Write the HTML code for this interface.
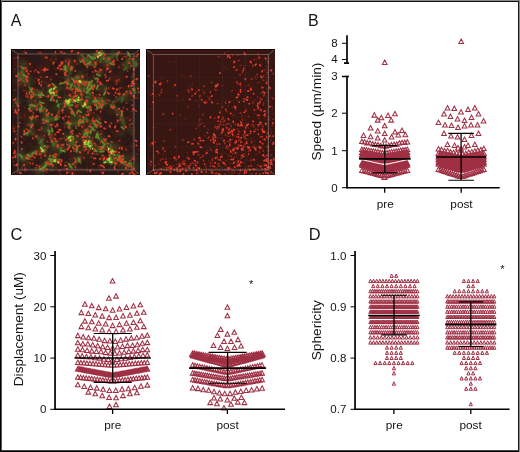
<!DOCTYPE html>
<html><head><meta charset="utf-8"><title>Figure</title>
<style>html,body{margin:0;padding:0;background:#fff;}svg{display:block;}text{font-family:"Liberation Sans",sans-serif;fill:#141414;}</style></head><body>
<svg width="520" height="452" viewBox="0 0 520 452">
<defs><clipPath id="cl"><rect x="11" y="49" width="129" height="126"/></clipPath><clipPath id="cr"><rect x="146" y="49" width="129" height="126"/></clipPath><filter id="bl" x="-5%" y="-5%" width="110%" height="110%"><feGaussianBlur stdDeviation="0.65"/></filter><filter id="bm" x="-5%" y="-5%" width="110%" height="110%"><feGaussianBlur stdDeviation="0.85"/></filter><filter id="bg" x="-5%" y="-5%" width="110%" height="110%"><feGaussianBlur stdDeviation="2"/></filter></defs>
<rect width="520" height="452" fill="#fff"/>
<rect x="0" y="0" width="520" height="1" fill="#8a8a8a"/><rect x="0" y="1" width="519" height="1" fill="#111"/><rect x="0" y="0" width="1" height="452" fill="#000"/><rect x="1" y="1" width="1" height="451" fill="#555"/><rect x="519" y="0" width="1" height="452" fill="#8a8a8a"/><rect x="518" y="1" width="1" height="451" fill="#1a1a1a"/><rect x="0" y="451" width="519" height="1" fill="#000"/><rect x="1" y="450" width="518" height="1" fill="#444"/>
<g opacity="0.999"><text x="10.8" y="26.0" font-size="16.0">A</text><text x="308.1" y="26.0" font-size="16.0">B</text><text x="10.4" y="240.0" font-size="16.4">C</text><text x="308.7" y="240.0" font-size="16.4">D</text></g>
<rect x="11" y="49" width="129" height="126" fill="#2b1917"/><g clip-path="url(#cl)"><g filter="url(#bg)"><path d="M93.4 169.0l-1.8 1.7M40.3 120.7l1.0 0.9M111.5 77.8l0.1 1.9M66.8 137.8l-1.9 0.1M138.9 149.3l-0.5 0.9M75.4 166.6l0.6 1.3M16.3 108.6l0.9 1.3M26.3 110.3l0.6 0.3M68.9 93.5l-0.1 1.5M61.9 67.0l-0.1 0.5M135.2 85.2l0.6 1.0M106.6 111.4l2.1 0.0M29.7 76.0l0.4 1.2M61.6 169.8l-0.3 1.3M134.4 129.8l-1.4 0.9M55.1 54.9l-0.3 2.4M86.3 58.7l0.8 1.8M94.0 85.5l0.9 2.1M47.7 160.9l0.6 0.7M74.4 171.6l0.6 0.4M113.3 59.8l-1.0 0.8M102.8 148.5l-0.7 0.2M58.0 151.1l-1.4 0.5M73.2 82.3l0.0 0.8M19.3 70.8l-0.5 2.2M121.8 69.1l0.1 1.5M26.6 83.0l-1.5 1.8M77.1 125.8l-2.2 0.3M87.9 56.7l2.0 1.1M43.3 67.4l-0.4 1.5M71.0 108.5l-0.5 0.6M80.7 88.7l-2.1 0.4M129.2 172.1l0.2 0.6M69.7 82.2l-1.9 0.6M30.5 113.0l-2.3 0.8M69.8 63.4l-0.1 1.4M112.0 73.5l-1.1 0.1M14.5 126.0l-0.5 0.5M66.4 164.8l-0.9 0.4M41.7 56.4l0.7 0.2M62.0 170.5l-0.8 0.9M17.3 114.2l1.5 0.5M86.1 105.6l-1.0 0.6M100.1 65.4l0.7 0.1M46.2 129.1l-2.4 0.2M121.9 65.9l-1.5 1.4M72.6 173.5l1.6 0.6M40.2 66.5l-0.7 1.6M121.1 51.8l-0.5 0.0M46.0 83.1l2.1 0.8M112.9 161.2l-0.5 1.5M13.7 125.4l-1.3 1.1M78.2 64.6l-0.4 0.8M23.0 63.7l-0.8 0.6M81.9 94.6l-0.6 2.3M43.1 120.3l0.9 2.0M67.8 121.8l-1.0 2.2M35.8 122.4l0.1 1.1M102.8 53.0l0.8 1.3M88.5 151.9l-0.6 1.3M49.4 82.1l-0.2 1.5M41.1 145.0l0.7 1.3M45.0 153.8l-2.3 0.4M44.2 59.3l1.8 0.1M120.9 134.4l0.2 1.2M99.0 70.3l-1.0 0.8M98.8 122.8l0.5 0.4M45.3 54.4l-0.4 1.7M129.5 119.0l0.2 2.3M78.2 85.2l-1.4 0.3M74.5 50.8l1.0 0.7M91.6 113.4l-1.4 0.3M109.1 61.3l-0.3 0.5M88.2 131.1l1.5 0.2M69.9 153.7l1.7 0.2M28.7 162.2l1.4 0.8M102.0 164.7l-1.0 2.0M114.7 61.3l-1.2 0.8M56.0 68.3l-1.3 1.8M13.9 58.4l-1.6 0.2M90.8 158.7l-0.2 0.7M35.9 91.5l0.1 0.8M18.8 131.6l-1.7 0.5M109.8 59.8l-0.3 2.2M131.0 111.3l-0.4 0.5M34.8 172.0l-1.5 0.5M75.1 90.8l-1.1 1.4M71.0 84.5l-0.8 1.0M41.8 70.0l-0.7 1.3M21.4 84.0l1.6 1.8M110.3 88.2l0.0 0.7M122.6 146.5l-0.4 0.5M91.2 110.1l-0.1 1.8M36.1 136.4l0.4 0.6M120.3 120.7l-0.9 1.2M75.1 97.9l1.6 0.1M57.3 55.4l-2.4 0.7M95.4 70.0l1.4 1.7M114.4 130.9l-1.2 1.2M46.7 153.5l-1.1 1.1M118.8 81.9l0.6 1.2M22.7 158.6l0.1 1.9M81.7 159.2l0.3 0.6M99.5 116.5l1.0 1.1M41.1 133.3l-1.2 0.2M126.6 170.3l-0.0 1.1M26.1 94.9l-0.0 0.6M133.6 144.7l0.8 0.9M130.4 57.0l-2.0 1.0M21.7 168.0l0.6 1.7M66.6 125.7l-1.4 0.6M125.8 90.8l-0.4 0.3M94.6 131.4l0.6 0.2M126.2 95.4l-1.4 0.1M37.6 128.9l-0.1 0.6M106.1 69.9l-2.0 0.2M117.1 148.1l-1.5 1.9M82.0 152.3l-0.8 1.9M97.3 72.5l0.6 1.0M121.2 147.0l-1.1 0.0M20.5 58.1l1.1 0.3M132.7 94.8l-1.1 0.6M80.1 128.4l0.2 1.4M133.6 84.7l0.1 1.5M30.8 68.6l-1.2 0.9M67.4 57.8l2.2 1.0M124.4 56.1l1.6 0.8M45.8 102.6l0.4 2.0M65.7 100.2l1.0 1.2M133.1 74.0l-0.1 0.8M57.3 139.6l-0.3 0.5M58.9 165.0l0.2 1.1M53.0 116.4l-0.5 0.9M64.9 138.0l0.1 1.1M83.2 139.2l0.4 1.8M23.8 64.4l0.7 0.4M36.1 132.3l-1.1 0.3M42.5 80.8l0.8 0.4M98.9 121.9l-0.8 0.6M98.1 103.4l-0.8 1.5M68.6 61.8l-1.2 0.2M60.1 129.4l-0.5 0.4M121.9 96.6l-0.1 1.2M44.8 76.4l-0.4 0.6M77.2 168.6l-2.2 0.9M132.0 154.0l0.5 0.2M136.0 158.4l-0.6 1.6M68.0 103.0l-0.1 0.8M47.6 65.6l-0.5 2.2M123.4 86.8l1.1 1.3M117.7 76.3l-0.3 1.8M54.0 60.4l-0.1 1.5M116.1 75.6l0.5 0.7M114.1 79.2l1.8 0.2M23.4 138.0l1.4 0.5M72.6 166.7l-0.2 1.3M66.0 112.9l-0.5 0.2M86.0 93.4l0.9 0.6M130.7 154.4l-0.4 1.2M82.6 75.2l-0.4 0.4M33.5 120.3l0.5 0.0M33.7 131.2l-1.7 0.0M96.2 115.0l-0.5 0.1M74.6 156.5l-0.5 0.3M73.0 77.3l1.3 0.3M86.2 77.6l1.6 1.0M99.9 126.8l-1.9 0.3M50.2 134.8l-1.2 0.4M117.0 144.8l1.2 1.2M127.4 170.1l1.2 2.1M116.6 134.3l-1.8 1.3M70.3 99.3l-1.0 1.8M81.0 158.4l0.6 0.0M71.6 62.5l2.1 0.6M124.1 78.3l-0.5 0.5M98.4 101.2l-0.3 1.7M132.5 113.2l0.2 1.6M64.9 135.7l-0.4 0.6M130.0 144.5l0.7 1.4M25.3 61.9l-1.5 0.6M122.1 73.1l-1.6 1.1M73.5 156.5l0.4 0.8M77.8 140.3l0.8 1.1M122.2 98.9l1.0 0.9M73.9 137.7l-0.6 1.1M75.2 52.0l1.5 1.9M81.8 168.9l0.9 0.2M38.9 69.4l-0.1 2.2M18.3 84.0l1.3 0.8M51.6 162.2l1.0 0.9M88.3 64.4l-0.7 1.4M24.2 118.2l-0.8 0.8M90.6 162.8l1.4 0.9M36.4 137.4l2.1 0.4M65.5 85.4l-1.3 0.6M83.5 142.4l1.3 1.6M91.0 96.8l-0.1 1.4M97.0 71.3l1.9 1.1M52.4 155.4l1.0 2.3M133.0 55.1l1.9 1.4M17.4 144.6l-0.6 0.6M13.9 65.8l1.2 0.3M72.4 93.2l0.0 2.0M134.6 154.7l-0.8 0.2M125.7 120.3l1.3 0.8M53.4 77.7l-0.3 0.8M53.9 145.3l-1.4 0.9M24.0 155.1l-0.6 1.4M43.0 136.5l-0.8 1.0M86.6 67.8l-0.8 0.8M15.0 128.5l-1.0 1.2M54.4 109.4l-1.0 1.0M22.2 113.5l-0.3 1.0M45.7 76.0l-0.9 0.3M58.8 159.2l1.3 1.5M82.8 51.6l-0.9 2.2M27.2 114.6l-0.8 1.3M49.5 162.9l1.7 0.4M116.2 159.7l-0.7 0.9M121.4 159.4l-0.6 0.3M44.3 149.5l0.2 1.9M126.6 149.7l-2.5 0.3M85.2 141.3l0.6 1.8M75.8 113.2l0.6 0.7M119.4 155.0l-1.1 1.6M77.3 121.3l1.8 0.0M68.9 170.3l0.1 0.9M22.8 82.0l2.1 0.2M113.7 149.1l1.5 1.6M130.4 96.4l-1.4 0.2M81.6 134.6l0.7 0.0M46.3 63.6l1.5 1.5M133.7 134.3l-0.5 0.7M53.1 115.6l-0.6 0.3M112.2 122.2l0.9 1.6M29.1 90.7l-0.4 1.9M30.0 80.2l1.4 0.1M18.6 106.1l-0.7 0.3M29.2 143.0l1.1 1.7M81.3 173.0l0.6 1.6M136.0 82.6l1.4 2.0M66.1 89.5l-1.7 0.7M99.8 73.0l-1.6 1.9M76.8 155.4l-0.2 0.7M112.0 146.4l1.8 0.4M73.3 83.7l0.5 1.6M70.4 116.9l-1.6 0.6M48.6 84.4l0.8 0.3M120.0 164.1l0.3 0.7M126.9 157.2l-2.5 0.1M51.3 58.7l-0.0 1.0M14.9 81.8l-0.8 1.2M32.5 65.7l1.1 0.3M28.4 63.2l-1.9 0.8M18.4 149.8l-1.0 1.9M50.8 151.8l0.7 0.1M133.3 77.8l-1.7 1.6M18.9 62.2l1.6 0.8M96.9 133.5l0.1 1.0M39.7 158.1l-1.0 1.5" stroke="#6e2519" stroke-width="2.6" opacity="0.55" stroke-linecap="round" fill="none"/><path d="M100.0 55.7l-3.9 0.2M103.4 48.5l-2.7 2.9M98.2 57.2l2.6 0.2M101.9 53.5l-1.3 1.9M86.9 58.0l3.2 1.9M96.8 54.9l-3.5 2.4M98.2 57.2l-2.1 3.9M105.3 59.3l-0.6 2.1M105.7 60.6l-1.8 0.5M104.7 60.0l-3.1 1.0M116.5 49.6l-0.1 2.5M112.6 51.8l-0.3 1.8M79.7 56.8l0.8 4.2M82.8 57.3l-1.7 2.5M81.9 58.7l3.7 1.7M91.6 63.5l1.2 1.2M95.6 63.2l-3.7 1.2M108.8 64.2l1.5 2.7M107.0 65.2l3.7 0.2M104.8 61.3l0.8 1.3M73.2 82.5l2.7 2.9M84.7 84.8l-1.9 2.6M80.4 79.8l0.8 3.5M87.3 82.9l-2.8 2.0M79.1 75.0l-0.6 3.7M77.9 78.5l4.1 1.4M81.3 72.9l-2.6 1.5M86.2 83.4l2.0 1.1M88.7 83.0l-2.1 3.5M82.4 82.9l0.3 2.4M86.7 87.2l-0.0 2.1M91.9 86.9l0.5 1.7M89.7 87.0l1.8 1.6M100.3 84.3l-1.6 3.8M94.0 78.7l-0.1 1.9M90.8 83.6l-3.3 2.0M69.5 83.0l3.0 0.0M75.5 80.1l-0.3 3.0M72.1 83.8l2.6 2.6M78.6 88.4l1.4 1.4M78.3 87.6l3.2 0.1M83.1 89.4l-2.0 2.9M89.2 85.3l1.9 2.1M89.0 98.5l-0.5 2.1M87.2 94.8l4.0 1.8M70.7 104.4l-2.1 1.2M70.8 102.3l3.7 1.5M70.7 99.4l2.6 3.3M66.7 102.9l-1.2 4.3M52.6 90.1l1.4 2.6M49.1 94.8l3.0 3.2M50.2 88.5l1.0 3.0M53.8 93.1l-2.0 0.6M47.0 87.6l3.2 2.6M52.0 89.8l0.5 2.7M55.7 87.3l4.1 0.3M56.6 87.8l0.4 4.2M55.0 96.2l-2.0 2.8M53.7 95.2l-0.8 3.0M49.3 97.2l3.3 0.1M18.9 78.0l1.9 2.0M19.8 73.3l2.2 0.2M22.2 76.7l3.0 2.6M23.3 83.0l-2.4 0.4M32.0 97.7l1.9 0.3M35.8 90.8l-3.9 1.5M29.1 79.0l2.2 3.7M40.1 91.6l3.5 2.7M36.9 95.4l0.8 3.9M44.8 93.9l-2.5 0.7M29.1 100.1l1.7 1.9M34.5 105.1l-1.4 1.8M48.5 120.8l-4.3 0.6M44.4 118.0l0.1 2.8M48.9 115.8l-2.7 2.9M68.5 67.1l-2.5 0.2M68.9 60.5l2.2 0.6M21.0 63.1l3.2 1.3M23.3 65.8l1.2 2.9M68.5 86.1l1.7 2.8M57.9 87.0l2.3 2.0M65.3 78.2l4.2 1.4M72.4 97.4l-1.7 1.5M71.4 98.4l-1.2 3.1M69.3 102.5l1.5 1.2M68.0 103.2l2.8 2.1M64.8 96.8l2.1 1.5M60.1 102.6l-1.4 0.5M56.3 106.6l-2.5 1.0M30.5 102.9l0.1 1.8M38.4 97.4l1.9 0.8M15.7 99.1l3.0 2.5M10.3 103.8l3.3 2.2M45.9 109.9l-3.5 1.2M44.2 109.7l3.7 0.5M43.6 106.2l-0.5 3.3M77.2 94.8l2.4 1.5M76.5 99.7l0.4 1.8M79.0 101.9l3.0 0.4M78.7 98.3l-2.8 2.4M86.6 102.9l-2.9 0.7M84.3 105.5l1.6 2.5M87.2 104.9l-1.9 0.4M82.7 98.7l-1.6 1.3M90.0 92.8l-1.6 2.8M93.6 100.2l1.4 0.7M93.6 97.9l-2.9 1.0M100.2 99.4l-1.9 0.4M101.9 102.6l-0.8 1.6M104.0 97.3l1.8 2.0M120.2 98.2l-1.3 1.1M122.9 96.9l3.9 1.9M131.0 87.9l1.4 2.0M137.8 90.8l-2.4 3.0M123.7 65.1l2.1 0.7M135.0 58.6l2.4 2.7M126.9 61.6l3.4 2.8M128.5 57.9l1.7 1.5M32.7 131.0l-2.1 0.6M28.6 129.7l-3.5 0.2M44.4 153.6l-1.7 0.5M43.9 150.3l-1.8 0.4M40.9 151.2l1.6 0.2M42.4 145.0l-2.4 2.6M29.4 156.2l1.4 2.2M35.0 150.4l-1.5 3.8M38.8 138.1l3.4 2.0M43.5 139.9l-3.8 0.3M49.6 166.0l1.8 1.5M50.4 156.0l-0.8 1.7M56.7 161.3l-2.8 2.2M50.6 162.9l0.3 2.2M51.2 157.4l-1.7 3.4M54.4 161.6l-1.7 0.9M52.4 155.1l0.4 2.0M74.1 136.7l0.8 3.6M70.1 142.2l1.5 1.1M70.0 138.7l-2.1 1.6M68.2 134.2l0.4 3.4M73.3 143.1l0.4 2.7M74.6 143.6l-3.4 0.8M76.0 147.9l1.3 3.6M52.8 115.4l-0.3 4.0M51.5 120.4l-1.2 1.8M53.9 120.6l-1.9 0.1M35.1 118.6l-1.8 1.3M30.2 121.1l-1.4 1.2M21.3 151.2l1.7 2.3M17.7 154.8l1.8 3.6M39.4 169.6l-1.0 1.2M40.0 170.3l0.2 2.4M36.2 169.6l1.5 3.2M22.0 157.8l1.6 0.8M23.4 164.2l2.3 1.2M84.5 115.4l-3.3 1.1M88.5 112.9l-1.2 1.7M83.4 117.6l-2.6 1.0M84.4 120.8l-0.6 2.8M75.7 116.1l0.7 2.5M80.6 120.2l-1.4 3.1M88.6 133.8l0.2 2.6M86.6 128.6l0.4 2.1M87.3 130.5l2.4 3.2M96.0 133.2l-1.0 1.2M100.9 134.5l1.0 1.3M101.2 135.6l-1.4 4.0M89.1 144.6l2.0 0.2M90.3 138.3l1.4 3.2M91.1 140.4l2.2 2.3M88.8 147.6l0.5 2.4M85.0 140.8l2.6 2.5M86.4 139.4l-1.3 1.1M83.0 135.9l3.6 1.0M84.4 138.2l-2.8 0.6M104.5 147.2l-3.4 2.7M105.2 144.3l-1.7 0.1M105.4 139.1l-0.8 2.4M114.0 148.9l-0.7 2.7M114.5 144.4l-1.4 0.8M112.5 143.8l2.1 2.4M116.1 145.6l-3.4 1.0M114.0 157.3l1.7 1.2M120.6 160.0l-0.5 2.5M114.8 159.1l1.9 0.3M111.6 161.5l-1.6 0.0M112.5 158.0l2.2 2.3M113.6 157.3l-3.2 2.9M113.3 154.9l2.2 0.3M125.7 157.8l4.0 0.6M125.4 157.2l-3.4 0.2M126.5 166.1l2.1 0.9M122.9 164.7l2.0 1.0M134.8 159.1l0.3 1.9M137.1 166.2l-1.6 3.7M121.1 111.0l-1.8 0.8M120.1 116.9l1.3 1.5M122.4 133.0l-1.8 0.1M128.2 128.6l2.8 2.2M84.5 148.9l-4.4 1.0M87.8 144.0l4.1 0.8M85.4 140.6l4.4 0.2M87.9 140.6l1.9 0.0M82.9 130.8l3.6 0.6M87.8 130.8l-3.7 1.7M84.4 131.9l0.3 4.2M76.0 139.2l-3.6 1.6M70.0 140.1l-1.9 1.9M76.2 137.0l0.1 4.4M107.7 158.5l-0.5 1.5M103.3 158.9l3.4 1.1M110.3 157.4l1.5 0.6M103.6 160.7l2.2 0.9M121.0 156.2l0.5 2.2M111.7 156.7l3.0 0.7M111.3 160.0l1.4 0.7M47.5 128.0l2.3 2.7M42.7 128.1l2.4 2.4M45.7 128.9l2.7 3.4M53.4 144.9l1.7 1.6M58.7 143.0l-1.4 3.8M52.0 140.4l-1.3 1.7M45.3 161.8l0.1 3.2M43.1 172.3l-1.8 1.6M44.2 163.9l0.8 4.0M98.0 101.4l-0.2 4.0M101.5 100.5l0.3 3.8M101.0 101.9l3.9 1.7M91.9 124.5l2.2 2.9M92.5 126.1l1.4 2.2M97.0 118.2l0.5 3.0M65.7 72.6l1.5 0.2M70.6 67.3l-3.2 2.8M72.1 115.7l-0.3 3.5M78.5 112.3l-0.5 2.7M70.8 107.2l0.2 4.4M75.4 122.3l-4.0 0.1M71.6 122.3l1.2 1.6M65.8 124.2l1.7 1.1M62.6 145.9l2.9 2.0M59.0 149.0l-1.0 2.1M52.2 146.6l0.9 3.1M97.5 145.9l1.6 3.3M99.9 151.7l-1.7 0.5M95.2 147.4l1.0 2.7M82.6 157.6l-3.3 0.4M72.8 159.1l0.8 2.1M80.7 157.6l-2.2 0.9M70.0 165.1l-1.6 1.0M68.1 165.9l1.3 1.6M102.0 73.0l-2.5 1.4M101.4 72.5l-1.6 2.0M105.0 85.9l-1.1 4.0M102.3 90.5l2.6 2.1M108.5 103.6l2.6 0.7M115.0 108.8l-1.2 2.1" stroke="#46652a" stroke-width="3.0" opacity="0.60" stroke-linecap="round" fill="none"/></g><g filter="url(#bm)"><path d="M99.0 54.0Q94.8 55.6 94.0 55.0M99.0 54.0Q101.9 56.0 105.0 58.0M94.0 55.0Q96.3 53.7 99.0 54.0M94.0 55.0Q91.9 61.2 90.0 62.0M105.0 58.0Q108.5 58.1 108.0 63.0M105.0 58.0Q104.5 56.1 99.0 54.0M117.0 54.4Q111.3 57.9 108.0 63.0M117.0 54.4Q110.0 56.7 105.0 58.0M84.5 60.7Q83.7 59.1 90.0 62.0M84.5 60.7Q91.3 58.9 94.0 55.0M90.0 62.0Q87.5 62.9 84.5 60.7M80.0 81.0Q80.6 81.6 83.0 82.0M80.0 81.0Q77.5 80.0 78.8 76.3M78.8 76.3Q81.2 78.2 83.0 82.0M83.0 82.0Q80.4 80.3 80.0 81.0M90.0 87.7Q94.2 87.8 94.4 84.8M90.0 87.7Q87.8 89.1 87.0 93.0M94.4 84.8Q90.3 84.6 90.0 87.7M94.4 84.8Q89.0 89.2 87.0 93.0M74.0 86.0Q76.2 86.1 80.0 90.0M80.0 90.0Q75.2 88.4 74.0 86.0M80.0 90.0Q87.4 88.6 87.0 93.0M68.0 103.0Q69.1 103.8 69.5 100.4M68.0 103.0Q63.7 102.7 59.6 104.7M52.0 92.0Q50.2 85.2 52.5 89.0M52.0 92.0Q49.5 96.2 52.5 96.0M52.5 89.0Q50.8 90.0 52.5 96.0M52.5 96.0Q49.8 97.6 52.0 92.0M52.5 96.0Q51.9 94.1 52.5 89.0M24.0 79.0Q22.6 76.6 21.3 78.5M24.0 79.0Q25.4 73.1 22.7 69.2M21.3 78.5Q23.0 78.9 24.0 79.0M21.3 78.5Q21.7 74.0 22.7 69.2M31.2 90.5Q33.8 91.6 40.5 93.3M31.2 90.5Q28.6 83.5 24.0 79.0M30.0 107.0Q32.1 104.6 36.9 104.7M30.0 107.0Q36.1 110.6 42.6 109.0M46.0 118.0Q45.4 113.5 42.6 109.0M46.0 118.0Q50.0 120.7 56.7 117.7M63.8 66.4Q67.5 68.2 72.0 70.0M22.7 69.2Q19.9 72.1 21.3 78.5M22.7 69.2Q23.6 72.6 24.0 79.0M66.0 82.7Q67.6 77.1 72.0 70.0M69.5 100.4Q76.7 98.8 78.0 100.4M36.9 104.7Q40.0 107.2 42.6 109.0M78.0 100.4Q80.9 105.9 84.5 104.7M84.5 104.7Q80.5 103.7 78.0 100.4M84.5 104.7Q93.2 104.3 94.4 100.4M94.4 100.4Q100.2 99.5 101.5 101.8M94.4 100.4Q99.8 103.7 102.0 107.0M101.5 101.8Q103.6 106.0 102.0 107.0M121.3 97.6Q117.3 98.7 112.0 105.0M121.3 97.6Q126.3 94.2 131.0 90.5M131.0 90.5Q127.7 91.7 121.3 97.6M124.9 68.5Q125.9 63.6 129.0 59.0M124.9 68.5Q131.9 66.2 138.0 65.0M138.0 65.0Q133.5 62.1 129.0 59.0M29.8 133.0Q35.4 134.6 39.7 140.0M29.8 133.0Q33.0 126.5 31.0 120.5M42.6 150.0Q44.6 143.3 39.7 140.0M42.6 150.0Q39.0 152.7 31.0 153.0M31.0 153.0Q27.7 157.8 24.0 160.0M31.0 153.0Q23.1 158.8 20.0 157.0M39.7 140.0Q40.4 145.3 42.6 150.0M51.0 160.0Q50.7 160.1 55.0 160.0M51.0 160.0Q45.0 162.2 44.0 165.0M55.0 160.0Q47.4 163.8 44.0 165.0M69.5 139.0Q69.3 135.0 71.0 137.0M69.5 139.0Q71.2 145.2 75.0 146.0M75.0 146.0Q71.6 140.8 71.0 137.0M56.7 117.7Q59.2 111.9 59.6 104.7M31.0 120.5Q32.7 127.5 29.8 133.0M20.0 157.0Q21.2 157.8 24.0 160.0M40.5 169.4Q43.2 165.3 44.0 165.0M40.5 169.4Q44.4 164.1 51.0 160.0M24.0 160.0Q23.8 160.9 20.0 157.0M86.6 119.0Q83.5 120.1 78.8 122.0M86.6 119.0Q91.1 123.8 96.0 125.0M78.8 122.0Q82.1 122.3 86.6 119.0M78.8 122.0Q71.1 123.9 70.0 125.0M91.6 130.4Q91.9 126.7 96.0 125.0M91.6 130.4Q86.0 130.9 85.0 134.0M98.7 137.5Q106.8 141.4 106.5 145.3M90.0 146.0Q89.2 143.7 88.0 143.0M90.0 146.0Q88.8 144.5 86.0 141.7M86.0 141.7Q86.6 141.7 88.0 143.0M86.0 141.7Q87.8 143.9 90.0 146.0M106.5 145.3Q108.9 149.2 111.4 150.2M106.5 145.3Q102.3 147.8 98.0 150.0M111.4 150.2Q109.0 149.1 106.5 145.3M111.4 150.2Q112.0 155.3 115.0 159.0M118.5 157.3Q116.6 158.4 115.0 159.0M118.5 157.3Q121.9 157.4 122.7 161.6M111.4 161.6Q109.6 161.3 108.0 161.0M111.4 161.6Q113.5 163.5 115.0 159.0M122.7 161.6Q123.2 163.6 125.6 165.0M125.6 165.0Q129.6 165.9 131.0 164.4M131.0 164.4Q126.0 164.9 122.7 161.6M121.0 114.8Q121.5 119.3 124.0 127.6M121.0 114.8Q115.4 108.9 112.0 105.0M124.0 127.6Q125.3 121.5 121.0 114.8M85.0 134.0Q88.4 131.3 91.6 130.4M71.0 137.0Q72.0 135.9 69.5 139.0M108.0 161.0Q112.6 159.5 115.0 159.0M50.0 131.0Q52.7 138.5 55.0 143.0M50.0 131.0Q48.3 123.6 46.0 118.0M55.0 143.0Q59.3 147.4 62.0 150.0M96.0 125.0Q92.9 127.5 91.6 130.4M96.0 125.0Q91.7 122.5 86.6 119.0M76.0 112.0Q80.6 110.3 84.5 104.7M70.0 125.0Q72.1 132.1 71.0 137.0M62.0 150.0Q58.7 153.9 55.0 160.0M80.0 160.0Q73.1 165.6 70.0 165.0" stroke="#557a2b" stroke-width="1.7" opacity="0.6" fill="none" stroke-linecap="round"/></g><g filter="url(#bl)"><path d="M94.1 62.7l-0.3 0.7M100.6 60.9l-0.9 1.1M76.4 78.4l-1.2 0.7M75.1 77.0l0.5 0.1M81.2 81.3l0.2 1.0M95.3 85.4l0.4 0.4M96.8 88.9l0.9 1.2M76.2 89.7l1.7 0.5M66.0 100.3l-0.7 0.3M52.6 87.0l-1.1 1.4M20.3 84.7l-1.1 0.7M19.4 83.7l-1.1 1.3M19.8 77.4l-0.9 0.6M24.1 74.0l0.4 0.0M34.7 81.4l0.1 0.2M23.1 90.4l1.5 0.2M43.0 87.8l0.1 0.8M42.8 90.0l-0.5 1.5M39.2 95.8l-0.5 1.6M29.7 107.3l0.6 1.0M20.2 66.4l0.3 1.0M66.1 85.6l0.7 0.3M72.1 98.5l0.6 0.0M34.5 101.4l0.6 1.1M82.1 103.8l0.7 1.6M87.4 110.6l1.5 0.8M117.4 109.9l-0.1 0.5M130.3 94.0l-0.9 0.3M137.8 59.5l-0.3 0.3M43.6 139.3l0.2 0.8M48.0 157.5l0.5 0.3M64.7 138.3l1.1 1.0M31.3 124.3l0.3 0.7M30.5 124.0l-0.5 0.3M38.1 172.6l-1.1 0.3M79.6 115.2l0.3 0.2M84.5 124.0l0.1 1.3M93.2 128.8l-0.0 0.7M101.9 133.6l0.3 1.0M111.9 152.4l0.5 0.2M117.4 156.8l-0.5 0.1M127.4 162.6l-0.2 0.3M122.3 163.2l-0.4 0.7M123.3 165.3l-0.3 0.1M126.0 164.5l0.0 0.4M115.5 112.2l-0.4 0.4M84.0 149.1l-0.9 0.2M84.4 128.0l0.2 0.4M71.4 135.3l0.6 1.2M104.9 170.7l-1.0 0.2M111.1 150.3l0.4 1.5M50.1 130.6l1.0 0.1M95.0 109.1l0.3 0.5M68.7 126.8l-1.0 0.4M64.5 149.1l0.1 0.7M70.1 159.0l-0.7 0.5M100.2 89.0l-1.2 0.4M82.9 150.2l1.4 0.5M138.5 149.8l-0.7 0.0M78.0 104.7l1.1 0.8M93.6 75.9l0.6 1.5M72.4 68.0l1.1 0.2M106.4 55.2l-1.4 1.0M26.1 170.7l-0.4 0.3M77.5 63.6l-1.6 0.4M16.9 134.6l-0.8 0.3M109.1 153.8l0.9 1.1M110.1 146.2l-0.1 1.5M24.3 76.7l1.6 0.1M88.3 136.3l0.3 0.1M97.5 84.8l-0.5 0.1M96.1 123.0l0.4 0.2M136.8 97.8l0.8 0.7M59.1 115.1l-0.5 0.4M102.7 62.1l0.8 0.5M134.3 156.5l-0.1 1.7M71.1 140.8l0.5 0.8M96.5 95.1l0.1 1.8M80.7 79.4l-0.5 1.0M35.9 78.5l1.6 0.4M131.4 100.1l-0.2 0.0M40.3 153.5l0.2 1.8M134.1 90.2l-0.4 0.6M60.1 70.5l-0.1 0.2M70.2 119.9l0.3 0.3M134.3 74.3l-0.4 1.6M102.3 130.5l-1.4 1.1M42.3 141.3l-0.9 0.8M38.0 52.4l0.9 1.0M13.6 71.9l0.2 0.1M61.5 139.1l-1.2 0.9M86.9 74.1l-1.2 0.9M52.7 139.6l1.1 0.3M58.7 139.0l1.4 0.5M130.7 126.9l-0.4 0.8M50.8 59.0l0.3 1.4M34.3 71.9l0.4 0.8M103.2 141.1l-0.5 0.1M36.6 102.2l-0.4 1.5M111.6 147.1l0.3 0.5M25.7 90.9l1.1 1.0M39.2 95.3l-1.0 1.4M24.6 115.2l0.6 1.3M105.3 73.6l-0.5 0.9M82.5 144.3l-0.8 0.2M24.6 51.2l-0.9 1.0M45.2 114.3l-1.1 0.3M86.8 139.5l-0.8 1.1M118.6 164.7l0.3 1.7M138.7 92.0l0.5 0.3M64.7 126.8l0.4 0.3M100.0 98.9l-0.4 1.5M55.8 167.2l0.7 0.5M73.1 91.6l-0.9 0.7M128.0 117.1l-0.6 0.4M99.9 53.2l-0.2 0.2M58.4 171.4l0.6 0.6M135.8 173.4l0.4 0.3M57.2 141.5l-0.6 0.9M100.0 51.1l-0.1 1.5M99.7 89.8l-0.2 0.6M66.8 165.8l1.4 0.5M60.4 81.3l0.0 0.3M42.2 107.7l-1.7 0.4M33.4 159.9l-1.7 0.1M86.4 169.9l0.6 0.9M50.8 170.2l1.7 0.4M99.2 164.9l-0.8 1.0M19.2 103.2l-0.1 0.7M65.4 162.0l1.5 0.1M78.0 90.5l-0.5 0.7M117.6 171.7l0.9 1.0M14.9 57.7l-0.4 0.4M32.7 127.7l0.5 0.9M102.7 84.7l0.9 0.0M87.1 170.2l-0.4 1.7M78.2 81.2l0.4 0.9M63.7 138.0l-0.6 0.7M28.0 162.0l-0.2 0.8M90.0 86.8l-1.5 0.4M24.5 107.5l0.2 0.1M33.4 132.3l0.3 0.9M112.5 107.0l-0.5 0.6M80.1 157.0l0.8 1.4M55.4 58.7l1.1 0.4M117.7 81.1l0.6 0.5M82.6 124.8l-0.3 0.3M133.1 73.9l-0.0 0.9M80.8 77.4l-0.5 0.5M122.7 56.7l0.2 0.2M104.1 64.6l0.1 0.2M71.1 121.5l-1.0 0.5M53.9 124.3l-0.2 0.3M21.6 166.1l0.5 1.2M94.4 153.3l0.9 1.1M51.2 122.9l-0.3 0.1M15.0 69.2l0.3 0.1M25.3 167.2l-1.1 0.5M36.5 104.5l0.7 0.9M94.0 61.1l0.7 0.7M47.5 171.7l-1.8 0.3M37.4 107.6l-0.2 0.3M114.9 81.2l1.5 0.6M94.3 112.9l-1.2 0.0M100.9 169.8l-0.3 1.1M27.6 124.5l-1.3 1.2M14.8 90.1l-0.2 0.2M35.0 119.5l1.7 0.1M101.3 122.2l-0.0 1.5M116.4 151.9l-1.4 1.0M52.5 134.9l-0.3 1.5M44.7 117.5l-1.5 0.5M25.4 85.3l-0.8 0.5M49.9 85.4l0.3 0.5M45.3 82.4l-0.7 0.7M69.4 171.8l0.2 0.7M75.2 105.6l0.9 0.7M99.8 97.5l0.9 1.2M82.7 131.3l0.0 0.3M105.8 127.8l0.7 0.6M97.7 116.3l0.2 0.3M137.2 97.3l-0.2 0.1M82.3 143.8l-0.2 0.2M100.6 119.8l-1.7 0.2M54.6 90.1l-0.8 0.3M118.3 88.7l1.1 1.2M72.9 91.2l-0.5 1.5M66.6 171.8l1.3 0.2M27.8 68.9l-0.4 0.3M114.2 108.7l-0.1 0.7M15.0 164.6l-1.0 0.6M29.5 101.5l0.1 0.2M138.7 63.4l-1.0 1.2M96.9 109.0l-0.6 1.6M87.2 102.5l-1.1 1.3M34.6 88.3l-0.1 1.6M98.9 117.6l0.3 1.3M45.7 76.6l0.6 0.9M124.5 131.3l0.2 0.1M27.8 131.2l1.0 1.3M38.1 150.0l-0.7 1.0M44.2 70.8l-0.0 1.3M15.3 89.8l-0.9 0.7M64.5 69.7l0.6 0.3M25.3 158.6l-0.1 0.8M101.9 148.8l0.9 1.4M130.3 56.9l-0.4 0.4M13.9 161.3l-0.9 0.4M18.7 65.7l0.6 0.9M137.2 153.6l0.4 0.4M71.4 85.8l-0.3 0.9M121.4 159.1l0.1 1.5M20.9 117.6l-1.7 0.4M60.0 173.8l1.2 1.2M64.5 119.5l-0.5 0.2M80.7 121.5l0.3 1.6" stroke="#75261b" stroke-width="1.6" opacity="0.80" stroke-linecap="round" fill="none"/><path d="M78.3 146.1l-2.3 2.8M39.6 101.4l-1.9 4.8M64.5 149.8l-3.0 1.9M78.6 80.8l2.6 2.5M44.1 108.2l2.6 2.3M70.3 138.9l-4.1 1.6M65.0 66.8l-2.1 3.4M54.0 88.6l-3.0 0.7M87.5 141.5l3.4 1.6M70.2 140.4l1.5 0.5M46.5 113.2l2.0 3.4M52.7 144.1l0.7 1.4M101.9 50.9l-3.3 2.4M39.4 91.6l3.6 3.7M94.0 84.4l0.9 1.8M68.5 127.3l0.9 1.2M110.7 104.8l2.1 1.8M102.7 104.7l-1.2 4.4M89.0 139.8l0.5 2.2M108.9 160.8l-3.5 1.6M101.2 58.4l-0.4 3.5M18.5 73.3l0.7 2.0M53.2 92.0l-5.1 0.1M84.5 88.6l0.2 1.6M85.8 97.1l3.4 0.3M89.9 63.7l3.7 1.8M52.4 141.6l0.4 3.9M45.0 149.0l-4.1 2.7M49.2 157.2l1.0 2.9M54.4 88.2l-1.9 3.0M114.0 105.2l-0.0 2.9M93.3 101.9l3.1 2.3M21.2 79.5l3.4 2.5M69.3 99.3l-0.7 4.6M86.7 81.4l-2.5 0.3M29.4 87.5l1.5 2.6M84.0 118.0l2.2 1.0M88.4 91.7l1.9 2.7M109.3 159.9l-3.3 0.6M59.7 116.6l-1.9 2.6M67.6 79.8l2.0 4.8M120.8 156.4l-0.8 1.8M136.2 62.0l-0.3 4.6M115.3 163.8l-0.5 2.5M110.9 162.7l1.8 0.3M19.7 77.4l0.6 2.3M109.1 143.2l2.2 3.2M88.1 102.2l-3.6 1.4M117.9 154.4l1.8 3.4M71.1 166.9l1.2 1.4M58.4 147.6l1.7 0.1M73.6 85.4l3.5 2.7M66.7 136.7l3.6 0.2M78.7 96.7l-2.3 0.1M25.8 132.7l2.1 3.1M30.8 94.6l4.5 0.4M126.0 68.1l-2.0 2.0M79.1 86.7l0.4 3.5M55.3 156.4l0.2 2.0M50.7 91.8l1.7 1.8M66.6 105.2l-4.2 2.8M55.4 158.1l1.3 1.8M122.9 98.6l-1.5 3.2M87.8 128.9l-3.3 2.5M87.7 144.8l3.5 2.5M97.7 132.1l-1.8 4.8M46.3 150.3l-2.5 1.6M85.5 83.7l-2.5 0.3M35.1 95.0l4.5 0.6M107.2 61.3l-1.8 0.1M69.5 99.4l3.5 2.3M76.0 125.2l0.2 3.5M85.9 118.4l-3.3 1.5M65.4 104.4l2.6 0.4M16.2 102.1l1.3 3.3M43.0 119.1l4.5 1.1M72.3 140.0l-2.1 2.3M81.4 54.9l3.6 3.8M102.1 101.2l1.5 3.7M49.9 92.0l2.2 0.6M105.9 87.5l-0.5 3.5M108.6 57.1l1.3 1.4M101.9 98.1l-3.5 3.9M103.2 57.1l2.7 1.8M84.2 82.6l-1.6 0.7M43.4 139.0l-2.8 2.1M107.6 162.0l3.9 2.2M91.5 57.0l2.0 0.1M79.1 77.7l-4.2 0.2M76.5 77.0l1.6 0.7M82.0 83.0l0.5 1.4M41.9 141.4l-2.5 1.5M87.2 141.5l-0.4 1.7M83.7 146.8l4.4 0.2M98.6 54.1l-3.5 0.7M123.7 163.5l3.6 2.5M96.9 125.5l-0.5 2.0M84.4 118.3l3.0 1.5M77.6 77.5l-1.8 3.9M80.1 81.1l-3.6 0.8M134.6 88.4l0.5 4.5M75.4 159.7l2.1 1.3M131.2 165.8l-2.3 0.5M114.0 154.9l5.0 0.5M103.5 100.3l1.7 3.3M108.5 57.0l0.2 2.2M57.3 105.6l1.3 1.6M77.5 158.9l3.3 4.3M129.1 162.5l0.3 4.8M72.6 136.5l-2.7 2.7M54.5 143.2l-0.1 2.4M44.8 167.3l-1.5 0.9M71.8 110.4l1.2 1.8M46.0 147.0l1.5 1.2M111.4 159.4l1.2 3.7M117.1 53.7l-0.1 4.6" stroke="#4a6c2a" stroke-width="2.0" opacity="0.70" stroke-linecap="round" fill="none"/><path d="M96.3 55.6l0.3 0.4M104.9 58.1l-1.2 1.0M124.6 56.5l1.2 0.2M87.7 55.9l-0.6 1.4M108.0 64.4l0.2 0.7M107.2 65.0l-0.7 1.1M80.3 85.8l-0.9 0.2M77.5 88.9l-0.1 0.4M77.9 80.0l0.5 0.1M80.8 82.2l0.9 0.3M71.6 77.7l0.0 1.7M91.0 85.3l0.3 0.4M83.6 91.6l0.5 0.1M65.4 100.9l-1.1 0.2M56.1 92.1l1.1 0.3M52.8 93.9l1.4 0.3M52.0 96.5l0.9 0.7M26.7 75.8l0.5 0.3M31.8 110.3l-0.2 0.9M20.9 72.2l0.1 1.8M69.0 79.5l-0.2 0.9M71.7 101.6l-1.1 0.0M70.1 96.2l1.6 0.3M58.9 110.9l0.2 0.5M15.4 102.4l0.6 1.0M77.7 106.7l-1.1 0.9M99.5 104.5l-0.1 0.3M106.8 99.9l0.4 0.4M28.1 124.9l1.8 0.2M31.4 127.1l-0.0 0.3M40.9 150.8l-0.2 0.0M44.1 148.6l0.9 0.4M45.4 152.4l-1.0 0.3M33.3 163.2l-1.1 1.2M44.2 135.5l0.5 0.7M51.4 160.0l-1.1 0.3M57.9 159.9l-0.8 0.9M76.7 147.6l0.6 0.2M58.3 113.1l0.9 0.3M17.2 154.4l0.0 0.3M46.7 168.3l-0.4 0.7M30.1 162.9l-0.1 0.8M29.5 156.1l-0.1 0.2M94.8 130.2l0.3 0.5M96.0 145.1l-1.3 0.6M99.1 138.7l0.4 1.0M84.7 146.4l-0.6 0.5M88.4 152.1l-0.4 1.4M90.0 140.0l1.6 0.3M89.8 149.9l-0.9 0.6M108.6 135.7l-0.4 0.8M109.3 154.9l-0.4 0.1M112.6 148.3l-1.5 0.1M107.3 158.7l0.3 0.1M126.9 164.5l-0.4 1.4M126.4 163.3l0.6 0.5M123.9 128.6l-0.0 0.8M91.8 141.5l0.8 0.2M114.9 159.6l-0.5 0.3M51.6 127.1l0.2 1.2M50.8 134.6l-0.6 1.4M56.3 145.9l0.7 1.6M48.2 161.5l0.5 1.5M106.7 103.3l-0.1 0.3M99.7 124.0l-0.5 1.2M90.0 124.2l0.0 1.7M79.3 116.2l1.1 0.2M75.9 106.3l-0.5 0.4M61.8 147.6l0.7 0.1M54.3 157.0l1.4 1.0M97.7 154.0l-0.8 0.1M98.6 146.6l-0.3 0.3M74.4 157.8l0.9 1.1M84.3 157.6l-0.3 0.6M80.2 158.8l-0.3 1.5M100.6 71.0l-1.2 1.2M109.4 100.4l-0.2 0.8M114.1 94.9l-0.3 0.2M13.4 128.2l0.6 0.1M73.2 67.0l-0.8 1.0M119.0 67.0l-0.1 0.5M80.3 59.3l-1.1 0.4M102.1 104.8l1.3 0.2M120.3 119.2l-0.4 0.9M113.7 60.1l0.7 0.8M14.0 142.5l-1.3 0.9M25.8 95.9l1.3 0.6M131.8 105.1l0.4 0.5M65.0 53.1l-1.6 0.4M33.3 116.1l-1.0 0.2M47.5 145.5l0.2 0.3M99.9 105.4l-0.3 0.1M61.0 145.0l0.4 0.3M118.4 79.5l0.8 0.3M17.5 104.7l-0.4 0.4M20.2 79.4l0.2 1.1M65.9 115.9l-0.7 1.3M41.0 77.0l0.2 0.1M66.0 60.1l-0.4 1.7M93.0 137.6l-0.4 0.3M45.2 152.0l-1.4 0.6M31.7 91.9l0.2 0.7M100.8 83.0l0.7 1.2M24.8 132.4l0.3 0.2M26.6 128.8l0.1 0.6M123.5 107.5l-0.0 0.4M61.8 110.2l1.0 0.8M17.7 171.7l0.0 0.4M126.9 108.9l0.7 0.9M31.7 156.0l-0.3 0.3M116.2 83.3l0.4 0.7M95.2 56.4l0.1 1.1M105.5 89.0l1.1 0.4M128.2 54.8l-0.6 0.7M106.8 149.5l-1.6 0.0M61.0 138.2l0.3 0.4M16.0 112.5l-1.6 0.2M130.5 119.7l-1.0 0.7M88.9 82.5l-0.0 0.9M37.3 89.5l0.0 0.5M135.6 110.6l0.8 0.6M31.2 71.4l-1.3 0.1M120.0 140.5l-1.2 0.3M126.1 149.4l0.0 0.7M68.4 148.2l-0.9 0.3M121.3 163.5l0.4 0.2M113.6 101.6l-0.7 0.8M134.0 168.5l0.6 1.0M108.4 68.9l-1.1 0.3M48.0 96.3l-1.7 0.0M85.0 150.3l-0.8 0.4M99.2 118.9l0.4 0.2M75.1 83.6l-0.8 0.7M92.9 117.6l0.5 1.2M33.2 112.6l0.3 1.1M116.8 80.3l0.3 0.9M109.4 78.0l0.2 1.5M129.4 125.1l0.3 0.1M106.6 139.0l-0.2 0.4M96.3 61.8l0.2 0.1M138.2 91.9l1.0 0.8M75.4 150.4l-1.4 0.9M30.8 110.2l-0.8 1.1M136.0 56.1l1.4 0.5M19.8 122.5l-0.4 0.6M27.5 97.5l0.2 0.0M78.4 110.1l-0.0 0.8M79.1 133.3l1.1 1.0M36.1 70.0l-1.5 0.7M120.3 160.5l-0.4 0.3M88.8 113.5l0.3 0.4M46.9 146.4l1.8 0.3M41.7 127.7l-0.2 1.5M49.5 137.2l1.5 0.9M75.2 96.4l-0.5 0.2M59.5 64.6l0.5 0.9M119.5 92.3l0.7 1.6M40.7 169.1l0.0 1.3M30.2 126.2l0.6 0.8M81.8 126.7l0.9 0.7M82.6 126.1l-0.3 0.3M95.9 100.6l-0.4 0.1M24.9 84.6l0.4 0.9M40.9 157.5l0.4 0.2M15.1 165.3l-0.2 0.2M77.5 104.9l-1.2 0.7M35.4 100.7l-0.4 0.7M38.8 129.9l1.2 0.1M62.8 112.4l-0.0 0.4M134.9 97.8l-0.6 0.1M51.0 138.9l0.7 0.3M21.1 136.2l0.9 1.0M83.3 60.3l0.3 0.3M100.7 141.9l-0.2 0.8M36.7 167.8l-1.4 0.0M97.4 71.5l0.9 0.7M25.9 69.6l-0.5 0.3M120.0 87.9l0.8 0.0M41.8 81.7l-0.2 0.3M84.4 90.8l0.8 0.3M69.1 107.5l0.7 0.2M92.6 71.9l0.5 0.1M111.3 122.9l0.0 0.7M61.3 82.8l-0.0 0.3M75.0 100.4l-1.1 0.8M44.2 121.8l-0.5 0.5M54.8 117.6l-1.1 0.3M75.1 166.1l0.5 1.5M129.9 58.4l0.4 0.2M100.9 133.6l-1.1 1.0M103.0 147.4l1.2 0.5M116.3 96.7l-0.4 0.4M92.8 95.6l-0.0 0.3M131.3 123.5l0.6 0.6M51.0 79.2l-0.4 0.5M68.8 141.0l-0.1 0.5M104.8 74.9l0.7 0.2M27.7 95.9l0.3 0.3M69.2 88.2l-0.9 1.1M129.6 160.1l1.0 0.9M91.5 156.8l-0.4 0.4M131.6 65.0l-1.0 1.0M25.6 168.9l-0.9 1.1M99.3 101.2l-0.3 0.1M132.3 168.7l-0.9 1.0M106.2 76.4l-0.8 1.4M29.6 158.7l0.5 0.4M40.1 52.5l0.6 0.3M108.6 87.8l-0.1 0.5M87.2 111.5l1.0 0.4M66.1 103.9l0.3 0.7M59.8 170.5l-0.1 0.2M132.0 168.0l1.1 0.4M91.5 129.3l0.2 0.1M86.8 84.5l0.3 0.3M127.4 70.9l0.3 0.3M126.8 103.0l-0.6 0.0M98.9 97.6l-0.4 0.1M101.0 107.4l0.5 0.3M123.1 64.2l-0.0 0.6M63.7 66.2l-0.2 1.1M83.0 95.3l-1.3 0.9M23.7 74.6l-0.2 0.1M69.4 60.2l-0.3 1.5M117.1 59.8l0.7 0.3M47.5 57.5l-0.4 0.6M88.3 87.5l-0.8 1.0M47.2 141.6l0.4 0.0M132.3 158.8l1.5 0.1M95.2 62.2l-0.2 0.3M113.8 107.2l-1.7 0.4" stroke="#a83020" stroke-width="1.7" opacity="0.90" stroke-linecap="round" fill="none"/><path d="M103.9 151.2l-3.8 0.5M88.3 82.4l1.6 2.6M69.0 163.7l2.0 3.7M109.8 155.3l0.8 3.0M110.8 158.7l-3.0 0.6M27.8 154.4l2.8 2.3M103.7 53.3l-5.2 0.2M110.2 63.3l2.4 1.0M91.4 127.3l2.3 2.6M85.8 144.2l-2.0 0.9M92.0 80.9l-2.4 3.5M60.7 150.1l4.3 1.5M49.3 132.8l-0.6 1.9M96.4 105.2l1.0 3.7M88.4 55.2l3.8 3.0M45.9 120.9l2.4 0.5M40.3 102.5l3.4 0.6M91.1 130.6l-0.7 2.6M80.1 119.7l-1.7 4.0M38.6 94.8l5.1 0.5M23.5 74.8l2.8 2.1M87.5 132.4l-0.2 3.3M98.1 85.4l-1.5 3.4M102.9 147.9l-2.6 0.9M112.4 149.8l-3.0 2.2M46.9 164.5l-2.2 2.4M39.7 108.7l0.6 3.2M107.7 147.3l2.7 2.0M52.4 83.6l3.8 3.8M95.1 58.3l-2.4 0.4M94.2 150.9l2.5 0.3M73.0 78.9l1.3 3.2M88.8 106.6l1.3 3.8M66.5 103.6l2.9 2.0M86.6 141.4l4.6 1.2M123.4 158.8l-2.8 2.7M65.2 66.5l-0.2 3.6M97.0 74.3l3.0 1.3M121.9 112.2l0.1 2.2M85.5 104.5l1.7 3.7M76.7 98.7l1.3 3.3M34.3 152.3l-2.5 2.1M28.0 132.8l-3.9 1.9M85.8 140.7l0.4 5.4M52.9 155.8l1.9 1.0M71.8 84.3l-1.6 4.3M93.9 122.4l2.7 4.4M89.0 84.5l-2.1 4.0M78.0 110.9l3.3 1.2M95.9 99.6l0.8 1.7M64.7 82.6l-4.7 1.3M110.5 151.6l3.9 3.5M89.5 88.8l-3.0 4.1M57.2 100.4l-0.7 1.7M55.9 117.0l0.8 2.5M27.9 157.6l-2.0 0.7M93.3 101.3l4.1 0.3M70.6 99.2l-0.5 3.0M30.7 89.5l1.2 2.3M51.4 159.0l-0.0 5.1M66.8 82.6l1.6 1.1M69.7 145.5l-0.2 1.6M70.9 123.6l-2.5 1.9M81.5 100.0l-4.9 0.1M21.7 67.0l1.8 1.7M58.6 104.2l-0.3 1.5M127.7 52.3l2.3 3.8M29.9 107.9l-1.1 1.1M92.1 85.6l-1.9 4.0M45.2 145.8l-1.6 0.7M129.1 163.4l2.3 0.4M83.8 61.1l-3.4 0.6M101.3 54.7l-3.8 1.2M69.6 123.0l-2.9 0.1M71.6 66.8l-0.9 2.8M48.0 130.4l1.8 0.8M121.4 127.1l2.0 1.5M45.8 165.3l-1.5 2.5M72.1 110.6l2.6 4.8M105.3 92.1l-1.4 2.7M97.3 133.6l-1.3 4.1M84.6 133.5l-0.9 2.9M97.8 134.2l0.5 4.1M87.1 132.3l-1.9 1.1M56.6 118.1l-1.6 1.7M44.3 166.9l-1.8 1.0M78.4 157.9l1.3 3.4M77.0 88.7l4.1 3.0M71.3 136.4l2.1 0.7M126.0 161.6l-4.4 0.9M19.9 154.7l2.1 2.1M101.6 105.3l-0.2 1.7M99.9 52.7l1.8 1.6M49.1 159.3l5.0 0.4M53.3 93.6l1.7 1.7M96.0 120.2l4.3 3.2M32.4 124.3l-1.2 2.6M54.2 95.1l2.7 0.2M65.4 65.6l0.7 4.3M29.8 105.4l5.3 0.4M41.0 169.0l-1.5 0.2M83.6 122.0l-4.1 0.9M52.2 129.1l0.3 2.6M119.5 155.9l-2.1 4.8M77.0 146.3l-0.3 5.3M91.6 144.2l0.5 1.5M91.5 143.9l-1.1 4.6M53.0 95.7l-2.3 4.8M32.4 116.2l-0.7 3.3M46.9 164.0l-3.6 3.9M103.6 145.9l-1.6 2.5M97.5 78.3l-2.3 0.4M41.8 106.2l-0.8 3.1M90.5 62.0l-4.7 2.7M72.3 105.0l-2.6 0.5M101.6 140.9l3.0 3.7" stroke="#69962d" stroke-width="1.9" opacity="0.80" stroke-linecap="round" fill="none"/><path d="M103.5 58.5l0.2 0.6M100.4 52.4l0.6 0.1M97.1 50.8l-0.4 0.8M108.3 58.8l1.0 0.7M99.3 55.3l0.1 0.6M122.4 59.0l-0.5 0.1M89.8 63.9l-0.6 0.6M84.2 62.4l0.4 1.7M95.8 64.1l-0.0 0.9M94.7 66.9l-0.2 0.2M107.6 68.0l-0.7 1.6M82.0 76.4l1.2 0.7M89.7 81.7l-0.2 0.3M82.5 81.9l-0.7 1.5M85.0 81.8l1.5 0.8M97.6 79.0l0.6 0.4M92.8 88.3l0.4 1.0M94.5 86.0l-0.4 1.0M75.9 88.8l1.1 0.3M77.6 91.0l1.4 0.0M84.3 84.5l0.6 0.7M75.8 89.6l0.1 0.7M76.7 95.6l-1.5 0.7M73.4 101.7l1.5 0.3M70.3 108.6l0.9 0.2M48.3 95.8l-0.1 0.9M50.4 93.2l-0.5 0.2M58.1 97.2l0.6 0.2M52.0 96.6l0.8 0.7M56.4 90.9l-0.3 1.6M54.4 85.5l-0.5 0.1M51.4 91.9l-0.6 1.5M15.8 75.6l1.4 0.8M32.0 88.1l0.7 0.9M29.6 92.0l-0.2 1.6M18.7 110.0l0.2 0.1M45.5 121.2l0.7 0.7M36.1 116.2l1.8 0.2M47.1 110.0l-0.6 1.3M61.7 68.9l-1.4 0.6M62.4 63.3l-1.0 1.0M66.7 84.0l0.4 0.6M60.6 97.4l-0.7 0.2M53.2 99.9l1.0 0.7M64.9 103.5l-0.3 0.2M35.7 106.5l-0.1 0.5M31.1 97.7l0.3 0.5M13.9 100.0l0.9 0.0M31.7 104.4l-0.1 0.3M41.8 110.6l0.4 0.2M48.8 112.9l-0.1 0.9M72.5 98.4l0.6 1.0M79.6 89.5l0.6 0.7M80.0 99.6l0.0 0.2M85.1 100.9l1.3 1.2M85.3 105.2l0.4 0.1M94.9 97.5l0.0 1.8M90.4 106.4l0.5 0.8M102.4 100.7l0.3 1.1M98.8 103.0l-0.4 0.4M126.6 91.5l-0.4 0.4M128.8 85.6l-0.2 0.9M127.0 76.5l-0.6 0.5M132.4 58.9l0.2 0.1M32.8 138.3l0.2 0.3M45.2 155.5l-0.3 0.3M32.4 155.8l0.3 0.0M26.7 155.8l0.8 0.0M36.8 135.9l-0.6 0.9M54.9 154.2l1.6 0.3M52.4 165.1l0.6 0.9M61.6 160.0l-0.0 1.6M54.1 156.1l-0.4 1.0M67.0 144.1l0.8 0.7M68.7 147.7l-0.6 0.7M66.7 139.4l-0.4 0.1M76.9 142.0l-1.0 0.6M75.8 145.1l-0.7 0.4M62.9 117.6l0.1 0.9M56.8 115.4l0.5 1.2M32.6 125.5l0.2 0.2M14.8 151.0l0.1 0.5M39.7 166.1l-0.4 0.8M79.2 120.8l0.1 0.9M82.3 120.7l-0.9 0.5M86.4 115.0l-0.1 0.2M79.6 120.3l-0.2 0.2M90.1 126.5l-1.1 0.0M94.5 143.5l0.2 0.2M85.7 148.8l0.5 0.5M85.2 140.7l1.5 0.4M83.2 136.4l0.5 0.4M111.6 141.9l0.4 0.1M118.7 152.2l0.5 0.4M115.2 151.0l0.9 0.8M122.2 159.8l0.3 1.3M124.2 162.2l-0.4 0.1M123.0 155.5l0.3 0.6M109.3 157.5l0.0 0.3M102.9 155.5l-0.7 0.1M114.8 162.7l0.7 0.6M125.7 168.0l0.7 0.1M130.2 173.3l-0.6 0.3M131.6 166.4l-0.5 0.2M121.5 114.4l0.1 1.7M125.3 126.5l0.8 0.8M89.3 136.8l0.2 0.2M89.2 142.9l-0.7 1.0M85.9 136.7l-0.7 0.1M86.2 129.6l-0.8 0.6M71.1 131.3l-0.2 0.5M76.8 135.7l1.3 0.6M116.0 157.7l-1.2 0.7M104.4 158.7l-1.2 1.0M116.4 163.2l0.0 0.6M112.5 153.2l-0.6 0.5M110.6 152.8l-0.2 0.7M57.7 144.7l0.2 1.3M55.7 141.1l1.3 0.2M48.6 163.7l1.5 1.0M46.6 169.2l0.2 0.1M94.5 104.4l0.4 0.9M97.4 124.8l-0.8 1.3M65.7 72.2l-1.1 1.2M75.5 70.8l-0.4 0.1M72.0 110.9l-0.8 1.6M68.3 121.5l-1.1 1.4M69.6 127.3l-1.0 0.6M100.5 158.4l-0.8 0.5M72.9 163.8l0.6 0.1M98.0 80.4l-0.7 1.6M99.3 94.5l0.6 0.4M111.2 106.3l-0.0 0.9M119.4 147.9l-0.2 0.4M76.1 161.4l-1.2 0.7M101.7 126.1l-0.1 0.3M47.4 76.8l-0.2 0.3M92.3 92.5l0.9 0.7M39.3 154.2l1.1 0.1M16.6 112.8l-0.1 0.3M86.7 99.9l0.9 0.7M56.1 74.0l0.5 0.4M83.6 137.1l-1.4 0.2M104.0 139.4l0.5 0.0M104.0 128.3l0.7 0.4M137.9 88.3l0.2 0.4M114.4 106.7l0.3 0.2M72.4 172.8l0.1 1.5M77.0 76.3l-0.2 0.1M132.1 171.6l0.5 1.3M14.1 153.0l0.9 0.1M87.5 66.1l-0.2 0.9M63.4 133.6l-0.3 0.5M137.3 78.7l-1.2 0.8M19.1 80.2l-0.3 0.5M93.5 164.0l0.4 0.0M28.4 130.8l0.8 0.3M81.8 94.0l-1.2 0.6M136.3 145.4l0.3 0.1M88.4 114.7l-0.3 0.8M53.9 62.2l-0.8 1.6M117.0 89.2l-0.1 0.8M103.2 172.7l-0.5 0.7M107.0 143.5l0.6 0.1M39.4 82.6l-0.3 1.2M58.5 68.1l-1.0 0.1M117.9 54.3l-0.5 0.2M14.9 155.8l0.7 1.6M59.0 129.7l1.6 0.3M68.5 65.1l0.1 0.8M82.9 59.3l-0.3 1.4M34.5 157.3l0.2 0.2M14.4 131.1l0.0 0.2M114.3 167.3l0.6 1.4M73.1 113.7l-1.0 0.0M134.0 68.9l-0.3 1.0M133.6 83.7l0.8 0.1M26.1 52.7l-0.7 0.1M27.7 80.6l-0.9 0.7M100.2 82.1l-0.1 0.8M72.4 133.5l0.0 0.2M67.3 168.8l-0.8 0.1M101.8 104.5l1.0 0.1M33.3 96.2l-1.2 0.7M102.6 172.4l-0.4 0.1M45.6 57.3l0.4 0.1M36.7 165.2l0.2 0.1M104.3 54.3l0.3 0.4M100.1 126.4l0.3 0.4M45.9 69.9l-1.2 0.7M73.1 138.5l0.1 0.8M62.6 62.1l0.2 0.2M30.0 63.7l-0.0 0.5M43.6 170.5l-0.4 0.4M115.5 92.3l0.1 0.6M109.2 125.4l0.9 1.5M26.9 78.6l-0.4 0.8M108.2 80.7l-1.5 0.0M108.1 150.9l0.5 1.2M29.8 117.1l0.7 1.3M119.8 159.0l-1.2 1.2M21.5 142.0l0.3 0.9M133.2 88.8l0.2 1.6M117.5 114.5l-0.8 0.3M133.5 174.0l1.2 0.8M21.8 148.9l0.1 0.4M67.5 87.3l-0.8 0.9M31.3 95.7l-0.4 1.4M58.8 161.1l-1.0 0.2M105.4 139.4l-0.3 1.7M24.3 164.7l-0.4 0.4M61.6 62.0l-0.4 1.3M17.8 57.4l-0.1 0.2M27.2 70.5l-0.6 1.0M46.9 162.1l-1.2 0.8M121.1 110.9l1.6 0.4M27.3 158.1l0.9 1.0M94.7 62.6l1.1 0.8M132.7 108.9l1.3 0.6M19.7 172.6l1.3 0.6M120.3 160.8l0.1 0.9M104.9 92.9l0.5 0.2M28.1 73.5l0.6 0.4M72.7 147.6l1.3 1.1M90.2 170.4l-0.1 1.2M68.9 62.6l-0.8 1.3M92.3 120.0l0.5 1.2M82.7 75.9l-0.3 0.2M35.6 153.3l1.1 1.3M58.9 132.2l-1.8 0.0M95.3 70.4l0.5 1.0M45.1 68.0l-0.1 0.4M24.2 130.6l-0.0 0.7M43.8 69.6l-0.7 0.2M67.0 71.0l-0.4 0.2M99.7 103.7l-0.0 0.3M128.9 62.8l0.8 0.6M104.5 157.3l-0.4 0.2M123.2 173.5l-1.3 1.0M41.0 84.8l0.3 1.0M36.4 116.2l-0.9 1.1M70.0 94.7l-0.6 0.5M39.1 79.4l-0.7 1.1M100.4 84.2l0.8 0.1M74.4 96.1l-0.6 0.8M120.0 157.7l0.5 0.7M15.6 98.7l0.1 0.2M55.0 134.4l0.5 0.0M86.8 121.5l0.1 0.2M58.8 161.9l1.3 1.2M43.7 123.0l-0.2 0.2M113.8 63.4l0.3 1.4M55.3 126.4l0.6 0.2M37.9 71.9l0.9 1.0M29.9 110.2l0.2 0.3M117.6 120.5l0.1 0.8M116.6 131.1l1.2 0.1M135.5 140.4l1.3 0.8M78.6 52.4l-0.8 0.5M49.9 84.9l-1.5 0.7M68.5 148.8l-1.4 0.9M112.0 106.8l1.1 1.3M133.2 96.0l1.0 0.1M106.9 158.7l0.2 0.5M76.9 147.7l0.6 1.2M40.4 104.5l1.0 1.1M121.7 147.6l0.3 1.5M36.9 109.2l-0.0 0.9M85.2 130.6l0.9 0.2M100.1 69.4l1.3 0.4M74.7 81.4l0.4 0.9M100.8 146.9l0.5 0.1M64.9 165.5l0.7 0.2M59.5 159.3l-0.1 0.2M119.2 108.5l-0.4 0.5M112.6 88.3l1.4 0.5M18.3 105.9l0.1 0.5M47.8 69.4l-0.9 0.2M43.0 119.8l0.0 0.3M65.5 81.6l1.5 0.2M77.1 112.7l0.2 0.8M115.6 126.1l-0.8 1.6M72.9 130.7l0.2 0.2M103.1 166.4l1.1 1.2M72.9 89.1l-1.3 0.7M60.9 52.1l0.8 0.0M76.5 80.9l0.7 1.6M15.7 138.3l-0.2 1.3M32.5 117.2l0.7 0.5M85.2 146.7l-1.1 0.3M102.0 165.5l-1.2 0.2M75.1 91.8l0.3 1.8M15.2 109.9l0.5 1.7M55.3 52.0l0.1 0.3M138.0 54.1l-0.7 0.8M91.5 109.5l-0.6 0.8M94.7 149.3l0.6 0.5M79.6 125.3l-1.1 0.2M132.9 81.0l0.4 0.7M13.1 157.6l-0.3 0.2M92.9 153.3l-0.6 0.4M26.4 93.6l0.4 0.1M24.5 133.0l-0.3 0.5M64.6 106.0l0.5 0.5M60.9 164.3l-0.2 0.9M67.5 172.8l-0.7 0.4M60.4 65.8l-1.3 0.3M51.8 114.1l0.1 0.9M127.1 164.9l1.6 0.7M93.7 158.3l1.8 0.1M64.8 74.8l1.3 0.4M40.9 96.8l-1.1 0.4M33.1 93.2l1.2 1.1M68.6 116.9l0.3 0.1M35.9 151.2l0.6 1.2M88.1 131.3l0.9 0.6M119.2 52.1l-1.2 1.0M81.7 98.5l0.6 0.4M72.4 50.6l-0.9 0.9M104.9 121.8l1.3 0.5M77.9 83.9l1.1 1.3M118.1 93.8l1.0 0.7M130.5 92.2l0.8 1.5M74.6 60.3l0.3 1.2M16.7 164.5l0.2 0.1M100.6 111.4l-0.0 0.4M94.6 120.9l-0.0 1.0M17.4 164.2l-0.9 1.3M110.7 71.2l-1.2 0.9M27.9 76.5l-0.9 1.0M69.6 123.6l0.6 0.0M131.3 85.8l0.7 0.1M101.0 148.9l0.6 0.5M121.8 156.5l-1.1 0.1M70.9 68.4l1.3 0.3M41.8 92.8l0.1 0.7M62.8 144.3l0.3 0.9M49.7 85.1l-1.2 0.9M79.6 152.0l0.6 0.6M107.9 92.6l1.2 1.3M18.5 126.1l0.1 0.5M82.8 140.3l0.9 0.1M50.1 155.6l-0.2 0.3M113.8 61.3l-1.5 0.7M109.0 136.1l0.7 0.3M71.0 150.8l-0.0 0.7M124.2 94.1l-0.8 0.4M82.8 117.1l1.0 0.3M26.0 67.6l-1.0 0.7M79.9 145.6l-1.0 0.3M63.1 109.6l-1.3 1.1M51.3 140.9l0.6 1.3M99.3 106.2l-0.1 1.5M55.5 138.7l-0.8 0.0M51.9 124.9l-1.7 0.2M57.0 124.3l0.8 1.4M54.5 88.2l-0.5 1.7M132.2 83.1l-0.2 0.8M132.0 81.9l0.8 0.8M47.6 114.5l-0.7 1.2" stroke="#dc3c24" stroke-width="1.8" opacity="1.00" stroke-linecap="round" fill="none"/><path d="M101.2 54.3l-1.4 1.2M99.3 52.4l-0.6 0.5M80.3 81.3l0.5 0.3M79.1 81.3l1.0 1.3M66.3 100.1l-0.3 1.9M67.8 101.8l0.2 1.6M49.5 90.2l0.4 1.6M50.5 92.3l0.5 0.9M54.8 87.8l-1.1 1.0M51.3 89.2l-0.4 0.4M69.4 99.7l-0.4 0.6M69.1 100.9l-1.0 0.1M74.2 100.1l1.6 0.9M78.5 97.4l0.3 0.5M85.0 102.8l-0.5 1.9M82.7 106.0l1.0 0.6M40.7 147.8l0.9 1.1M42.4 149.8l1.3 1.0M54.5 160.8l1.1 0.6M55.3 159.9l-1.3 1.5M70.3 136.4l-1.0 1.5M68.9 137.5l-0.4 0.9M88.9 145.8l1.2 0.9M90.3 146.0l-0.3 0.4M85.7 141.2l-0.2 1.0M84.6 142.2l-0.6 0.4M111.2 151.4l0.2 1.7M112.6 150.8l1.2 1.1M109.2 158.6l0.5 1.4M111.7 161.8l-1.9 0.1M88.4 142.5l0.0 1.4M88.3 143.2l-0.9 1.1M108.0 159.6l0.4 0.7M105.7 162.1l-1.6 0.5" stroke="#a2d636" stroke-width="1.8" opacity="0.95" stroke-linecap="round" fill="none"/><path d="M97.7 56.3l0.4 1.1M79.1 81.0l0.6 0.0M68.0 100.8l0.6 0.1M53.1 92.5l1.1 0.5M52.9 92.4l0.5 0.7M68.8 102.2l0.2 0.6M78.0 99.5l0.7 0.8M84.5 104.2l0.7 0.7M41.9 151.4l0.2 0.2M58.1 162.3l0.1 0.4M70.8 139.9l-0.6 0.8M92.8 148.7l-0.3 0.2M84.6 143.3l0.2 0.8M108.6 148.7l-0.1 1.1M111.5 162.0l0.2 0.5M88.7 141.2l0.5 0.1M109.2 158.3l-0.0 0.3" stroke="#ecce3a" stroke-width="1.6" opacity="0.95" stroke-linecap="round" fill="none"/></g><g stroke="#9a8d88" stroke-width="0.7" fill="none" opacity="0.75"><rect x="18.0" y="54.0" width="116.0" height="116.0"/><path d="M12.0 50.0L18.0 54.0"/><path d="M139.0 50.0L134.0 54.0"/><path d="M12.0 174.0L18.0 170.0"/><path d="M139.0 174.0L134.0 170.0"/><path d="M18.0 170.0v-2.8M20.3 170.0v-1.6M22.6 170.0v-1.6M24.9 170.0v-1.6M27.2 170.0v-1.6M29.5 170.0v-2.8M31.8 170.0v-1.6M34.1 170.0v-1.6M36.4 170.0v-1.6M38.7 170.0v-1.6M41.0 170.0v-2.8M43.3 170.0v-1.6M45.6 170.0v-1.6M47.9 170.0v-1.6M50.2 170.0v-1.6M52.5 170.0v-2.8M54.8 170.0v-1.6M57.1 170.0v-1.6M59.4 170.0v-1.6M61.7 170.0v-1.6M64.0 170.0v-2.8M66.3 170.0v-1.6M68.6 170.0v-1.6M70.9 170.0v-1.6M73.2 170.0v-1.6M75.5 170.0v-2.8M77.8 170.0v-1.6M80.1 170.0v-1.6M82.4 170.0v-1.6M84.7 170.0v-1.6M87.0 170.0v-2.8M89.3 170.0v-1.6M91.6 170.0v-1.6M93.9 170.0v-1.6M96.2 170.0v-1.6M98.5 170.0v-2.8M100.8 170.0v-1.6M103.1 170.0v-1.6M105.4 170.0v-1.6M107.7 170.0v-1.6M110.0 170.0v-2.8M112.3 170.0v-1.6M114.6 170.0v-1.6M116.9 170.0v-1.6M119.2 170.0v-1.6M121.5 170.0v-2.8M123.8 170.0v-1.6M126.1 170.0v-1.6M128.4 170.0v-1.6M130.7 170.0v-1.6M133.0 170.0v-2.8M134.0 54.0h-2.8M134.0 56.3h-1.6M134.0 58.6h-1.6M134.0 60.9h-1.6M134.0 63.2h-1.6M134.0 65.5h-2.8M134.0 67.8h-1.6M134.0 70.1h-1.6M134.0 72.4h-1.6M134.0 74.7h-1.6M134.0 77.0h-2.8M134.0 79.3h-1.6M134.0 81.6h-1.6M134.0 83.9h-1.6M134.0 86.2h-1.6M134.0 88.5h-2.8M134.0 90.8h-1.6M134.0 93.1h-1.6M134.0 95.4h-1.6M134.0 97.7h-1.6M134.0 100.0h-2.8M134.0 102.3h-1.6M134.0 104.6h-1.6M134.0 106.9h-1.6M134.0 109.2h-1.6M134.0 111.5h-2.8M134.0 113.8h-1.6M134.0 116.1h-1.6M134.0 118.4h-1.6M134.0 120.7h-1.6M134.0 123.0h-2.8M134.0 125.3h-1.6M134.0 127.6h-1.6M134.0 129.9h-1.6M134.0 132.2h-1.6M134.0 134.5h-2.8M134.0 136.8h-1.6M134.0 139.1h-1.6M134.0 141.4h-1.6M134.0 143.7h-1.6M134.0 146.0h-2.8M134.0 148.3h-1.6M134.0 150.6h-1.6M134.0 152.9h-1.6M134.0 155.2h-1.6M134.0 157.5h-2.8M134.0 159.8h-1.6M134.0 162.1h-1.6M134.0 164.4h-1.6M134.0 166.7h-1.6M134.0 169.0h-2.8" stroke="#b8aea9" stroke-width="0.5" opacity="0.55"/><path d="M41.2 54.0V170.0M18.0 77.2H134.0M64.4 54.0V170.0M18.0 100.4H134.0M87.6 54.0V170.0M18.0 123.6H134.0M110.8 54.0V170.0M18.0 146.8H134.0" stroke-width="0.5" opacity="0.18"/></g></g><rect x="11" y="49" width="1" height="126" fill="#0a0505"/><rect x="11" y="49" width="129" height="1" fill="#150a09"/>
<rect x="146" y="49" width="129" height="126" fill="#381612"/><g clip-path="url(#cr)"><g filter="url(#bl)"><path d="M221.3 124.2l-0.1 0.3M170.3 158.4l-0.5 0.0M185.7 118.7l-0.5 0.3M183.3 99.6l-0.1 0.1M187.0 165.2l-1.2 0.1M242.9 161.7l-0.5 1.1M237.4 153.0l0.0 1.1M193.6 151.8l0.6 0.5M225.5 165.9l0.2 0.4M148.6 159.7l0.7 0.4M244.7 133.1l0.2 0.2M218.4 163.4l0.2 1.1M235.8 139.8l-0.1 0.3M220.1 137.7l-0.3 0.4M251.0 86.4l0.6 1.0M237.1 116.9l-0.2 0.5M241.2 86.9l-0.5 0.0M207.3 150.2l0.9 0.7M187.1 146.5l0.0 0.1M161.2 78.9l0.1 0.0M264.1 69.5l0.8 0.5M240.2 131.6l-0.6 0.8M198.2 171.3l0.0 1.2M255.3 78.9l1.0 0.3M223.6 118.9l-0.4 0.2M160.5 82.0l1.1 0.6M254.6 99.6l0.3 1.0M270.2 70.1l-0.5 0.3M230.7 168.2l0.4 0.7M260.3 99.6l0.9 0.5M224.8 144.2l-0.0 0.3M190.6 91.5l-1.0 0.7M244.1 162.8l-0.1 0.3M267.8 92.1l0.3 0.1M237.7 144.4l0.8 0.5M211.6 162.8l1.0 0.2M223.3 162.2l0.7 0.1M206.2 151.5l-0.2 0.1M259.0 55.7l-0.0 0.9M236.2 136.3l0.1 0.1M242.7 134.9l-0.5 0.0M215.4 140.8l0.3 0.5M151.0 95.3l-0.7 0.1M187.1 152.2l0.2 0.7M203.7 86.0l0.2 0.9M225.3 160.1l0.5 0.3M272.7 108.6l-0.3 0.3M201.2 96.3l0.2 0.0M231.2 131.0l-0.1 0.2M158.9 164.4l0.4 0.6M247.3 145.2l0.1 0.1M254.6 144.8l-0.4 0.6M238.8 145.9l-0.4 0.2M193.8 170.1l0.6 1.0M201.8 122.5l-0.0 0.3M216.8 84.6l0.9 0.8M236.3 156.4l0.5 0.9M246.2 108.3l0.2 0.1M224.3 131.9l-0.5 0.2M232.9 107.6l-0.7 0.0M199.0 105.7l-0.1 0.6M269.4 117.1l0.5 0.5M261.2 165.9l0.4 1.1M158.0 171.1l-0.8 0.4M222.1 138.6l-0.3 0.2M158.8 163.2l-0.3 0.4M265.7 79.6l-0.3 0.8M214.7 140.8l0.5 0.7M191.7 142.7l-0.8 0.3M153.2 169.3l0.4 0.4M263.8 154.7l0.5 0.9M262.4 166.0l-0.6 0.5M219.7 124.2l-0.3 0.3M168.1 172.5l-0.3 0.1M219.3 163.2l0.1 0.5M227.4 58.0l-0.3 0.2M175.0 61.7l-0.5 0.0M169.4 62.0l0.8 0.8M271.8 106.1l0.8 0.9M254.6 140.7l0.4 0.0M226.0 100.6l-0.1 0.1M174.1 165.7l0.2 0.4M264.6 163.8l-0.7 0.1M148.3 138.5l0.0 0.1M266.0 61.4l-0.2 0.3M256.6 109.0l1.2 0.3M205.0 134.7l-0.3 1.0M248.0 160.1l-0.5 0.4M233.5 122.7l0.3 0.4M193.6 138.1l-0.1 0.3M265.3 131.3l0.3 0.9M180.7 163.1l0.2 0.5M160.9 91.8l-0.4 0.2M151.0 142.4l-0.1 0.2M263.4 161.2l0.7 0.4M185.9 171.2l-0.3 0.2M254.1 113.0l1.0 0.4M256.1 150.8l-0.4 0.4M255.4 76.6l-0.5 0.9M153.9 172.8l-0.6 0.5M179.3 166.7l0.2 0.5M254.4 103.0l-0.8 0.8M244.2 137.5l-0.4 0.1M268.0 57.5l0.7 0.3M163.6 158.2l-0.8 0.9M266.2 116.4l0.6 0.2M245.0 89.4l-0.0 0.9M227.8 171.5l0.6 0.0M228.9 172.7l-0.3 0.3M248.6 127.7l-0.5 0.7M214.4 138.7l1.1 0.3M217.2 145.8l-0.9 0.7M236.9 165.5l1.1 0.5M231.2 128.2l-0.3 0.0M227.5 123.3l-0.6 1.0M234.9 89.8l-0.3 0.0M217.3 89.9l-1.1 0.0M238.0 92.8l0.3 0.4M251.4 157.9l-0.1 1.3M238.7 96.4l-0.6 0.4M259.1 81.7l0.1 0.7M192.4 83.4l-0.4 0.7M154.0 155.3l-0.4 0.0M202.0 123.0l1.0 0.2M225.4 143.6l-0.3 0.6M251.7 138.3l-1.0 0.9M240.8 137.6l0.0 0.8M271.1 129.1l0.0 0.2M226.1 136.1l1.2 0.2M263.9 115.3l-0.4 0.3M209.7 148.0l0.2 0.3M259.5 126.2l-0.9 0.7M205.2 154.4l0.0 0.2M221.1 153.5l0.1 0.2M272.3 113.7l1.0 0.3M229.4 128.1l-0.1 1.1M207.9 96.6l-0.6 0.0M237.5 95.8l0.3 0.1M229.0 149.2l0.9 0.2M256.4 116.3l-0.2 0.2M152.1 90.5l0.4 0.0M245.1 170.2l0.7 0.5M236.8 153.5l0.2 0.2M227.8 51.2l-0.4 0.2M264.3 95.1l-0.1 0.7M220.3 110.4l0.4 1.0M195.0 165.2l-0.1 0.5M217.2 138.1l0.5 0.3M244.1 134.2l-0.4 0.5M159.6 168.9l-0.5 0.5M214.4 173.7l0.1 0.1M271.2 139.8l-0.0 0.7M245.4 65.5l0.4 0.0M250.6 164.9l1.1 0.4M175.7 167.6l1.2 0.3M242.8 135.2l0.2 1.0M198.7 121.2l0.5 0.2M260.7 123.9l-0.3 0.5M155.6 95.4l0.4 1.2M177.3 173.2l-0.3 0.5M155.4 173.5l0.6 0.8M257.4 76.4l0.3 0.8M239.3 91.1l0.2 0.0M239.5 138.8l-1.1 0.6M259.6 102.5l0.6 0.6M261.2 93.3l-0.5 0.2M251.4 97.7l-0.5 0.1M252.3 166.1l-0.2 0.1M210.6 171.3l0.1 1.0M182.4 75.3l-0.9 0.6M157.0 80.6l-1.0 0.2M222.3 153.7l0.2 0.6M256.8 154.0l-0.7 0.8M196.6 100.2l-0.1 1.2M249.4 171.9l0.2 0.7M269.3 118.9l0.0 0.8M148.7 91.5l-0.7 0.9M230.4 162.6l-0.5 0.7M260.5 166.7l-1.3 0.1M254.1 158.5l-0.3 0.0M259.4 173.2l0.3 0.2M239.4 125.8l0.3 0.6M232.5 150.3l-0.1 0.5M266.1 70.2l-0.8 0.9M227.8 105.6l0.1 0.5M172.6 165.8l-0.1 0.2M241.7 147.8l0.1 0.7M202.2 90.5l1.2 0.3M263.4 102.5l0.6 0.5M222.8 85.5l-1.0 0.3M229.3 140.0l0.7 0.2M264.7 68.9l0.5 1.1M229.4 168.0l0.8 0.2M211.4 100.9l0.6 0.3M246.8 156.0l0.3 0.4M184.3 165.7l0.9 0.2M267.7 153.6l0.9 0.1M197.6 95.7l0.0 0.1M163.3 166.7l-0.2 0.4M239.3 169.8l0.4 0.8M270.5 97.7l0.0 0.4M240.3 66.2l0.3 0.3M224.9 153.4l-0.0 0.1M267.1 119.6l-0.2 0.2M265.2 95.4l0.7 1.0M223.9 66.5l0.3 0.9M164.0 151.0l1.1 0.7M271.6 136.8l0.4 0.8M251.9 89.1l-0.1 0.5M229.0 141.6l0.4 0.6M168.2 162.8l-0.1 0.1M189.8 87.3l0.6 0.5M207.4 129.1l0.9 0.5M236.5 153.2l-0.7 0.7M214.9 128.0l-0.0 0.3M209.9 160.5l-0.8 0.5M218.6 163.5l1.2 0.5M197.8 125.1l0.4 1.2M227.5 69.2l-0.1 0.1M271.7 131.1l-0.4 0.7M257.7 146.8l-1.0 0.6M243.5 65.6l0.6 0.1M232.9 135.9l-0.1 0.7M240.3 138.9l-0.7 0.0M257.2 125.6l0.3 0.7M218.5 159.8l-0.8 0.1M222.7 157.0l-0.6 0.6M261.6 129.3l-0.2 0.2M246.7 139.6l1.2 0.3M260.1 145.9l0.6 1.0M152.0 109.0l-1.0 0.4M203.6 93.0l0.1 0.1M256.1 59.5l0.1 0.5M228.1 159.5l-0.0 0.2M219.7 134.6l-0.3 0.2M264.0 118.3l0.4 0.0M240.9 64.9l0.9 0.4M229.5 119.6l-0.1 0.6M222.6 138.2l-0.8 0.4M237.1 163.4l0.8 0.4M265.3 159.1l0.0 0.3M217.4 168.3l-1.1 0.0M154.0 157.7l0.6 0.5M171.0 173.8l0.2 0.2M240.4 160.1l-1.0 0.1M175.5 125.9l0.6 0.2M212.1 136.2l-0.1 0.6M234.2 134.2l-0.4 0.7M150.8 144.6l-0.1 0.6M231.8 164.2l0.2 0.1M235.1 147.6l-1.0 0.1M226.2 161.4l0.6 0.1M163.1 154.2l-0.7 0.6M257.3 82.7l0.1 0.5M246.6 85.7l1.2 0.1M269.6 101.3l0.6 0.5M245.6 55.9l-0.0 0.1M178.1 167.3l0.1 0.4M271.3 133.1l-0.5 1.0M263.3 165.0l-1.0 0.7M250.5 83.1l0.1 0.1M214.7 173.7l0.5 0.2M267.3 74.1l-1.1 0.3" stroke="#6e231a" stroke-width="1.5" opacity="0.70" stroke-linecap="round" fill="none"/><path d="M183.5 139.8l-1.0 0.3M248.4 148.6l-0.1 0.2M189.2 90.0l0.0 0.1M200.7 172.0l0.3 0.2M267.8 147.1l0.3 1.0M242.3 119.2l0.4 0.8M204.8 92.6l-0.7 0.6M267.0 81.4l-0.3 0.0M245.1 143.4l0.1 0.8M188.6 89.9l-0.2 0.4M165.8 169.6l1.1 0.7M261.8 147.8l-0.0 0.2M188.3 91.9l0.3 0.1M238.9 140.4l-0.5 0.4M244.4 136.4l0.7 0.4M238.2 123.6l-0.7 1.0M187.6 157.0l-0.4 1.1M222.9 106.8l-1.0 0.4M232.0 139.3l-0.2 0.4M233.7 150.5l-0.3 1.1M226.1 146.9l0.0 0.6M234.2 157.8l-0.9 0.8M245.4 169.8l0.3 0.3M225.7 169.4l-0.2 0.1M251.0 78.7l1.1 0.6M252.0 141.3l0.0 0.2M273.8 157.7l0.4 0.6M261.5 93.0l-0.2 0.1M232.2 90.7l-0.3 0.4M229.5 56.1l-0.2 0.3M246.8 171.4l-0.1 0.5M272.3 125.2l-0.0 0.3M257.3 74.3l-0.4 0.5M206.4 168.8l-0.0 0.1M238.1 147.8l0.2 0.2M241.8 116.0l-0.0 0.1M188.3 107.0l-0.1 0.1M236.6 136.0l0.3 0.9M210.5 162.8l-0.4 0.3M246.4 124.9l0.3 1.2M219.3 126.8l-0.0 1.1M225.3 134.8l0.3 0.4M229.3 123.4l-0.1 0.5M193.3 163.5l0.7 0.1M154.8 142.0l0.3 0.4M237.6 128.9l-0.2 0.1M254.1 59.4l-0.1 0.5M204.7 86.1l-0.7 0.3M166.4 167.4l0.6 0.9M259.3 146.3l-0.5 0.2M200.1 119.3l-0.8 0.5M235.1 124.2l0.4 0.3M250.8 160.5l0.1 0.1M196.9 167.5l-0.0 1.2M175.3 146.4l0.5 0.7M176.8 159.6l-1.1 0.2M248.3 116.3l0.3 0.4M257.6 96.9l-0.2 0.1M203.9 126.2l1.0 0.0M231.6 172.7l0.6 0.1M231.4 156.6l-0.6 0.0M212.6 159.7l-0.1 1.2M239.1 145.1l-0.1 0.1M261.2 110.6l0.5 0.4M209.7 99.3l0.1 0.1M235.7 109.6l0.0 0.4M236.9 165.2l-0.1 0.7M243.9 145.4l0.2 0.1M222.6 119.2l-0.6 0.2M240.0 84.5l0.8 0.7M192.5 95.8l-0.9 0.3M200.4 157.2l1.1 0.5M218.5 163.5l-0.6 0.7M206.5 101.5l0.2 0.9M160.6 159.4l-0.2 1.2M271.8 162.9l0.3 0.9M242.5 72.5l-0.2 0.2M153.6 85.5l-0.4 0.1M214.7 89.5l0.9 0.7M263.6 103.8l-0.2 1.2M243.7 98.7l1.2 0.0M243.8 154.1l0.3 0.3M251.6 89.8l-0.3 0.5M264.7 171.6l0.9 0.1M216.6 128.8l1.2 0.1M241.4 149.0l-0.1 0.8M215.7 126.2l-0.5 0.9M216.5 143.8l0.6 0.4M240.2 140.2l0.2 0.3M203.9 160.3l-0.5 0.8M218.5 166.3l1.3 0.0M183.1 161.3l-0.6 0.6M172.5 167.8l-1.1 0.2M208.0 138.3l0.4 0.3M234.5 60.9l-0.6 0.8M199.0 154.9l-0.8 0.2M218.5 159.3l0.8 0.2M229.6 166.9l-0.0 1.3M220.1 124.4l-0.8 0.3M180.3 164.4l0.7 0.5M180.3 114.9l0.0 0.2M154.8 165.8l0.6 0.0M240.0 173.0l-0.6 0.4M258.2 124.6l0.2 0.6M192.5 163.1l0.1 0.0M200.7 124.3l-1.0 0.3M211.3 82.3l0.5 0.5M216.4 156.9l1.2 0.5M212.5 158.5l0.0 0.9M232.8 170.2l0.3 0.2M250.6 133.5l-1.1 0.1M167.5 80.8l-0.2 0.8M202.8 155.3l0.4 1.2M267.2 72.3l0.2 0.1M227.4 133.0l0.7 0.3M241.1 157.4l0.7 0.8M162.8 159.1l-0.3 0.1M159.2 94.7l0.4 0.9M179.3 163.3l-0.2 0.2M161.8 92.5l-0.6 0.5M268.0 138.1l0.2 0.2M238.1 83.9l-0.2 0.6M237.6 54.9l0.4 0.0M186.1 168.0l-0.8 0.2M226.8 111.0l-0.7 0.6M226.9 124.2l0.9 0.0M157.9 152.6l1.1 0.6M263.1 80.1l0.6 0.2M194.8 151.9l1.0 0.7M253.3 146.2l-0.2 0.9M263.8 75.5l-0.3 1.1M263.2 139.4l-0.1 0.1M250.0 165.7l1.2 0.2M169.6 165.9l0.4 1.1M234.6 172.3l0.0 0.2M205.9 103.3l-0.2 0.4M239.3 60.4l-0.9 0.2M170.6 165.8l0.5 0.3M269.7 167.8l0.4 0.3M243.7 99.6l-0.1 0.3M257.6 53.9l0.4 0.5M263.3 126.6l-0.4 0.4M194.3 163.5l0.9 0.2M226.3 148.2l1.0 0.5M268.3 132.8l-0.9 0.2M223.1 117.0l-0.5 0.9M188.2 166.1l-0.4 0.1M228.7 146.5l-0.2 0.1M165.8 158.9l0.1 0.1M258.4 58.3l0.1 0.3M223.0 124.8l0.3 0.5M206.8 152.7l-0.9 0.7M224.3 53.0l0.2 0.4M272.6 97.8l0.6 1.1M246.1 99.6l0.8 0.6M253.0 124.7l-1.1 0.2M260.3 57.9l-1.1 0.5M239.1 130.9l-0.8 0.8M255.4 169.1l-0.2 0.4M261.8 124.7l0.2 0.7M264.9 168.7l0.8 0.2M246.1 138.5l-0.6 0.0M229.5 128.8l-0.1 0.2M260.1 173.8l-0.1 0.8M190.7 76.1l0.3 0.3M164.3 141.0l-0.7 0.2M196.8 151.9l-0.2 0.0M179.2 171.4l0.2 0.4M268.1 145.7l0.4 1.0M251.2 173.7l0.6 0.6M199.7 96.1l0.2 1.0M225.1 120.2l-0.9 0.6M228.8 155.2l-0.0 0.2M217.6 153.5l-0.2 0.2M195.9 128.2l0.3 0.3M196.4 92.1l-0.2 0.4M211.4 149.8l-0.6 0.5M219.6 124.6l0.2 0.2M225.2 125.1l0.2 0.3M273.6 119.2l-0.5 0.1M250.7 60.9l-0.2 0.5M255.7 129.3l-0.1 0.1M248.1 166.2l0.5 0.4M224.0 121.4l-0.4 0.3M208.9 136.8l-0.5 0.9M257.9 165.0l0.2 0.2M184.0 161.1l1.0 0.1M170.7 129.3l-0.8 0.6M239.8 74.6l0.3 0.7M273.0 165.3l-0.0 0.3M254.9 131.1l0.1 0.5M176.0 169.3l0.0 0.3M148.9 75.8l-0.6 0.2M264.5 156.3l0.5 0.3M228.2 141.3l-0.3 0.2M212.6 137.3l1.1 0.3M212.1 170.6l-1.0 0.6M208.9 98.0l0.1 0.7M164.9 150.5l-0.1 0.9M200.2 95.4l0.0 0.2M200.5 138.2l0.0 0.4M243.7 146.5l0.5 0.8M250.2 148.9l-0.7 0.2M190.4 165.7l-0.2 0.1M263.0 150.2l0.2 1.0M200.6 146.9l-0.5 0.3M217.9 103.6l-0.5 0.1M215.3 127.2l0.7 0.1M263.7 95.7l-0.5 0.3M203.0 114.3l-0.0 0.7M171.1 167.3l0.3 0.9M271.2 155.1l0.2 0.1M239.4 145.6l-0.8 0.4M241.4 161.8l-0.6 1.2M210.7 165.6l-0.8 0.5M216.9 149.2l0.5 0.5M270.8 172.9l0.3 0.1M235.0 161.7l-0.2 0.6M214.7 135.8l-0.5 0.8M244.1 136.7l-0.1 1.1M226.9 145.5l-0.0 0.8M162.0 89.5l-0.6 0.6M239.3 164.9l0.1 0.1M262.1 136.4l0.7 0.5M225.0 142.5l-0.2 0.8M225.0 173.9l0.1 0.7M194.7 139.2l-0.7 0.7M175.5 158.0l-0.9 0.4M225.0 164.8l0.9 0.1M205.9 166.8l-0.3 0.0M188.8 165.5l1.1 0.7M183.1 163.4l-0.1 0.4M153.5 127.3l0.1 0.1M235.9 148.0l0.9 0.7M225.4 102.5l0.3 0.9M248.2 151.5l0.1 0.1M241.0 113.1l-0.9 0.0M269.6 162.9l-0.2 0.4M259.4 151.5l0.1 1.1M273.6 73.2l-0.4 0.8M232.9 55.8l-0.1 0.0M262.5 155.0l0.1 0.6M259.0 56.5l-0.1 0.6M230.4 142.2l-0.6 1.0M229.0 136.1l0.4 0.4M178.0 164.5l0.1 0.1M150.1 164.3l1.0 0.7M261.8 168.6l0.6 0.3M268.2 61.5l0.4 0.9M243.1 147.9l-0.6 1.0M262.4 99.2l-1.0 0.2M259.0 118.2l-0.2 0.2M257.7 129.3l0.7 0.5M252.7 102.1l-0.1 0.8M259.2 103.1l0.2 0.5M163.5 113.7l-0.8 1.0M263.8 131.7l-1.0 0.4M253.0 65.1l0.0 1.3M164.2 169.4l-0.4 0.4M179.2 155.6l-0.6 1.0M191.1 163.4l-0.6 0.7M257.6 114.4l-0.2 0.9M219.4 173.9l1.0 0.6M248.7 85.0l-0.1 0.2M214.9 117.7l-0.5 0.5M245.1 135.3l0.0 0.4M233.4 115.3l0.3 0.2M254.1 126.4l-0.8 0.1M177.5 95.8l-1.1 0.0M188.0 89.8l0.3 1.0M234.2 61.8l-0.5 0.9M218.2 56.4l0.8 0.5M251.4 142.0l0.0 0.8M260.1 98.1l0.4 0.3M231.3 125.5l-0.1 0.7M232.5 153.6l0.6 0.0" stroke="#a82b20" stroke-width="1.5" opacity="0.85" stroke-linecap="round" fill="none"/><path d="M269.5 87.3l0.7 1.0M262.3 129.0l-0.1 0.8M213.0 165.8l0.0 0.1M198.6 168.0l0.9 0.4M247.7 147.0l0.4 0.7M268.3 150.3l0.0 0.3M267.1 155.6l-0.2 0.0M155.6 81.6l0.0 1.2M264.2 93.2l-0.1 0.5M229.8 139.6l0.6 0.3M230.0 131.7l0.7 0.2M247.1 99.9l0.4 0.3M234.7 166.9l0.3 0.2M183.4 163.7l1.3 0.2M237.0 148.2l0.5 0.9M243.1 70.3l-0.1 0.5M260.7 109.6l-0.2 0.3M249.4 103.5l-0.2 0.3M244.3 130.8l0.7 0.5M244.6 132.5l0.1 0.6M254.3 109.8l0.3 0.1M234.6 106.4l0.1 0.2M215.4 86.5l0.7 0.2M237.8 165.6l1.1 0.1M270.3 106.5l-0.7 0.1M219.0 116.6l-0.5 0.2M265.1 168.6l0.8 0.9M240.8 170.3l-0.4 0.2M267.5 159.0l-0.8 0.1M194.0 152.0l-1.1 0.2M213.3 142.4l0.9 0.4M161.4 168.9l0.0 0.2M153.8 170.4l-0.1 0.1M167.5 164.6l-0.4 0.6M262.7 87.4l-0.7 0.3M271.2 160.0l-0.7 0.8M203.0 140.5l0.6 0.4M191.8 174.0l0.2 0.3M257.9 103.1l0.1 0.8M240.7 145.4l1.1 0.3M228.9 132.8l0.3 0.4M256.1 173.5l-0.1 0.1M236.8 69.8l-0.3 0.2M242.0 149.9l-0.2 0.0M242.1 155.1l-0.5 0.3M160.5 83.5l0.2 0.3M257.5 105.2l-0.1 0.7M232.9 131.7l-0.6 0.0M264.9 139.0l0.0 1.0M273.7 142.3l-0.3 0.2M183.4 173.7l-0.2 0.2M266.3 164.9l0.1 0.8M260.9 76.2l0.5 0.7M152.3 142.9l0.3 0.5M233.2 159.5l-0.2 0.3M253.9 93.6l-0.3 0.3M174.5 157.0l-0.2 1.1M201.9 99.8l-0.2 0.1M175.2 84.8l-0.5 0.7M229.7 101.8l-0.4 0.7M273.6 159.6l0.4 0.4M267.7 172.8l0.5 0.9M228.2 118.8l0.3 0.6M255.4 148.7l0.5 1.0M256.1 64.2l-0.8 0.9M245.5 78.9l-0.2 0.4M263.2 91.5l-0.0 0.3M263.4 131.2l-0.8 0.3M195.6 165.4l0.5 0.1M177.4 168.2l-0.1 0.4M260.9 136.7l0.0 0.4M233.6 129.4l-0.1 0.3M220.6 121.6l0.0 0.1M228.9 168.6l-1.0 0.4M216.2 149.6l0.9 0.2M271.6 160.0l-0.3 0.3M228.0 167.6l0.3 0.2M250.3 61.7l0.8 1.0M267.2 167.5l1.0 0.4M264.2 131.4l-0.2 1.1M221.5 156.4l-0.8 0.9M249.1 147.2l0.2 0.1M157.0 172.3l-0.7 0.4M250.6 131.0l0.3 0.7M170.8 171.7l-0.7 0.2M238.5 136.9l0.2 0.4M253.9 131.5l0.2 0.1M265.6 165.4l-0.8 0.0M230.1 57.4l-0.5 0.4M234.1 148.5l-0.1 1.2M174.7 169.6l-0.7 0.0M197.1 173.2l0.0 0.2M248.4 124.4l-1.0 0.1M237.2 97.2l-0.8 0.5M219.1 144.0l0.3 0.0M265.2 110.8l-1.1 0.6M232.2 133.8l0.5 1.2M236.4 141.1l-0.3 1.2M264.2 115.0l0.5 0.9M258.3 107.2l0.1 0.9M254.6 147.6l0.5 0.9M152.5 93.8l0.7 0.2M271.6 162.4l-0.6 0.3M258.4 134.1l0.1 0.3M194.4 160.5l0.8 0.7M250.3 150.3l-0.2 0.3M259.7 147.3l0.6 0.3M259.8 148.0l0.0 0.5M198.9 90.0l-0.2 0.3M232.8 149.8l0.2 0.4M273.3 136.1l-0.4 0.0M228.7 129.6l-0.2 0.3M235.5 152.7l-0.1 0.1M263.1 173.2l-0.1 0.1M259.9 141.7l0.9 0.5M200.8 147.1l0.8 0.5M222.9 162.5l1.0 0.8M262.5 143.5l0.4 0.3M172.7 113.5l0.2 0.4M241.2 137.5l-0.2 0.4M154.6 172.8l0.6 0.6M189.0 167.7l0.6 0.6M240.9 162.1l0.2 0.5M247.2 97.1l0.6 0.2M245.6 127.5l-0.0 0.5M273.6 143.3l-0.7 0.8M265.0 160.2l-0.9 0.3M210.4 92.1l-0.1 0.0M249.2 169.2l0.9 0.7M191.9 88.8l0.2 1.0M238.0 94.3l0.9 0.5M206.9 152.8l0.1 0.4M265.7 123.8l0.0 0.4M198.1 143.4l0.3 0.6M152.2 143.6l0.8 0.5M178.9 156.9l-0.4 0.6M216.2 173.4l-0.1 0.1M246.5 142.0l0.4 1.2M236.0 107.0l-0.8 1.0M252.9 169.3l1.2 0.1M240.5 91.5l0.1 0.6M159.6 84.0l0.5 0.7M261.1 166.3l-0.8 0.1M238.4 161.0l-0.5 0.8M217.9 84.0l-0.4 1.2M243.0 149.2l0.2 0.6M219.8 72.8l0.3 0.5M215.3 157.8l0.6 0.5M252.9 121.2l0.4 0.4M197.7 151.6l-0.4 0.2M188.6 142.0l-0.8 0.3M247.3 124.9l-0.4 0.9M214.5 166.6l0.2 0.1M206.0 172.1l-0.0 0.1M233.8 162.8l-0.3 0.3M263.2 154.8l0.2 0.9M218.1 126.7l-0.4 0.1M248.5 154.3l0.2 0.0M178.9 166.2l1.2 0.1M236.9 82.4l0.0 0.1M266.6 160.9l0.8 0.8M199.7 137.7l-0.7 0.4M239.4 163.8l-0.5 0.6M260.0 122.4l1.1 0.2M220.3 160.0l-0.1 0.2M265.6 123.4l0.1 1.1M231.5 159.4l-0.3 0.2M247.7 135.1l-0.7 0.2M222.5 129.1l0.9 0.0M218.8 116.7l-0.4 1.2M160.7 172.7l0.5 0.4M244.5 112.1l-0.4 0.1M269.8 167.0l0.5 1.2M193.9 153.6l-0.5 0.7M241.5 148.7l0.1 0.1M243.6 156.3l-0.7 0.2M217.2 152.3l0.1 0.1M168.3 167.8l-0.0 0.2M238.0 148.1l-0.1 0.1M213.8 133.9l-0.1 1.0M240.7 122.1l0.8 1.0M159.4 173.5l0.6 1.1M200.6 140.5l-0.3 0.3M213.2 138.8l-0.3 0.5M238.5 134.1l-0.0 0.1M239.0 102.0l0.2 0.1M180.4 169.4l0.1 0.2M228.5 55.6l-0.8 1.0M238.3 125.0l-0.3 0.5M266.6 83.1l-0.4 0.1M239.3 165.6l0.7 0.4M224.4 140.3l-0.6 0.6M241.6 142.0l-0.7 0.3M264.8 92.6l0.3 0.0M218.8 173.5l0.4 0.9M244.5 172.7l-0.1 0.7M193.5 167.8l0.1 0.2M189.6 99.0l0.4 0.6M195.6 151.7l-1.2 0.5M259.1 124.4l-0.5 0.4M229.8 144.8l-0.0 0.7M201.7 171.7l0.4 0.5M226.5 127.7l0.3 0.3M234.2 66.8l-0.2 0.6M157.6 151.2l-0.7 0.1M219.8 112.3l0.1 0.3M215.1 135.2l-0.5 0.2M197.5 162.2l0.1 0.4M244.5 53.1l0.5 1.1M224.6 163.5l-0.6 0.1M211.6 102.3l0.8 0.3M215.3 162.7l-0.4 0.5M179.7 165.6l0.2 0.0M265.2 160.2l0.2 0.1M268.3 166.5l0.2 0.0M265.1 113.5l-0.0 0.7M266.7 136.9l-0.0 0.2M212.1 95.9l-0.9 0.5M210.5 116.9l-0.2 0.8M230.5 113.2l0.4 0.4M225.8 109.3l-0.1 0.1M216.0 151.4l0.1 0.9M271.6 69.8l-0.6 1.0M250.6 88.5l0.2 1.2M163.0 148.3l0.0 0.4M188.8 158.3l0.2 0.6M230.6 150.9l0.4 1.1M246.4 172.3l-0.1 0.3M240.5 125.0l-0.3 0.7M261.6 77.5l0.3 0.2M151.1 161.5l-0.0 0.5M259.7 64.9l0.9 0.9M223.4 130.6l-0.9 0.2M265.3 58.2l0.7 0.8M243.9 68.3l-0.2 0.2M170.5 168.0l0.3 0.9M266.4 172.7l-0.7 0.3M259.1 115.3l-0.3 0.1M196.4 169.9l0.1 0.8M273.3 123.0l-0.6 0.1M215.5 140.5l-1.2 0.1M248.8 90.9l-1.1 0.4M246.6 99.4l0.5 0.1M233.3 121.3l-0.2 0.5M234.8 62.1l-0.8 0.1M186.7 170.7l-0.8 0.3M271.0 164.4l-0.5 0.0M182.6 168.2l0.0 0.9M234.5 129.7l-0.1 0.1M207.5 132.5l-0.1 0.2M180.1 170.4l0.5 1.1M212.9 172.5l-1.0 0.4M210.7 140.3l0.0 0.2M264.2 132.1l0.1 0.2M152.7 102.2l0.7 0.1M154.8 82.3l0.3 0.3M240.9 89.6l-0.4 0.4M235.2 142.2l-0.0 0.9M222.0 132.6l-0.5 0.2M195.2 93.7l-0.4 0.2M218.3 121.0l-0.2 0.1M270.0 136.0l-0.6 0.1M193.0 143.8l-1.0 0.3M241.6 124.9l0.8 0.7M246.1 110.5l0.1 0.2M231.8 130.3l0.1 0.1M240.4 83.5l-0.1 0.4M222.4 130.2l0.2 0.2M228.6 133.4l-0.3 0.0M260.2 101.6l0.1 0.4M262.3 70.9l-0.2 0.8M166.3 161.7l-1.0 0.6M244.7 171.0l0.2 0.2M244.0 101.5l-0.1 0.2M165.5 163.1l0.5 0.5M177.3 170.6l0.1 0.9M215.7 137.1l-0.1 0.2M253.5 159.8l0.5 0.2M204.2 102.3l0.8 0.5M215.7 85.3l1.0 0.6M204.8 164.1l-0.2 0.3" stroke="#ea3b2b" stroke-width="1.6" opacity="1.00" stroke-linecap="round" fill="none"/></g><g stroke="#9a8d88" stroke-width="0.7" fill="none" opacity="0.75"><rect x="153.3" y="54.5" width="115.3" height="115.5"/><path d="M147.0 50.0L153.3 54.5"/><path d="M274.0 50.0L268.6 54.5"/><path d="M147.0 174.0L153.3 170.0"/><path d="M274.0 174.0L268.6 170.0"/><path d="M153.3 170.0v-2.8M155.6 170.0v-1.6M157.9 170.0v-1.6M160.2 170.0v-1.6M162.5 170.0v-1.6M164.8 170.0v-2.8M167.1 170.0v-1.6M169.4 170.0v-1.6M171.7 170.0v-1.6M174.0 170.0v-1.6M176.3 170.0v-2.8M178.6 170.0v-1.6M180.9 170.0v-1.6M183.2 170.0v-1.6M185.5 170.0v-1.6M187.8 170.0v-2.8M190.1 170.0v-1.6M192.4 170.0v-1.6M194.7 170.0v-1.6M197.0 170.0v-1.6M199.3 170.0v-2.8M201.6 170.0v-1.6M203.9 170.0v-1.6M206.2 170.0v-1.6M208.5 170.0v-1.6M210.8 170.0v-2.8M213.1 170.0v-1.6M215.4 170.0v-1.6M217.7 170.0v-1.6M220.0 170.0v-1.6M222.3 170.0v-2.8M224.6 170.0v-1.6M226.9 170.0v-1.6M229.2 170.0v-1.6M231.5 170.0v-1.6M233.8 170.0v-2.8M236.1 170.0v-1.6M238.4 170.0v-1.6M240.7 170.0v-1.6M243.0 170.0v-1.6M245.3 170.0v-2.8M247.6 170.0v-1.6M249.9 170.0v-1.6M252.2 170.0v-1.6M254.5 170.0v-1.6M256.8 170.0v-2.8M259.1 170.0v-1.6M261.4 170.0v-1.6M263.7 170.0v-1.6M266.0 170.0v-1.6M268.3 170.0v-2.8M268.6 54.5h-2.8M268.6 56.8h-1.6M268.6 59.1h-1.6M268.6 61.4h-1.6M268.6 63.7h-1.6M268.6 66.0h-2.8M268.6 68.3h-1.6M268.6 70.6h-1.6M268.6 72.9h-1.6M268.6 75.2h-1.6M268.6 77.5h-2.8M268.6 79.8h-1.6M268.6 82.1h-1.6M268.6 84.4h-1.6M268.6 86.7h-1.6M268.6 89.0h-2.8M268.6 91.3h-1.6M268.6 93.6h-1.6M268.6 95.9h-1.6M268.6 98.2h-1.6M268.6 100.5h-2.8M268.6 102.8h-1.6M268.6 105.1h-1.6M268.6 107.4h-1.6M268.6 109.7h-1.6M268.6 112.0h-2.8M268.6 114.3h-1.6M268.6 116.6h-1.6M268.6 118.9h-1.6M268.6 121.2h-1.6M268.6 123.5h-2.8M268.6 125.8h-1.6M268.6 128.1h-1.6M268.6 130.4h-1.6M268.6 132.7h-1.6M268.6 135.0h-2.8M268.6 137.3h-1.6M268.6 139.6h-1.6M268.6 141.9h-1.6M268.6 144.2h-1.6M268.6 146.5h-2.8M268.6 148.8h-1.6M268.6 151.1h-1.6M268.6 153.4h-1.6M268.6 155.7h-1.6M268.6 158.0h-2.8M268.6 160.3h-1.6M268.6 162.6h-1.6M268.6 164.9h-1.6M268.6 167.2h-1.6M268.6 169.5h-2.8" stroke="#b8aea9" stroke-width="0.5" opacity="0.55"/><path d="M176.4 54.5V170.0M153.3 77.6H268.6M199.4 54.5V170.0M153.3 100.7H268.6M222.5 54.5V170.0M153.3 123.8H268.6M245.5 54.5V170.0M153.3 146.9H268.6" stroke-width="0.5" opacity="0.18"/></g></g><rect x="146" y="49" width="1" height="126" fill="#0a0505"/><rect x="146" y="49" width="129" height="1" fill="#150a09"/>
<path d="M384.7 60.0l2.35 4.40h-4.70zM374.3 112.7l2.35 4.40h-4.70zM381.3 115.3l2.35 4.40h-4.70zM388.0 113.0l2.35 4.40h-4.70zM395.0 111.4l2.35 4.40h-4.70zM377.7 117.7l2.35 4.40h-4.70zM391.2 117.7l2.35 4.40h-4.70zM384.7 123.4l2.35 4.40h-4.70zM370.6 125.5l2.35 4.40h-4.70zM377.7 128.5l2.35 4.40h-4.70zM395.0 129.5l2.35 4.40h-4.70zM402.0 128.1l2.35 4.40h-4.70zM384.7 131.2l2.35 4.40h-4.70zM363.5 133.0l2.35 4.40h-4.70zM370.6 134.3l2.35 4.40h-4.70zM377.7 135.7l2.35 4.40h-4.70zM391.6 134.6l2.35 4.40h-4.70zM398.3 132.6l2.35 4.40h-4.70zM405.3 132.3l2.35 4.40h-4.70zM384.7 137.7l2.35 4.40h-4.70zM384.5 175.0l2.35 4.40h-4.70zM361.9 139.2l2.35 4.40h-4.70zM364.6 139.6l2.35 4.40h-4.70zM367.3 140.6l2.35 4.40h-4.70zM370.0 140.7l2.35 4.40h-4.70zM372.7 141.6l2.35 4.40h-4.70zM375.3 142.1l2.35 4.40h-4.70zM378.0 142.4l2.35 4.40h-4.70zM380.7 143.3l2.35 4.40h-4.70zM383.4 143.5l2.35 4.40h-4.70zM386.0 143.9l2.35 4.40h-4.70zM388.7 143.0l2.35 4.40h-4.70zM391.4 142.4l2.35 4.40h-4.70zM394.1 142.1l2.35 4.40h-4.70zM396.7 141.9l2.35 4.40h-4.70zM399.4 140.7l2.35 4.40h-4.70zM402.1 140.2l2.35 4.40h-4.70zM404.8 140.0l2.35 4.40h-4.70zM407.4 139.7l2.35 4.40h-4.70zM361.9 147.0l2.35 4.40h-4.70zM364.2 147.4l2.35 4.40h-4.70zM366.5 147.7l2.35 4.40h-4.70zM368.8 148.1l2.35 4.40h-4.70zM371.1 148.5l2.35 4.40h-4.70zM373.3 148.8l2.35 4.40h-4.70zM375.6 149.2l2.35 4.40h-4.70zM377.9 149.6l2.35 4.40h-4.70zM380.1 150.0l2.35 4.40h-4.70zM382.4 150.3l2.35 4.40h-4.70zM384.7 150.7l2.35 4.40h-4.70zM387.0 150.3l2.35 4.40h-4.70zM389.2 150.0l2.35 4.40h-4.70zM391.5 149.6l2.35 4.40h-4.70zM393.8 149.2l2.35 4.40h-4.70zM396.1 148.8l2.35 4.40h-4.70zM398.3 148.5l2.35 4.40h-4.70zM400.6 148.1l2.35 4.40h-4.70zM402.9 147.7l2.35 4.40h-4.70zM405.2 147.4l2.35 4.40h-4.70zM407.4 147.0l2.35 4.40h-4.70zM361.9 150.0l2.35 4.40h-4.70zM363.5 150.3l2.35 4.40h-4.70zM365.1 150.6l2.35 4.40h-4.70zM366.7 150.9l2.35 4.40h-4.70zM368.2 151.2l2.35 4.40h-4.70zM369.8 151.6l2.35 4.40h-4.70zM371.4 151.9l2.35 4.40h-4.70zM372.9 152.2l2.35 4.40h-4.70zM374.5 152.5l2.35 4.40h-4.70zM376.1 152.8l2.35 4.40h-4.70zM377.6 153.1l2.35 4.40h-4.70zM379.2 153.4l2.35 4.40h-4.70zM380.8 153.7l2.35 4.40h-4.70zM382.3 154.0l2.35 4.40h-4.70zM383.9 154.3l2.35 4.40h-4.70zM385.5 154.3l2.35 4.40h-4.70zM387.1 154.0l2.35 4.40h-4.70zM388.6 153.7l2.35 4.40h-4.70zM390.2 153.4l2.35 4.40h-4.70zM391.8 153.1l2.35 4.40h-4.70zM393.3 152.8l2.35 4.40h-4.70zM394.9 152.5l2.35 4.40h-4.70zM396.5 152.2l2.35 4.40h-4.70zM398.0 151.9l2.35 4.40h-4.70zM399.6 151.6l2.35 4.40h-4.70zM401.2 151.2l2.35 4.40h-4.70zM402.7 150.9l2.35 4.40h-4.70zM404.3 150.6l2.35 4.40h-4.70zM405.9 150.3l2.35 4.40h-4.70zM407.4 150.0l2.35 4.40h-4.70zM361.9 152.3l2.35 4.40h-4.70zM362.7 152.5l2.35 4.40h-4.70zM363.5 152.7l2.35 4.40h-4.70zM364.3 152.8l2.35 4.40h-4.70zM365.0 153.0l2.35 4.40h-4.70zM365.8 153.2l2.35 4.40h-4.70zM366.6 153.4l2.35 4.40h-4.70zM367.3 153.5l2.35 4.40h-4.70zM368.1 153.7l2.35 4.40h-4.70zM368.9 153.9l2.35 4.40h-4.70zM369.7 154.1l2.35 4.40h-4.70zM370.4 154.2l2.35 4.40h-4.70zM371.2 154.4l2.35 4.40h-4.70zM372.0 154.6l2.35 4.40h-4.70zM372.7 154.8l2.35 4.40h-4.70zM373.5 154.9l2.35 4.40h-4.70zM374.3 155.1l2.35 4.40h-4.70zM375.1 155.3l2.35 4.40h-4.70zM375.8 155.5l2.35 4.40h-4.70zM376.6 155.6l2.35 4.40h-4.70zM377.4 155.8l2.35 4.40h-4.70zM378.1 156.0l2.35 4.40h-4.70zM378.9 156.2l2.35 4.40h-4.70zM379.7 156.4l2.35 4.40h-4.70zM380.5 156.5l2.35 4.40h-4.70zM381.2 156.7l2.35 4.40h-4.70zM382.0 156.9l2.35 4.40h-4.70zM382.8 157.1l2.35 4.40h-4.70zM383.5 157.2l2.35 4.40h-4.70zM384.3 157.4l2.35 4.40h-4.70zM385.1 157.4l2.35 4.40h-4.70zM385.9 157.2l2.35 4.40h-4.70zM386.6 157.1l2.35 4.40h-4.70zM387.4 156.9l2.35 4.40h-4.70zM388.2 156.7l2.35 4.40h-4.70zM388.9 156.5l2.35 4.40h-4.70zM389.7 156.4l2.35 4.40h-4.70zM390.5 156.2l2.35 4.40h-4.70zM391.3 156.0l2.35 4.40h-4.70zM392.0 155.8l2.35 4.40h-4.70zM392.8 155.6l2.35 4.40h-4.70zM393.6 155.5l2.35 4.40h-4.70zM394.3 155.3l2.35 4.40h-4.70zM395.1 155.1l2.35 4.40h-4.70zM395.9 154.9l2.35 4.40h-4.70zM396.7 154.8l2.35 4.40h-4.70zM397.4 154.6l2.35 4.40h-4.70zM398.2 154.4l2.35 4.40h-4.70zM399.0 154.2l2.35 4.40h-4.70zM399.7 154.1l2.35 4.40h-4.70zM400.5 153.9l2.35 4.40h-4.70zM401.3 153.7l2.35 4.40h-4.70zM402.1 153.5l2.35 4.40h-4.70zM402.8 153.4l2.35 4.40h-4.70zM403.6 153.2l2.35 4.40h-4.70zM404.4 153.0l2.35 4.40h-4.70zM405.1 152.8l2.35 4.40h-4.70zM405.9 152.7l2.35 4.40h-4.70zM406.7 152.5l2.35 4.40h-4.70zM407.4 152.3l2.35 4.40h-4.70zM361.9 153.7l2.35 4.40h-4.70zM362.7 153.9l2.35 4.40h-4.70zM363.5 154.0l2.35 4.40h-4.70zM364.3 154.2l2.35 4.40h-4.70zM365.0 154.4l2.35 4.40h-4.70zM365.8 154.5l2.35 4.40h-4.70zM366.6 154.7l2.35 4.40h-4.70zM367.3 154.9l2.35 4.40h-4.70zM368.1 155.1l2.35 4.40h-4.70zM368.9 155.2l2.35 4.40h-4.70zM369.7 155.4l2.35 4.40h-4.70zM370.4 155.6l2.35 4.40h-4.70zM371.2 155.7l2.35 4.40h-4.70zM372.0 155.9l2.35 4.40h-4.70zM372.7 156.1l2.35 4.40h-4.70zM373.5 156.2l2.35 4.40h-4.70zM374.3 156.4l2.35 4.40h-4.70zM375.1 156.6l2.35 4.40h-4.70zM375.8 156.8l2.35 4.40h-4.70zM376.6 156.9l2.35 4.40h-4.70zM377.4 157.1l2.35 4.40h-4.70zM378.1 157.3l2.35 4.40h-4.70zM378.9 157.4l2.35 4.40h-4.70zM379.7 157.6l2.35 4.40h-4.70zM380.5 157.8l2.35 4.40h-4.70zM381.2 157.9l2.35 4.40h-4.70zM382.0 158.1l2.35 4.40h-4.70zM382.8 158.3l2.35 4.40h-4.70zM383.5 158.4l2.35 4.40h-4.70zM384.3 158.6l2.35 4.40h-4.70zM385.1 158.6l2.35 4.40h-4.70zM385.9 158.4l2.35 4.40h-4.70zM386.6 158.3l2.35 4.40h-4.70zM387.4 158.1l2.35 4.40h-4.70zM388.2 157.9l2.35 4.40h-4.70zM388.9 157.8l2.35 4.40h-4.70zM389.7 157.6l2.35 4.40h-4.70zM390.5 157.4l2.35 4.40h-4.70zM391.3 157.3l2.35 4.40h-4.70zM392.0 157.1l2.35 4.40h-4.70zM392.8 156.9l2.35 4.40h-4.70zM393.6 156.8l2.35 4.40h-4.70zM394.3 156.6l2.35 4.40h-4.70zM395.1 156.4l2.35 4.40h-4.70zM395.9 156.2l2.35 4.40h-4.70zM396.7 156.1l2.35 4.40h-4.70zM397.4 155.9l2.35 4.40h-4.70zM398.2 155.7l2.35 4.40h-4.70zM399.0 155.6l2.35 4.40h-4.70zM399.7 155.4l2.35 4.40h-4.70zM400.5 155.2l2.35 4.40h-4.70zM401.3 155.1l2.35 4.40h-4.70zM402.1 154.9l2.35 4.40h-4.70zM402.8 154.7l2.35 4.40h-4.70zM403.6 154.5l2.35 4.40h-4.70zM404.4 154.4l2.35 4.40h-4.70zM405.1 154.2l2.35 4.40h-4.70zM405.9 154.0l2.35 4.40h-4.70zM406.7 153.9l2.35 4.40h-4.70zM407.4 153.7l2.35 4.40h-4.70zM361.9 161.0l2.35 4.40h-4.70zM362.6 161.1l2.35 4.40h-4.70zM363.3 161.3l2.35 4.40h-4.70zM363.9 161.4l2.35 4.40h-4.70zM364.6 161.6l2.35 4.40h-4.70zM365.2 161.7l2.35 4.40h-4.70zM365.9 161.9l2.35 4.40h-4.70zM366.6 162.0l2.35 4.40h-4.70zM367.2 162.2l2.35 4.40h-4.70zM367.9 162.3l2.35 4.40h-4.70zM368.5 162.4l2.35 4.40h-4.70zM369.2 162.6l2.35 4.40h-4.70zM369.9 162.7l2.35 4.40h-4.70zM370.5 162.9l2.35 4.40h-4.70zM371.2 163.0l2.35 4.40h-4.70zM371.8 163.2l2.35 4.40h-4.70zM372.5 163.3l2.35 4.40h-4.70zM373.2 163.5l2.35 4.40h-4.70zM373.8 163.6l2.35 4.40h-4.70zM374.5 163.8l2.35 4.40h-4.70zM375.1 163.9l2.35 4.40h-4.70zM375.8 164.0l2.35 4.40h-4.70zM376.5 164.2l2.35 4.40h-4.70zM377.1 164.3l2.35 4.40h-4.70zM377.8 164.5l2.35 4.40h-4.70zM378.4 164.6l2.35 4.40h-4.70zM379.1 164.8l2.35 4.40h-4.70zM379.8 164.9l2.35 4.40h-4.70zM380.4 165.1l2.35 4.40h-4.70zM381.1 165.2l2.35 4.40h-4.70zM381.7 165.3l2.35 4.40h-4.70zM382.4 165.5l2.35 4.40h-4.70zM383.1 165.6l2.35 4.40h-4.70zM383.7 165.8l2.35 4.40h-4.70zM384.4 165.9l2.35 4.40h-4.70zM385.0 165.9l2.35 4.40h-4.70zM385.7 165.8l2.35 4.40h-4.70zM386.3 165.6l2.35 4.40h-4.70zM387.0 165.5l2.35 4.40h-4.70zM387.7 165.3l2.35 4.40h-4.70zM388.3 165.2l2.35 4.40h-4.70zM389.0 165.1l2.35 4.40h-4.70zM389.6 164.9l2.35 4.40h-4.70zM390.3 164.8l2.35 4.40h-4.70zM391.0 164.6l2.35 4.40h-4.70zM391.6 164.5l2.35 4.40h-4.70zM392.3 164.3l2.35 4.40h-4.70zM392.9 164.2l2.35 4.40h-4.70zM393.6 164.0l2.35 4.40h-4.70zM394.3 163.9l2.35 4.40h-4.70zM394.9 163.8l2.35 4.40h-4.70zM395.6 163.6l2.35 4.40h-4.70zM396.2 163.5l2.35 4.40h-4.70zM396.9 163.3l2.35 4.40h-4.70zM397.6 163.2l2.35 4.40h-4.70zM398.2 163.0l2.35 4.40h-4.70zM398.9 162.9l2.35 4.40h-4.70zM399.5 162.7l2.35 4.40h-4.70zM400.2 162.6l2.35 4.40h-4.70zM400.9 162.4l2.35 4.40h-4.70zM401.5 162.3l2.35 4.40h-4.70zM402.2 162.2l2.35 4.40h-4.70zM402.8 162.0l2.35 4.40h-4.70zM403.5 161.9l2.35 4.40h-4.70zM404.2 161.7l2.35 4.40h-4.70zM404.8 161.6l2.35 4.40h-4.70zM405.5 161.4l2.35 4.40h-4.70zM406.1 161.3l2.35 4.40h-4.70zM406.8 161.1l2.35 4.40h-4.70zM407.4 161.0l2.35 4.40h-4.70zM361.9 162.7l2.35 4.40h-4.70zM363.1 163.0l2.35 4.40h-4.70zM364.3 163.3l2.35 4.40h-4.70zM365.4 163.6l2.35 4.40h-4.70zM366.6 163.9l2.35 4.40h-4.70zM367.8 164.2l2.35 4.40h-4.70zM368.9 164.5l2.35 4.40h-4.70zM370.1 164.8l2.35 4.40h-4.70zM371.3 165.1l2.35 4.40h-4.70zM372.4 165.4l2.35 4.40h-4.70zM373.6 165.7l2.35 4.40h-4.70zM374.8 166.0l2.35 4.40h-4.70zM375.9 166.3l2.35 4.40h-4.70zM377.1 166.6l2.35 4.40h-4.70zM378.3 166.9l2.35 4.40h-4.70zM379.4 167.2l2.35 4.40h-4.70zM380.6 167.5l2.35 4.40h-4.70zM381.8 167.8l2.35 4.40h-4.70zM382.9 168.1l2.35 4.40h-4.70zM384.1 168.4l2.35 4.40h-4.70zM385.3 168.4l2.35 4.40h-4.70zM386.4 168.1l2.35 4.40h-4.70zM387.6 167.8l2.35 4.40h-4.70zM388.8 167.5l2.35 4.40h-4.70zM389.9 167.2l2.35 4.40h-4.70zM391.1 166.9l2.35 4.40h-4.70zM392.3 166.6l2.35 4.40h-4.70zM393.4 166.3l2.35 4.40h-4.70zM394.6 166.0l2.35 4.40h-4.70zM395.8 165.7l2.35 4.40h-4.70zM396.9 165.4l2.35 4.40h-4.70zM398.1 165.1l2.35 4.40h-4.70zM399.3 164.8l2.35 4.40h-4.70zM400.4 164.5l2.35 4.40h-4.70zM401.6 164.2l2.35 4.40h-4.70zM402.8 163.9l2.35 4.40h-4.70zM403.9 163.6l2.35 4.40h-4.70zM405.1 163.3l2.35 4.40h-4.70zM406.3 163.0l2.35 4.40h-4.70zM407.4 162.7l2.35 4.40h-4.70zM361.9 168.0l2.35 4.40h-4.70zM364.1 168.6l2.35 4.40h-4.70zM366.3 169.1l2.35 4.40h-4.70zM368.4 169.7l2.35 4.40h-4.70zM370.6 170.3l2.35 4.40h-4.70zM372.8 170.9l2.35 4.40h-4.70zM374.9 171.4l2.35 4.40h-4.70zM377.1 172.0l2.35 4.40h-4.70zM379.3 172.6l2.35 4.40h-4.70zM381.4 173.1l2.35 4.40h-4.70zM383.6 173.7l2.35 4.40h-4.70zM385.8 173.7l2.35 4.40h-4.70zM387.9 173.1l2.35 4.40h-4.70zM390.1 172.6l2.35 4.40h-4.70zM392.3 172.0l2.35 4.40h-4.70zM394.4 171.4l2.35 4.40h-4.70zM396.6 170.9l2.35 4.40h-4.70zM398.8 170.3l2.35 4.40h-4.70zM400.9 169.7l2.35 4.40h-4.70zM403.1 169.1l2.35 4.40h-4.70zM405.3 168.6l2.35 4.40h-4.70zM407.4 168.0l2.35 4.40h-4.70z" fill="none" stroke="#9f3044" stroke-width="1.05" stroke-linejoin="miter"/><path d="M461.2 39.0l2.35 4.40h-4.70zM447.5 105.5l2.35 4.40h-4.70zM454.3 106.0l2.35 4.40h-4.70zM461.0 109.5l2.35 4.40h-4.70zM468.0 107.0l2.35 4.40h-4.70zM474.8 105.5l2.35 4.40h-4.70zM444.0 111.5l2.35 4.40h-4.70zM450.5 114.0l2.35 4.40h-4.70zM457.5 116.5l2.35 4.40h-4.70zM464.5 118.0l2.35 4.40h-4.70zM471.5 115.0l2.35 4.40h-4.70zM478.5 111.5l2.35 4.40h-4.70zM438.5 120.0l2.35 4.40h-4.70zM445.0 122.5l2.35 4.40h-4.70zM451.5 123.0l2.35 4.40h-4.70zM458.0 125.0l2.35 4.40h-4.70zM464.5 123.5l2.35 4.40h-4.70zM471.0 122.5l2.35 4.40h-4.70zM477.5 122.5l2.35 4.40h-4.70zM483.5 118.5l2.35 4.40h-4.70zM444.0 131.0l2.35 4.40h-4.70zM451.0 133.5l2.35 4.40h-4.70zM457.5 134.5l2.35 4.40h-4.70zM464.5 137.0l2.35 4.40h-4.70zM471.5 133.0l2.35 4.40h-4.70zM478.5 131.0l2.35 4.40h-4.70zM447.5 142.0l2.35 4.40h-4.70zM454.5 143.0l2.35 4.40h-4.70zM458.0 145.5l2.35 4.40h-4.70zM461.0 146.5l2.35 4.40h-4.70zM464.5 144.5l2.35 4.40h-4.70zM468.0 143.0l2.35 4.40h-4.70zM474.8 142.0l2.35 4.40h-4.70zM438.4 146.6l2.35 4.40h-4.70zM441.5 147.2l2.35 4.40h-4.70zM444.5 148.3l2.35 4.40h-4.70zM447.6 148.3l2.35 4.40h-4.70zM450.6 149.7l2.35 4.40h-4.70zM453.6 150.0l2.35 4.40h-4.70zM456.6 150.6l2.35 4.40h-4.70zM459.7 151.3l2.35 4.40h-4.70zM462.7 151.5l2.35 4.40h-4.70zM465.8 151.2l2.35 4.40h-4.70zM468.8 149.9l2.35 4.40h-4.70zM471.8 149.5l2.35 4.40h-4.70zM474.8 148.8l2.35 4.40h-4.70zM477.9 147.9l2.35 4.40h-4.70zM480.9 147.3l2.35 4.40h-4.70zM483.9 146.2l2.35 4.40h-4.70zM438.4 151.0l2.35 4.40h-4.70zM440.0 151.3l2.35 4.40h-4.70zM441.6 151.6l2.35 4.40h-4.70zM443.2 151.8l2.35 4.40h-4.70zM444.7 152.1l2.35 4.40h-4.70zM446.3 152.4l2.35 4.40h-4.70zM447.9 152.7l2.35 4.40h-4.70zM449.4 152.9l2.35 4.40h-4.70zM451.0 153.2l2.35 4.40h-4.70zM452.6 153.5l2.35 4.40h-4.70zM454.1 153.8l2.35 4.40h-4.70zM455.7 154.0l2.35 4.40h-4.70zM457.3 154.3l2.35 4.40h-4.70zM458.8 154.6l2.35 4.40h-4.70zM460.4 154.9l2.35 4.40h-4.70zM462.0 154.9l2.35 4.40h-4.70zM463.6 154.6l2.35 4.40h-4.70zM465.1 154.3l2.35 4.40h-4.70zM466.7 154.0l2.35 4.40h-4.70zM468.3 153.8l2.35 4.40h-4.70zM469.8 153.5l2.35 4.40h-4.70zM471.4 153.2l2.35 4.40h-4.70zM473.0 152.9l2.35 4.40h-4.70zM474.5 152.7l2.35 4.40h-4.70zM476.1 152.4l2.35 4.40h-4.70zM477.7 152.1l2.35 4.40h-4.70zM479.2 151.8l2.35 4.40h-4.70zM480.8 151.6l2.35 4.40h-4.70zM482.4 151.3l2.35 4.40h-4.70zM483.9 151.0l2.35 4.40h-4.70zM438.4 154.5l2.35 4.40h-4.70zM439.1 154.6l2.35 4.40h-4.70zM439.8 154.7l2.35 4.40h-4.70zM440.4 154.8l2.35 4.40h-4.70zM441.1 155.0l2.35 4.40h-4.70zM441.7 155.1l2.35 4.40h-4.70zM442.4 155.2l2.35 4.40h-4.70zM443.1 155.3l2.35 4.40h-4.70zM443.7 155.4l2.35 4.40h-4.70zM444.4 155.5l2.35 4.40h-4.70zM445.0 155.7l2.35 4.40h-4.70zM445.7 155.8l2.35 4.40h-4.70zM446.4 155.9l2.35 4.40h-4.70zM447.0 156.0l2.35 4.40h-4.70zM447.7 156.1l2.35 4.40h-4.70zM448.3 156.2l2.35 4.40h-4.70zM449.0 156.4l2.35 4.40h-4.70zM449.7 156.5l2.35 4.40h-4.70zM450.3 156.6l2.35 4.40h-4.70zM451.0 156.7l2.35 4.40h-4.70zM451.6 156.8l2.35 4.40h-4.70zM452.3 156.9l2.35 4.40h-4.70zM453.0 157.1l2.35 4.40h-4.70zM453.6 157.2l2.35 4.40h-4.70zM454.3 157.3l2.35 4.40h-4.70zM454.9 157.4l2.35 4.40h-4.70zM455.6 157.5l2.35 4.40h-4.70zM456.3 157.6l2.35 4.40h-4.70zM456.9 157.7l2.35 4.40h-4.70zM457.6 157.9l2.35 4.40h-4.70zM458.2 158.0l2.35 4.40h-4.70zM458.9 158.1l2.35 4.40h-4.70zM459.6 158.2l2.35 4.40h-4.70zM460.2 158.3l2.35 4.40h-4.70zM460.9 158.4l2.35 4.40h-4.70zM461.5 158.4l2.35 4.40h-4.70zM462.2 158.3l2.35 4.40h-4.70zM462.8 158.2l2.35 4.40h-4.70zM463.5 158.1l2.35 4.40h-4.70zM464.2 158.0l2.35 4.40h-4.70zM464.8 157.9l2.35 4.40h-4.70zM465.5 157.7l2.35 4.40h-4.70zM466.1 157.6l2.35 4.40h-4.70zM466.8 157.5l2.35 4.40h-4.70zM467.5 157.4l2.35 4.40h-4.70zM468.1 157.3l2.35 4.40h-4.70zM468.8 157.2l2.35 4.40h-4.70zM469.4 157.1l2.35 4.40h-4.70zM470.1 156.9l2.35 4.40h-4.70zM470.8 156.8l2.35 4.40h-4.70zM471.4 156.7l2.35 4.40h-4.70zM472.1 156.6l2.35 4.40h-4.70zM472.7 156.5l2.35 4.40h-4.70zM473.4 156.4l2.35 4.40h-4.70zM474.1 156.2l2.35 4.40h-4.70zM474.7 156.1l2.35 4.40h-4.70zM475.4 156.0l2.35 4.40h-4.70zM476.0 155.9l2.35 4.40h-4.70zM476.7 155.8l2.35 4.40h-4.70zM477.4 155.7l2.35 4.40h-4.70zM478.0 155.5l2.35 4.40h-4.70zM478.7 155.4l2.35 4.40h-4.70zM479.3 155.3l2.35 4.40h-4.70zM480.0 155.2l2.35 4.40h-4.70zM480.7 155.1l2.35 4.40h-4.70zM481.3 155.0l2.35 4.40h-4.70zM482.0 154.8l2.35 4.40h-4.70zM482.6 154.7l2.35 4.40h-4.70zM483.3 154.6l2.35 4.40h-4.70zM483.9 154.5l2.35 4.40h-4.70zM438.4 157.0l2.35 4.40h-4.70zM439.1 157.1l2.35 4.40h-4.70zM439.8 157.3l2.35 4.40h-4.70zM440.4 157.4l2.35 4.40h-4.70zM441.1 157.6l2.35 4.40h-4.70zM441.7 157.7l2.35 4.40h-4.70zM442.4 157.9l2.35 4.40h-4.70zM443.1 158.0l2.35 4.40h-4.70zM443.7 158.2l2.35 4.40h-4.70zM444.4 158.3l2.35 4.40h-4.70zM445.0 158.4l2.35 4.40h-4.70zM445.7 158.6l2.35 4.40h-4.70zM446.4 158.7l2.35 4.40h-4.70zM447.0 158.9l2.35 4.40h-4.70zM447.7 159.0l2.35 4.40h-4.70zM448.3 159.2l2.35 4.40h-4.70zM449.0 159.3l2.35 4.40h-4.70zM449.7 159.5l2.35 4.40h-4.70zM450.3 159.6l2.35 4.40h-4.70zM451.0 159.8l2.35 4.40h-4.70zM451.6 159.9l2.35 4.40h-4.70zM452.3 160.0l2.35 4.40h-4.70zM453.0 160.2l2.35 4.40h-4.70zM453.6 160.3l2.35 4.40h-4.70zM454.3 160.5l2.35 4.40h-4.70zM454.9 160.6l2.35 4.40h-4.70zM455.6 160.8l2.35 4.40h-4.70zM456.3 160.9l2.35 4.40h-4.70zM456.9 161.1l2.35 4.40h-4.70zM457.6 161.2l2.35 4.40h-4.70zM458.2 161.3l2.35 4.40h-4.70zM458.9 161.5l2.35 4.40h-4.70zM459.6 161.6l2.35 4.40h-4.70zM460.2 161.8l2.35 4.40h-4.70zM460.9 161.9l2.35 4.40h-4.70zM461.5 161.9l2.35 4.40h-4.70zM462.2 161.8l2.35 4.40h-4.70zM462.8 161.6l2.35 4.40h-4.70zM463.5 161.5l2.35 4.40h-4.70zM464.2 161.3l2.35 4.40h-4.70zM464.8 161.2l2.35 4.40h-4.70zM465.5 161.1l2.35 4.40h-4.70zM466.1 160.9l2.35 4.40h-4.70zM466.8 160.8l2.35 4.40h-4.70zM467.5 160.6l2.35 4.40h-4.70zM468.1 160.5l2.35 4.40h-4.70zM468.8 160.3l2.35 4.40h-4.70zM469.4 160.2l2.35 4.40h-4.70zM470.1 160.0l2.35 4.40h-4.70zM470.8 159.9l2.35 4.40h-4.70zM471.4 159.8l2.35 4.40h-4.70zM472.1 159.6l2.35 4.40h-4.70zM472.7 159.5l2.35 4.40h-4.70zM473.4 159.3l2.35 4.40h-4.70zM474.1 159.2l2.35 4.40h-4.70zM474.7 159.0l2.35 4.40h-4.70zM475.4 158.9l2.35 4.40h-4.70zM476.0 158.7l2.35 4.40h-4.70zM476.7 158.6l2.35 4.40h-4.70zM477.4 158.4l2.35 4.40h-4.70zM478.0 158.3l2.35 4.40h-4.70zM478.7 158.2l2.35 4.40h-4.70zM479.3 158.0l2.35 4.40h-4.70zM480.0 157.9l2.35 4.40h-4.70zM480.7 157.7l2.35 4.40h-4.70zM481.3 157.6l2.35 4.40h-4.70zM482.0 157.4l2.35 4.40h-4.70zM482.6 157.3l2.35 4.40h-4.70zM483.3 157.1l2.35 4.40h-4.70zM483.9 157.0l2.35 4.40h-4.70zM438.4 159.5l2.35 4.40h-4.70zM439.4 159.7l2.35 4.40h-4.70zM440.3 160.0l2.35 4.40h-4.70zM441.2 160.2l2.35 4.40h-4.70zM442.2 160.5l2.35 4.40h-4.70zM443.1 160.7l2.35 4.40h-4.70zM444.0 161.0l2.35 4.40h-4.70zM444.9 161.2l2.35 4.40h-4.70zM445.9 161.5l2.35 4.40h-4.70zM446.8 161.7l2.35 4.40h-4.70zM447.7 161.9l2.35 4.40h-4.70zM448.7 162.2l2.35 4.40h-4.70zM449.6 162.4l2.35 4.40h-4.70zM450.5 162.7l2.35 4.40h-4.70zM451.4 162.9l2.35 4.40h-4.70zM452.4 163.2l2.35 4.40h-4.70zM453.3 163.4l2.35 4.40h-4.70zM454.2 163.7l2.35 4.40h-4.70zM455.2 163.9l2.35 4.40h-4.70zM456.1 164.2l2.35 4.40h-4.70zM457.0 164.4l2.35 4.40h-4.70zM457.9 164.6l2.35 4.40h-4.70zM458.9 164.9l2.35 4.40h-4.70zM459.8 165.1l2.35 4.40h-4.70zM460.7 165.4l2.35 4.40h-4.70zM461.7 165.4l2.35 4.40h-4.70zM462.6 165.1l2.35 4.40h-4.70zM463.5 164.9l2.35 4.40h-4.70zM464.4 164.6l2.35 4.40h-4.70zM465.4 164.4l2.35 4.40h-4.70zM466.3 164.2l2.35 4.40h-4.70zM467.2 163.9l2.35 4.40h-4.70zM468.2 163.7l2.35 4.40h-4.70zM469.1 163.4l2.35 4.40h-4.70zM470.0 163.2l2.35 4.40h-4.70zM470.9 162.9l2.35 4.40h-4.70zM471.9 162.7l2.35 4.40h-4.70zM472.8 162.4l2.35 4.40h-4.70zM473.7 162.2l2.35 4.40h-4.70zM474.7 161.9l2.35 4.40h-4.70zM475.6 161.7l2.35 4.40h-4.70zM476.5 161.5l2.35 4.40h-4.70zM477.4 161.2l2.35 4.40h-4.70zM478.4 161.0l2.35 4.40h-4.70zM479.3 160.7l2.35 4.40h-4.70zM480.2 160.5l2.35 4.40h-4.70zM481.2 160.2l2.35 4.40h-4.70zM482.1 160.0l2.35 4.40h-4.70zM483.0 159.7l2.35 4.40h-4.70zM483.9 159.5l2.35 4.40h-4.70zM438.4 161.5l2.35 4.40h-4.70zM439.8 161.9l2.35 4.40h-4.70zM441.2 162.3l2.35 4.40h-4.70zM442.6 162.7l2.35 4.40h-4.70zM444.0 163.1l2.35 4.40h-4.70zM445.3 163.5l2.35 4.40h-4.70zM446.7 163.9l2.35 4.40h-4.70zM448.1 164.3l2.35 4.40h-4.70zM449.5 164.7l2.35 4.40h-4.70zM450.9 165.0l2.35 4.40h-4.70zM452.2 165.4l2.35 4.40h-4.70zM453.6 165.8l2.35 4.40h-4.70zM455.0 166.2l2.35 4.40h-4.70zM456.4 166.6l2.35 4.40h-4.70zM457.8 167.0l2.35 4.40h-4.70zM459.1 167.4l2.35 4.40h-4.70zM460.5 167.8l2.35 4.40h-4.70zM461.9 167.8l2.35 4.40h-4.70zM463.3 167.4l2.35 4.40h-4.70zM464.6 167.0l2.35 4.40h-4.70zM466.0 166.6l2.35 4.40h-4.70zM467.4 166.2l2.35 4.40h-4.70zM468.8 165.8l2.35 4.40h-4.70zM470.2 165.4l2.35 4.40h-4.70zM471.5 165.0l2.35 4.40h-4.70zM472.9 164.7l2.35 4.40h-4.70zM474.3 164.3l2.35 4.40h-4.70zM475.7 163.9l2.35 4.40h-4.70zM477.1 163.5l2.35 4.40h-4.70zM478.4 163.1l2.35 4.40h-4.70zM479.8 162.7l2.35 4.40h-4.70zM481.2 162.3l2.35 4.40h-4.70zM482.6 161.9l2.35 4.40h-4.70zM483.9 161.5l2.35 4.40h-4.70zM438.4 167.1l2.35 4.40h-4.70zM440.4 167.7l2.35 4.40h-4.70zM442.4 168.4l2.35 4.40h-4.70zM444.4 169.0l2.35 4.40h-4.70zM446.4 169.7l2.35 4.40h-4.70zM448.3 170.3l2.35 4.40h-4.70zM450.3 171.0l2.35 4.40h-4.70zM452.3 171.6l2.35 4.40h-4.70zM454.3 172.2l2.35 4.40h-4.70zM456.3 172.9l2.35 4.40h-4.70zM458.2 173.5l2.35 4.40h-4.70zM460.2 174.2l2.35 4.40h-4.70zM462.2 174.2l2.35 4.40h-4.70zM464.2 173.5l2.35 4.40h-4.70zM466.1 172.9l2.35 4.40h-4.70zM468.1 172.2l2.35 4.40h-4.70zM470.1 171.6l2.35 4.40h-4.70zM472.1 171.0l2.35 4.40h-4.70zM474.1 170.3l2.35 4.40h-4.70zM476.0 169.7l2.35 4.40h-4.70zM478.0 169.0l2.35 4.40h-4.70zM480.0 168.4l2.35 4.40h-4.70zM482.0 167.7l2.35 4.40h-4.70zM483.9 167.1l2.35 4.40h-4.70z" fill="none" stroke="#9f3044" stroke-width="1.05" stroke-linejoin="miter"/><path d="M112.5 278.6l2.35 4.40h-4.70zM108.9 295.8l2.35 4.40h-4.70zM116.1 293.7l2.35 4.40h-4.70zM109.5 404.0l2.35 4.40h-4.70zM116.0 402.3l2.35 4.40h-4.70zM84.9 301.8l2.35 4.40h-4.70zM91.8 303.4l2.35 4.40h-4.70zM98.7 305.2l2.35 4.40h-4.70zM105.7 306.4l2.35 4.40h-4.70zM112.6 307.8l2.35 4.40h-4.70zM119.5 306.5l2.35 4.40h-4.70zM126.5 305.0l2.35 4.40h-4.70zM133.4 303.5l2.35 4.40h-4.70zM140.3 302.4l2.35 4.40h-4.70zM81.4 310.2l2.35 4.40h-4.70zM88.3 311.0l2.35 4.40h-4.70zM95.3 312.5l2.35 4.40h-4.70zM102.2 313.7l2.35 4.40h-4.70zM109.1 315.2l2.35 4.40h-4.70zM116.1 315.1l2.35 4.40h-4.70zM123.0 313.5l2.35 4.40h-4.70zM129.9 312.8l2.35 4.40h-4.70zM136.9 310.9l2.35 4.40h-4.70zM143.8 309.9l2.35 4.40h-4.70zM84.9 318.7l2.35 4.40h-4.70zM91.8 319.4l2.35 4.40h-4.70zM98.7 320.8l2.35 4.40h-4.70zM105.7 321.6l2.35 4.40h-4.70zM112.6 323.2l2.35 4.40h-4.70zM119.5 322.2l2.35 4.40h-4.70zM126.5 320.9l2.35 4.40h-4.70zM133.4 320.0l2.35 4.40h-4.70zM140.3 318.4l2.35 4.40h-4.70zM81.4 324.2l2.35 4.40h-4.70zM88.3 325.3l2.35 4.40h-4.70zM95.3 326.5l2.35 4.40h-4.70zM102.2 327.6l2.35 4.40h-4.70zM109.1 329.2l2.35 4.40h-4.70zM116.1 329.2l2.35 4.40h-4.70zM123.0 327.6l2.35 4.40h-4.70zM129.9 326.6l2.35 4.40h-4.70zM136.9 324.9l2.35 4.40h-4.70zM143.8 324.2l2.35 4.40h-4.70zM77.8 333.2l2.35 4.40h-4.70zM83.2 334.5l2.35 4.40h-4.70zM88.5 335.3l2.35 4.40h-4.70zM93.9 335.9l2.35 4.40h-4.70zM99.2 336.9l2.35 4.40h-4.70zM104.6 338.2l2.35 4.40h-4.70zM109.9 338.6l2.35 4.40h-4.70zM115.3 339.0l2.35 4.40h-4.70zM120.6 337.8l2.35 4.40h-4.70zM126.0 336.7l2.35 4.40h-4.70zM131.3 335.7l2.35 4.40h-4.70zM136.7 335.3l2.35 4.40h-4.70zM142.0 333.8l2.35 4.40h-4.70zM147.3 332.9l2.35 4.40h-4.70zM77.8 340.4l2.35 4.40h-4.70zM82.8 341.5l2.35 4.40h-4.70zM87.8 341.6l2.35 4.40h-4.70zM92.7 342.6l2.35 4.40h-4.70zM97.7 343.4l2.35 4.40h-4.70zM102.7 344.4l2.35 4.40h-4.70zM107.6 345.0l2.35 4.40h-4.70zM112.6 345.8l2.35 4.40h-4.70zM117.6 344.6l2.35 4.40h-4.70zM122.5 344.0l2.35 4.40h-4.70zM127.5 343.2l2.35 4.40h-4.70zM132.5 343.0l2.35 4.40h-4.70zM137.4 342.3l2.35 4.40h-4.70zM142.4 340.9l2.35 4.40h-4.70zM147.3 340.2l2.35 4.40h-4.70zM77.8 346.8l2.35 4.40h-4.70zM82.5 347.3l2.35 4.40h-4.70zM87.1 348.1l2.35 4.40h-4.70zM91.8 348.7l2.35 4.40h-4.70zM96.4 349.0l2.35 4.40h-4.70zM101.0 349.3l2.35 4.40h-4.70zM105.6 350.2l2.35 4.40h-4.70zM110.3 350.7l2.35 4.40h-4.70zM114.9 350.9l2.35 4.40h-4.70zM119.5 350.6l2.35 4.40h-4.70zM124.2 349.9l2.35 4.40h-4.70zM128.8 349.2l2.35 4.40h-4.70zM133.4 348.7l2.35 4.40h-4.70zM138.1 348.2l2.35 4.40h-4.70zM142.7 347.2l2.35 4.40h-4.70zM147.3 347.3l2.35 4.40h-4.70zM77.8 352.9l2.35 4.40h-4.70zM82.2 353.7l2.35 4.40h-4.70zM86.5 354.3l2.35 4.40h-4.70zM90.9 354.6l2.35 4.40h-4.70zM95.2 355.3l2.35 4.40h-4.70zM99.6 355.7l2.35 4.40h-4.70zM103.9 356.8l2.35 4.40h-4.70zM108.3 357.0l2.35 4.40h-4.70zM112.6 357.7l2.35 4.40h-4.70zM116.9 357.1l2.35 4.40h-4.70zM121.3 356.4l2.35 4.40h-4.70zM125.6 355.9l2.35 4.40h-4.70zM130.0 355.0l2.35 4.40h-4.70zM134.3 354.3l2.35 4.40h-4.70zM138.7 353.7l2.35 4.40h-4.70zM143.0 353.0l2.35 4.40h-4.70zM147.3 352.6l2.35 4.40h-4.70zM77.8 360.1l2.35 4.40h-4.70zM80.9 360.4l2.35 4.40h-4.70zM83.9 360.6l2.35 4.40h-4.70zM86.9 360.9l2.35 4.40h-4.70zM89.9 361.1l2.35 4.40h-4.70zM93.0 361.4l2.35 4.40h-4.70zM96.0 361.6l2.35 4.40h-4.70zM99.0 361.9l2.35 4.40h-4.70zM102.0 362.1l2.35 4.40h-4.70zM105.0 362.4l2.35 4.40h-4.70zM108.1 362.6l2.35 4.40h-4.70zM111.1 362.9l2.35 4.40h-4.70zM114.1 362.9l2.35 4.40h-4.70zM117.1 362.6l2.35 4.40h-4.70zM120.2 362.4l2.35 4.40h-4.70zM123.2 362.1l2.35 4.40h-4.70zM126.2 361.9l2.35 4.40h-4.70zM129.2 361.6l2.35 4.40h-4.70zM132.2 361.4l2.35 4.40h-4.70zM135.3 361.1l2.35 4.40h-4.70zM138.3 360.9l2.35 4.40h-4.70zM141.3 360.6l2.35 4.40h-4.70zM144.3 360.4l2.35 4.40h-4.70zM147.3 360.1l2.35 4.40h-4.70zM77.8 366.5l2.35 4.40h-4.70zM79.0 366.7l2.35 4.40h-4.70zM80.2 366.9l2.35 4.40h-4.70zM81.4 367.2l2.35 4.40h-4.70zM82.6 367.4l2.35 4.40h-4.70zM83.7 367.6l2.35 4.40h-4.70zM84.9 367.8l2.35 4.40h-4.70zM86.1 368.0l2.35 4.40h-4.70zM87.3 368.3l2.35 4.40h-4.70zM88.5 368.5l2.35 4.40h-4.70zM89.6 368.7l2.35 4.40h-4.70zM90.8 368.9l2.35 4.40h-4.70zM92.0 369.1l2.35 4.40h-4.70zM93.2 369.4l2.35 4.40h-4.70zM94.3 369.6l2.35 4.40h-4.70zM95.5 369.8l2.35 4.40h-4.70zM96.7 370.0l2.35 4.40h-4.70zM97.9 370.2l2.35 4.40h-4.70zM99.1 370.5l2.35 4.40h-4.70zM100.2 370.7l2.35 4.40h-4.70zM101.4 370.9l2.35 4.40h-4.70zM102.6 371.1l2.35 4.40h-4.70zM103.8 371.3l2.35 4.40h-4.70zM104.9 371.6l2.35 4.40h-4.70zM106.1 371.8l2.35 4.40h-4.70zM107.3 372.0l2.35 4.40h-4.70zM108.5 372.2l2.35 4.40h-4.70zM109.7 372.4l2.35 4.40h-4.70zM110.8 372.7l2.35 4.40h-4.70zM112.0 372.9l2.35 4.40h-4.70zM113.2 372.9l2.35 4.40h-4.70zM114.4 372.7l2.35 4.40h-4.70zM115.5 372.4l2.35 4.40h-4.70zM116.7 372.2l2.35 4.40h-4.70zM117.9 372.0l2.35 4.40h-4.70zM119.1 371.8l2.35 4.40h-4.70zM120.3 371.6l2.35 4.40h-4.70zM121.4 371.3l2.35 4.40h-4.70zM122.6 371.1l2.35 4.40h-4.70zM123.8 370.9l2.35 4.40h-4.70zM125.0 370.7l2.35 4.40h-4.70zM126.1 370.5l2.35 4.40h-4.70zM127.3 370.2l2.35 4.40h-4.70zM128.5 370.0l2.35 4.40h-4.70zM129.7 369.8l2.35 4.40h-4.70zM130.9 369.6l2.35 4.40h-4.70zM132.0 369.4l2.35 4.40h-4.70zM133.2 369.1l2.35 4.40h-4.70zM134.4 368.9l2.35 4.40h-4.70zM135.6 368.7l2.35 4.40h-4.70zM136.7 368.5l2.35 4.40h-4.70zM137.9 368.3l2.35 4.40h-4.70zM139.1 368.0l2.35 4.40h-4.70zM140.3 367.8l2.35 4.40h-4.70zM141.5 367.6l2.35 4.40h-4.70zM142.6 367.4l2.35 4.40h-4.70zM143.8 367.2l2.35 4.40h-4.70zM145.0 366.9l2.35 4.40h-4.70zM146.2 366.7l2.35 4.40h-4.70zM147.3 366.5l2.35 4.40h-4.70zM77.8 374.8l2.35 4.40h-4.70zM80.6 375.1l2.35 4.40h-4.70zM83.4 375.5l2.35 4.40h-4.70zM86.2 375.8l2.35 4.40h-4.70zM89.0 376.1l2.35 4.40h-4.70zM91.8 376.4l2.35 4.40h-4.70zM94.5 376.8l2.35 4.40h-4.70zM97.3 377.1l2.35 4.40h-4.70zM100.1 377.4l2.35 4.40h-4.70zM102.9 377.8l2.35 4.40h-4.70zM105.6 378.1l2.35 4.40h-4.70zM108.4 378.4l2.35 4.40h-4.70zM111.2 378.7l2.35 4.40h-4.70zM114.0 378.7l2.35 4.40h-4.70zM116.8 378.4l2.35 4.40h-4.70zM119.5 378.1l2.35 4.40h-4.70zM122.3 377.8l2.35 4.40h-4.70zM125.1 377.4l2.35 4.40h-4.70zM127.9 377.1l2.35 4.40h-4.70zM130.7 376.8l2.35 4.40h-4.70zM133.4 376.4l2.35 4.40h-4.70zM136.2 376.1l2.35 4.40h-4.70zM139.0 375.8l2.35 4.40h-4.70zM141.8 375.5l2.35 4.40h-4.70zM144.6 375.1l2.35 4.40h-4.70zM147.3 374.8l2.35 4.40h-4.70zM77.8 382.3l2.35 4.40h-4.70zM84.2 384.1l2.35 4.40h-4.70zM90.5 385.0l2.35 4.40h-4.70zM96.8 385.7l2.35 4.40h-4.70zM103.1 386.9l2.35 4.40h-4.70zM109.4 388.0l2.35 4.40h-4.70zM115.8 388.0l2.35 4.40h-4.70zM122.1 386.8l2.35 4.40h-4.70zM128.4 386.3l2.35 4.40h-4.70zM134.7 385.3l2.35 4.40h-4.70zM141.0 383.8l2.35 4.40h-4.70zM147.3 382.7l2.35 4.40h-4.70zM88.3 389.7l2.35 4.40h-4.70zM95.3 391.4l2.35 4.40h-4.70zM102.2 393.3l2.35 4.40h-4.70zM109.1 395.0l2.35 4.40h-4.70zM116.1 395.4l2.35 4.40h-4.70zM123.0 393.2l2.35 4.40h-4.70zM129.9 391.3l2.35 4.40h-4.70zM136.9 390.4l2.35 4.40h-4.70z" fill="none" stroke="#9f3044" stroke-width="1.05" stroke-linejoin="miter"/><path d="M227.4 304.8l2.35 4.40h-4.70zM227.4 313.4l2.35 4.40h-4.70zM220.7 327.0l2.35 4.40h-4.70zM217.4 333.0l2.35 4.40h-4.70zM227.4 331.7l2.35 4.40h-4.70zM234.3 329.9l2.35 4.40h-4.70zM224.0 339.0l2.35 4.40h-4.70zM231.0 339.0l2.35 4.40h-4.70zM238.0 337.2l2.35 4.40h-4.70zM213.5 343.0l2.35 4.40h-4.70zM220.5 345.0l2.35 4.40h-4.70zM227.4 346.2l2.35 4.40h-4.70zM234.5 345.0l2.35 4.40h-4.70zM241.0 343.5l2.35 4.40h-4.70zM214.0 395.6l2.35 4.40h-4.70zM220.2 396.5l2.35 4.40h-4.70zM227.3 397.5l2.35 4.40h-4.70zM234.3 395.9l2.35 4.40h-4.70zM241.4 395.1l2.35 4.40h-4.70zM210.2 400.2l2.35 4.40h-4.70zM216.9 401.4l2.35 4.40h-4.70zM224.0 405.5l2.35 4.40h-4.70zM231.0 401.9l2.35 4.40h-4.70zM237.8 399.7l2.35 4.40h-4.70zM244.4 400.2l2.35 4.40h-4.70zM192.7 350.8l2.35 4.40h-4.70zM194.4 351.1l2.35 4.40h-4.70zM196.2 351.4l2.35 4.40h-4.70zM198.0 351.7l2.35 4.40h-4.70zM199.8 352.1l2.35 4.40h-4.70zM201.6 352.4l2.35 4.40h-4.70zM203.3 352.7l2.35 4.40h-4.70zM205.1 353.0l2.35 4.40h-4.70zM206.9 353.3l2.35 4.40h-4.70zM208.7 353.6l2.35 4.40h-4.70zM210.5 353.9l2.35 4.40h-4.70zM212.3 354.2l2.35 4.40h-4.70zM214.0 354.6l2.35 4.40h-4.70zM215.8 354.9l2.35 4.40h-4.70zM217.6 355.2l2.35 4.40h-4.70zM219.4 355.5l2.35 4.40h-4.70zM221.2 355.8l2.35 4.40h-4.70zM222.9 356.1l2.35 4.40h-4.70zM224.7 356.4l2.35 4.40h-4.70zM226.5 356.7l2.35 4.40h-4.70zM228.3 356.7l2.35 4.40h-4.70zM230.1 356.4l2.35 4.40h-4.70zM231.9 356.1l2.35 4.40h-4.70zM233.6 355.8l2.35 4.40h-4.70zM235.4 355.5l2.35 4.40h-4.70zM237.2 355.2l2.35 4.40h-4.70zM239.0 354.9l2.35 4.40h-4.70zM240.8 354.6l2.35 4.40h-4.70zM242.5 354.2l2.35 4.40h-4.70zM244.3 353.9l2.35 4.40h-4.70zM246.1 353.6l2.35 4.40h-4.70zM247.9 353.3l2.35 4.40h-4.70zM249.7 353.0l2.35 4.40h-4.70zM251.5 352.7l2.35 4.40h-4.70zM253.2 352.4l2.35 4.40h-4.70zM255.0 352.1l2.35 4.40h-4.70zM256.8 351.7l2.35 4.40h-4.70zM258.6 351.4l2.35 4.40h-4.70zM260.4 351.1l2.35 4.40h-4.70zM262.1 350.8l2.35 4.40h-4.70zM191.9 352.1l2.35 4.40h-4.70zM193.5 352.4l2.35 4.40h-4.70zM195.1 352.8l2.35 4.40h-4.70zM196.6 353.1l2.35 4.40h-4.70zM198.2 353.5l2.35 4.40h-4.70zM199.8 353.8l2.35 4.40h-4.70zM201.4 354.2l2.35 4.40h-4.70zM202.9 354.5l2.35 4.40h-4.70zM204.5 354.8l2.35 4.40h-4.70zM206.1 355.2l2.35 4.40h-4.70zM207.7 355.5l2.35 4.40h-4.70zM209.3 355.9l2.35 4.40h-4.70zM210.8 356.2l2.35 4.40h-4.70zM212.4 356.5l2.35 4.40h-4.70zM214.0 356.9l2.35 4.40h-4.70zM215.6 357.2l2.35 4.40h-4.70zM217.1 357.6l2.35 4.40h-4.70zM218.7 357.9l2.35 4.40h-4.70zM220.3 358.3l2.35 4.40h-4.70zM221.9 358.6l2.35 4.40h-4.70zM223.5 358.9l2.35 4.40h-4.70zM225.0 359.3l2.35 4.40h-4.70zM226.6 359.6l2.35 4.40h-4.70zM228.2 359.6l2.35 4.40h-4.70zM229.8 359.3l2.35 4.40h-4.70zM231.3 358.9l2.35 4.40h-4.70zM232.9 358.6l2.35 4.40h-4.70zM234.5 358.3l2.35 4.40h-4.70zM236.1 357.9l2.35 4.40h-4.70zM237.7 357.6l2.35 4.40h-4.70zM239.2 357.2l2.35 4.40h-4.70zM240.8 356.9l2.35 4.40h-4.70zM242.4 356.5l2.35 4.40h-4.70zM244.0 356.2l2.35 4.40h-4.70zM245.5 355.9l2.35 4.40h-4.70zM247.1 355.5l2.35 4.40h-4.70zM248.7 355.2l2.35 4.40h-4.70zM250.3 354.8l2.35 4.40h-4.70zM251.9 354.5l2.35 4.40h-4.70zM253.4 354.2l2.35 4.40h-4.70zM255.0 353.8l2.35 4.40h-4.70zM256.6 353.5l2.35 4.40h-4.70zM258.2 353.1l2.35 4.40h-4.70zM259.7 352.8l2.35 4.40h-4.70zM261.3 352.4l2.35 4.40h-4.70zM262.9 352.1l2.35 4.40h-4.70zM192.7 353.3l2.35 4.40h-4.70zM194.4 353.8l2.35 4.40h-4.70zM196.2 354.3l2.35 4.40h-4.70zM198.0 354.8l2.35 4.40h-4.70zM199.8 355.2l2.35 4.40h-4.70zM201.6 355.7l2.35 4.40h-4.70zM203.3 356.2l2.35 4.40h-4.70zM205.1 356.7l2.35 4.40h-4.70zM206.9 357.2l2.35 4.40h-4.70zM208.7 357.7l2.35 4.40h-4.70zM210.5 358.2l2.35 4.40h-4.70zM212.3 358.7l2.35 4.40h-4.70zM214.0 359.1l2.35 4.40h-4.70zM215.8 359.6l2.35 4.40h-4.70zM217.6 360.1l2.35 4.40h-4.70zM219.4 360.6l2.35 4.40h-4.70zM221.2 361.1l2.35 4.40h-4.70zM222.9 361.6l2.35 4.40h-4.70zM224.7 362.1l2.35 4.40h-4.70zM226.5 362.6l2.35 4.40h-4.70zM228.3 362.6l2.35 4.40h-4.70zM230.1 362.1l2.35 4.40h-4.70zM231.9 361.6l2.35 4.40h-4.70zM233.6 361.1l2.35 4.40h-4.70zM235.4 360.6l2.35 4.40h-4.70zM237.2 360.1l2.35 4.40h-4.70zM239.0 359.6l2.35 4.40h-4.70zM240.8 359.1l2.35 4.40h-4.70zM242.5 358.7l2.35 4.40h-4.70zM244.3 358.2l2.35 4.40h-4.70zM246.1 357.7l2.35 4.40h-4.70zM247.9 357.2l2.35 4.40h-4.70zM249.7 356.7l2.35 4.40h-4.70zM251.5 356.2l2.35 4.40h-4.70zM253.2 355.7l2.35 4.40h-4.70zM255.0 355.2l2.35 4.40h-4.70zM256.8 354.8l2.35 4.40h-4.70zM258.6 354.3l2.35 4.40h-4.70zM260.4 353.8l2.35 4.40h-4.70zM262.1 353.3l2.35 4.40h-4.70zM192.7 362.7l2.35 4.40h-4.70zM195.0 363.2l2.35 4.40h-4.70zM197.4 363.7l2.35 4.40h-4.70zM199.8 364.2l2.35 4.40h-4.70zM202.2 364.7l2.35 4.40h-4.70zM204.6 365.2l2.35 4.40h-4.70zM207.0 365.7l2.35 4.40h-4.70zM209.4 366.2l2.35 4.40h-4.70zM211.8 366.7l2.35 4.40h-4.70zM214.2 367.2l2.35 4.40h-4.70zM216.6 367.7l2.35 4.40h-4.70zM219.0 368.2l2.35 4.40h-4.70zM221.4 368.7l2.35 4.40h-4.70zM223.8 369.2l2.35 4.40h-4.70zM226.2 369.7l2.35 4.40h-4.70zM228.6 369.7l2.35 4.40h-4.70zM231.0 369.2l2.35 4.40h-4.70zM233.4 368.7l2.35 4.40h-4.70zM235.8 368.2l2.35 4.40h-4.70zM238.2 367.7l2.35 4.40h-4.70zM240.6 367.2l2.35 4.40h-4.70zM243.0 366.7l2.35 4.40h-4.70zM245.4 366.2l2.35 4.40h-4.70zM247.8 365.7l2.35 4.40h-4.70zM250.2 365.2l2.35 4.40h-4.70zM252.6 364.7l2.35 4.40h-4.70zM255.0 364.2l2.35 4.40h-4.70zM257.4 363.7l2.35 4.40h-4.70zM259.8 363.2l2.35 4.40h-4.70zM262.1 362.7l2.35 4.40h-4.70zM192.7 370.7l2.35 4.40h-4.70zM194.8 371.1l2.35 4.40h-4.70zM196.9 371.4l2.35 4.40h-4.70zM199.0 371.8l2.35 4.40h-4.70zM201.1 372.1l2.35 4.40h-4.70zM203.2 372.5l2.35 4.40h-4.70zM205.3 372.8l2.35 4.40h-4.70zM207.4 373.2l2.35 4.40h-4.70zM209.5 373.5l2.35 4.40h-4.70zM211.6 373.9l2.35 4.40h-4.70zM213.7 374.2l2.35 4.40h-4.70zM215.8 374.6l2.35 4.40h-4.70zM217.9 374.9l2.35 4.40h-4.70zM220.0 375.3l2.35 4.40h-4.70zM222.1 375.6l2.35 4.40h-4.70zM224.2 376.0l2.35 4.40h-4.70zM226.3 376.3l2.35 4.40h-4.70zM228.5 376.3l2.35 4.40h-4.70zM230.6 376.0l2.35 4.40h-4.70zM232.7 375.6l2.35 4.40h-4.70zM234.8 375.3l2.35 4.40h-4.70zM236.9 374.9l2.35 4.40h-4.70zM239.0 374.6l2.35 4.40h-4.70zM241.1 374.2l2.35 4.40h-4.70zM243.2 373.9l2.35 4.40h-4.70zM245.3 373.5l2.35 4.40h-4.70zM247.4 373.2l2.35 4.40h-4.70zM249.5 372.8l2.35 4.40h-4.70zM251.6 372.5l2.35 4.40h-4.70zM253.7 372.1l2.35 4.40h-4.70zM255.8 371.8l2.35 4.40h-4.70zM257.9 371.4l2.35 4.40h-4.70zM260.0 371.1l2.35 4.40h-4.70zM262.1 370.7l2.35 4.40h-4.70zM192.7 377.3l2.35 4.40h-4.70zM195.0 377.7l2.35 4.40h-4.70zM197.4 378.2l2.35 4.40h-4.70zM199.8 378.6l2.35 4.40h-4.70zM202.2 379.0l2.35 4.40h-4.70zM204.6 379.5l2.35 4.40h-4.70zM207.0 379.9l2.35 4.40h-4.70zM209.4 380.3l2.35 4.40h-4.70zM211.8 380.8l2.35 4.40h-4.70zM214.2 381.2l2.35 4.40h-4.70zM216.6 381.6l2.35 4.40h-4.70zM219.0 382.1l2.35 4.40h-4.70zM221.4 382.5l2.35 4.40h-4.70zM223.8 382.9l2.35 4.40h-4.70zM226.2 383.4l2.35 4.40h-4.70zM228.6 383.4l2.35 4.40h-4.70zM231.0 382.9l2.35 4.40h-4.70zM233.4 382.5l2.35 4.40h-4.70zM235.8 382.1l2.35 4.40h-4.70zM238.2 381.6l2.35 4.40h-4.70zM240.6 381.2l2.35 4.40h-4.70zM243.0 380.8l2.35 4.40h-4.70zM245.4 380.3l2.35 4.40h-4.70zM247.8 379.9l2.35 4.40h-4.70zM250.2 379.5l2.35 4.40h-4.70zM252.6 379.0l2.35 4.40h-4.70zM255.0 378.6l2.35 4.40h-4.70zM257.4 378.2l2.35 4.40h-4.70zM259.8 377.7l2.35 4.40h-4.70zM262.1 377.3l2.35 4.40h-4.70zM192.7 385.6l2.35 4.40h-4.70zM198.0 386.2l2.35 4.40h-4.70zM203.3 387.4l2.35 4.40h-4.70zM208.7 387.9l2.35 4.40h-4.70zM214.0 389.3l2.35 4.40h-4.70zM219.4 390.5l2.35 4.40h-4.70zM224.7 391.3l2.35 4.40h-4.70zM230.1 391.2l2.35 4.40h-4.70zM235.4 389.9l2.35 4.40h-4.70zM240.8 389.1l2.35 4.40h-4.70zM246.1 388.1l2.35 4.40h-4.70zM251.5 387.6l2.35 4.40h-4.70zM256.8 386.5l2.35 4.40h-4.70zM262.1 385.8l2.35 4.40h-4.70z" fill="none" stroke="#9f3044" stroke-width="1.05" stroke-linejoin="miter"/>
<path d="M391.6 274.0l1.60 3.40h-3.20zM396.2 274.0l1.60 3.40h-3.20zM370.4 279.2l1.60 3.40h-3.20zM373.5 279.2l1.60 3.40h-3.20zM376.7 279.2l1.60 3.40h-3.20zM379.8 279.2l1.60 3.40h-3.20zM382.9 279.2l1.60 3.40h-3.20zM386.1 279.2l1.60 3.40h-3.20zM389.2 279.2l1.60 3.40h-3.20zM392.3 279.2l1.60 3.40h-3.20zM395.5 279.2l1.60 3.40h-3.20zM398.6 279.2l1.60 3.40h-3.20zM401.7 279.2l1.60 3.40h-3.20zM404.9 279.2l1.60 3.40h-3.20zM408.0 279.2l1.60 3.40h-3.20zM411.1 279.2l1.60 3.40h-3.20zM414.3 279.2l1.60 3.40h-3.20zM417.4 279.2l1.60 3.40h-3.20zM373.2 284.3l1.60 3.40h-3.20zM377.8 284.3l1.60 3.40h-3.20zM382.4 284.3l1.60 3.40h-3.20zM387.0 284.3l1.60 3.40h-3.20zM391.6 284.3l1.60 3.40h-3.20zM396.2 284.3l1.60 3.40h-3.20zM400.8 284.3l1.60 3.40h-3.20zM405.4 284.3l1.60 3.40h-3.20zM410.0 284.3l1.60 3.40h-3.20zM414.6 284.3l1.60 3.40h-3.20zM370.4 289.4l1.60 3.40h-3.20zM372.3 289.4l1.60 3.40h-3.20zM374.2 289.4l1.60 3.40h-3.20zM376.0 289.4l1.60 3.40h-3.20zM377.9 289.4l1.60 3.40h-3.20zM379.8 289.4l1.60 3.40h-3.20zM381.7 289.4l1.60 3.40h-3.20zM383.6 289.4l1.60 3.40h-3.20zM385.4 289.4l1.60 3.40h-3.20zM387.3 289.4l1.60 3.40h-3.20zM389.2 289.4l1.60 3.40h-3.20zM391.1 289.4l1.60 3.40h-3.20zM393.0 289.4l1.60 3.40h-3.20zM394.8 289.4l1.60 3.40h-3.20zM396.7 289.4l1.60 3.40h-3.20zM398.6 289.4l1.60 3.40h-3.20zM400.5 289.4l1.60 3.40h-3.20zM402.4 289.4l1.60 3.40h-3.20zM404.2 289.4l1.60 3.40h-3.20zM406.1 289.4l1.60 3.40h-3.20zM408.0 289.4l1.60 3.40h-3.20zM409.9 289.4l1.60 3.40h-3.20zM411.8 289.4l1.60 3.40h-3.20zM413.6 289.4l1.60 3.40h-3.20zM415.5 289.4l1.60 3.40h-3.20zM417.4 289.4l1.60 3.40h-3.20zM370.4 294.5l1.60 3.40h-3.20zM373.2 294.5l1.60 3.40h-3.20zM375.9 294.5l1.60 3.40h-3.20zM378.7 294.5l1.60 3.40h-3.20zM381.5 294.5l1.60 3.40h-3.20zM384.2 294.5l1.60 3.40h-3.20zM387.0 294.5l1.60 3.40h-3.20zM389.8 294.5l1.60 3.40h-3.20zM392.5 294.5l1.60 3.40h-3.20zM395.3 294.5l1.60 3.40h-3.20zM398.0 294.5l1.60 3.40h-3.20zM400.8 294.5l1.60 3.40h-3.20zM403.6 294.5l1.60 3.40h-3.20zM406.3 294.5l1.60 3.40h-3.20zM409.1 294.5l1.60 3.40h-3.20zM411.9 294.5l1.60 3.40h-3.20zM414.6 294.5l1.60 3.40h-3.20zM417.4 294.5l1.60 3.40h-3.20zM370.4 299.7l1.60 3.40h-3.20zM372.0 299.7l1.60 3.40h-3.20zM373.6 299.7l1.60 3.40h-3.20zM375.3 299.7l1.60 3.40h-3.20zM376.9 299.7l1.60 3.40h-3.20zM378.5 299.7l1.60 3.40h-3.20zM380.1 299.7l1.60 3.40h-3.20zM381.7 299.7l1.60 3.40h-3.20zM383.4 299.7l1.60 3.40h-3.20zM385.0 299.7l1.60 3.40h-3.20zM386.6 299.7l1.60 3.40h-3.20zM388.2 299.7l1.60 3.40h-3.20zM389.8 299.7l1.60 3.40h-3.20zM391.5 299.7l1.60 3.40h-3.20zM393.1 299.7l1.60 3.40h-3.20zM394.7 299.7l1.60 3.40h-3.20zM396.3 299.7l1.60 3.40h-3.20zM398.0 299.7l1.60 3.40h-3.20zM399.6 299.7l1.60 3.40h-3.20zM401.2 299.7l1.60 3.40h-3.20zM402.8 299.7l1.60 3.40h-3.20zM404.4 299.7l1.60 3.40h-3.20zM406.1 299.7l1.60 3.40h-3.20zM407.7 299.7l1.60 3.40h-3.20zM409.3 299.7l1.60 3.40h-3.20zM410.9 299.7l1.60 3.40h-3.20zM412.5 299.7l1.60 3.40h-3.20zM414.2 299.7l1.60 3.40h-3.20zM415.8 299.7l1.60 3.40h-3.20zM417.4 299.7l1.60 3.40h-3.20zM370.4 304.8l1.60 3.40h-3.20zM371.6 304.8l1.60 3.40h-3.20zM372.8 304.8l1.60 3.40h-3.20zM374.0 304.8l1.60 3.40h-3.20zM375.2 304.8l1.60 3.40h-3.20zM376.4 304.8l1.60 3.40h-3.20zM377.6 304.8l1.60 3.40h-3.20zM378.8 304.8l1.60 3.40h-3.20zM380.0 304.8l1.60 3.40h-3.20zM381.2 304.8l1.60 3.40h-3.20zM382.5 304.8l1.60 3.40h-3.20zM383.7 304.8l1.60 3.40h-3.20zM384.9 304.8l1.60 3.40h-3.20zM386.1 304.8l1.60 3.40h-3.20zM387.3 304.8l1.60 3.40h-3.20zM388.5 304.8l1.60 3.40h-3.20zM389.7 304.8l1.60 3.40h-3.20zM390.9 304.8l1.60 3.40h-3.20zM392.1 304.8l1.60 3.40h-3.20zM393.3 304.8l1.60 3.40h-3.20zM394.5 304.8l1.60 3.40h-3.20zM395.7 304.8l1.60 3.40h-3.20zM396.9 304.8l1.60 3.40h-3.20zM398.1 304.8l1.60 3.40h-3.20zM399.3 304.8l1.60 3.40h-3.20zM400.5 304.8l1.60 3.40h-3.20zM401.7 304.8l1.60 3.40h-3.20zM402.9 304.8l1.60 3.40h-3.20zM404.1 304.8l1.60 3.40h-3.20zM405.3 304.8l1.60 3.40h-3.20zM406.6 304.8l1.60 3.40h-3.20zM407.8 304.8l1.60 3.40h-3.20zM409.0 304.8l1.60 3.40h-3.20zM410.2 304.8l1.60 3.40h-3.20zM411.4 304.8l1.60 3.40h-3.20zM412.6 304.8l1.60 3.40h-3.20zM413.8 304.8l1.60 3.40h-3.20zM415.0 304.8l1.60 3.40h-3.20zM416.2 304.8l1.60 3.40h-3.20zM417.4 304.8l1.60 3.40h-3.20zM370.4 309.9l1.60 3.40h-3.20zM371.4 309.9l1.60 3.40h-3.20zM372.3 309.9l1.60 3.40h-3.20zM373.3 309.9l1.60 3.40h-3.20zM374.2 309.9l1.60 3.40h-3.20zM375.2 309.9l1.60 3.40h-3.20zM376.2 309.9l1.60 3.40h-3.20zM377.1 309.9l1.60 3.40h-3.20zM378.1 309.9l1.60 3.40h-3.20zM379.0 309.9l1.60 3.40h-3.20zM380.0 309.9l1.60 3.40h-3.20zM381.0 309.9l1.60 3.40h-3.20zM381.9 309.9l1.60 3.40h-3.20zM382.9 309.9l1.60 3.40h-3.20zM383.8 309.9l1.60 3.40h-3.20zM384.8 309.9l1.60 3.40h-3.20zM385.7 309.9l1.60 3.40h-3.20zM386.7 309.9l1.60 3.40h-3.20zM387.7 309.9l1.60 3.40h-3.20zM388.6 309.9l1.60 3.40h-3.20zM389.6 309.9l1.60 3.40h-3.20zM390.5 309.9l1.60 3.40h-3.20zM391.5 309.9l1.60 3.40h-3.20zM392.5 309.9l1.60 3.40h-3.20zM393.4 309.9l1.60 3.40h-3.20zM394.4 309.9l1.60 3.40h-3.20zM395.3 309.9l1.60 3.40h-3.20zM396.3 309.9l1.60 3.40h-3.20zM397.3 309.9l1.60 3.40h-3.20zM398.2 309.9l1.60 3.40h-3.20zM399.2 309.9l1.60 3.40h-3.20zM400.1 309.9l1.60 3.40h-3.20zM401.1 309.9l1.60 3.40h-3.20zM402.1 309.9l1.60 3.40h-3.20zM403.0 309.9l1.60 3.40h-3.20zM404.0 309.9l1.60 3.40h-3.20zM404.9 309.9l1.60 3.40h-3.20zM405.9 309.9l1.60 3.40h-3.20zM406.8 309.9l1.60 3.40h-3.20zM407.8 309.9l1.60 3.40h-3.20zM408.8 309.9l1.60 3.40h-3.20zM409.7 309.9l1.60 3.40h-3.20zM410.7 309.9l1.60 3.40h-3.20zM411.6 309.9l1.60 3.40h-3.20zM412.6 309.9l1.60 3.40h-3.20zM413.6 309.9l1.60 3.40h-3.20zM414.5 309.9l1.60 3.40h-3.20zM415.5 309.9l1.60 3.40h-3.20zM416.4 309.9l1.60 3.40h-3.20zM417.4 309.9l1.60 3.40h-3.20zM370.4 315.1l1.60 3.40h-3.20zM371.4 315.1l1.60 3.40h-3.20zM372.3 315.1l1.60 3.40h-3.20zM373.3 315.1l1.60 3.40h-3.20zM374.2 315.1l1.60 3.40h-3.20zM375.2 315.1l1.60 3.40h-3.20zM376.2 315.1l1.60 3.40h-3.20zM377.1 315.1l1.60 3.40h-3.20zM378.1 315.1l1.60 3.40h-3.20zM379.0 315.1l1.60 3.40h-3.20zM380.0 315.1l1.60 3.40h-3.20zM381.0 315.1l1.60 3.40h-3.20zM381.9 315.1l1.60 3.40h-3.20zM382.9 315.1l1.60 3.40h-3.20zM383.8 315.1l1.60 3.40h-3.20zM384.8 315.1l1.60 3.40h-3.20zM385.7 315.1l1.60 3.40h-3.20zM386.7 315.1l1.60 3.40h-3.20zM387.7 315.1l1.60 3.40h-3.20zM388.6 315.1l1.60 3.40h-3.20zM389.6 315.1l1.60 3.40h-3.20zM390.5 315.1l1.60 3.40h-3.20zM391.5 315.1l1.60 3.40h-3.20zM392.5 315.1l1.60 3.40h-3.20zM393.4 315.1l1.60 3.40h-3.20zM394.4 315.1l1.60 3.40h-3.20zM395.3 315.1l1.60 3.40h-3.20zM396.3 315.1l1.60 3.40h-3.20zM397.3 315.1l1.60 3.40h-3.20zM398.2 315.1l1.60 3.40h-3.20zM399.2 315.1l1.60 3.40h-3.20zM400.1 315.1l1.60 3.40h-3.20zM401.1 315.1l1.60 3.40h-3.20zM402.1 315.1l1.60 3.40h-3.20zM403.0 315.1l1.60 3.40h-3.20zM404.0 315.1l1.60 3.40h-3.20zM404.9 315.1l1.60 3.40h-3.20zM405.9 315.1l1.60 3.40h-3.20zM406.8 315.1l1.60 3.40h-3.20zM407.8 315.1l1.60 3.40h-3.20zM408.8 315.1l1.60 3.40h-3.20zM409.7 315.1l1.60 3.40h-3.20zM410.7 315.1l1.60 3.40h-3.20zM411.6 315.1l1.60 3.40h-3.20zM412.6 315.1l1.60 3.40h-3.20zM413.6 315.1l1.60 3.40h-3.20zM414.5 315.1l1.60 3.40h-3.20zM415.5 315.1l1.60 3.40h-3.20zM416.4 315.1l1.60 3.40h-3.20zM417.4 315.1l1.60 3.40h-3.20zM370.4 320.2l1.60 3.40h-3.20zM371.6 320.2l1.60 3.40h-3.20zM372.8 320.2l1.60 3.40h-3.20zM374.0 320.2l1.60 3.40h-3.20zM375.2 320.2l1.60 3.40h-3.20zM376.4 320.2l1.60 3.40h-3.20zM377.6 320.2l1.60 3.40h-3.20zM378.8 320.2l1.60 3.40h-3.20zM380.0 320.2l1.60 3.40h-3.20zM381.2 320.2l1.60 3.40h-3.20zM382.5 320.2l1.60 3.40h-3.20zM383.7 320.2l1.60 3.40h-3.20zM384.9 320.2l1.60 3.40h-3.20zM386.1 320.2l1.60 3.40h-3.20zM387.3 320.2l1.60 3.40h-3.20zM388.5 320.2l1.60 3.40h-3.20zM389.7 320.2l1.60 3.40h-3.20zM390.9 320.2l1.60 3.40h-3.20zM392.1 320.2l1.60 3.40h-3.20zM393.3 320.2l1.60 3.40h-3.20zM394.5 320.2l1.60 3.40h-3.20zM395.7 320.2l1.60 3.40h-3.20zM396.9 320.2l1.60 3.40h-3.20zM398.1 320.2l1.60 3.40h-3.20zM399.3 320.2l1.60 3.40h-3.20zM400.5 320.2l1.60 3.40h-3.20zM401.7 320.2l1.60 3.40h-3.20zM402.9 320.2l1.60 3.40h-3.20zM404.1 320.2l1.60 3.40h-3.20zM405.3 320.2l1.60 3.40h-3.20zM406.6 320.2l1.60 3.40h-3.20zM407.8 320.2l1.60 3.40h-3.20zM409.0 320.2l1.60 3.40h-3.20zM410.2 320.2l1.60 3.40h-3.20zM411.4 320.2l1.60 3.40h-3.20zM412.6 320.2l1.60 3.40h-3.20zM413.8 320.2l1.60 3.40h-3.20zM415.0 320.2l1.60 3.40h-3.20zM416.2 320.2l1.60 3.40h-3.20zM417.4 320.2l1.60 3.40h-3.20zM370.4 325.3l1.60 3.40h-3.20zM372.6 325.3l1.60 3.40h-3.20zM374.9 325.3l1.60 3.40h-3.20zM377.1 325.3l1.60 3.40h-3.20zM379.4 325.3l1.60 3.40h-3.20zM381.6 325.3l1.60 3.40h-3.20zM383.8 325.3l1.60 3.40h-3.20zM386.1 325.3l1.60 3.40h-3.20zM388.3 325.3l1.60 3.40h-3.20zM390.5 325.3l1.60 3.40h-3.20zM392.8 325.3l1.60 3.40h-3.20zM395.0 325.3l1.60 3.40h-3.20zM397.3 325.3l1.60 3.40h-3.20zM399.5 325.3l1.60 3.40h-3.20zM401.7 325.3l1.60 3.40h-3.20zM404.0 325.3l1.60 3.40h-3.20zM406.2 325.3l1.60 3.40h-3.20zM408.4 325.3l1.60 3.40h-3.20zM410.7 325.3l1.60 3.40h-3.20zM412.9 325.3l1.60 3.40h-3.20zM415.2 325.3l1.60 3.40h-3.20zM417.4 325.3l1.60 3.40h-3.20zM370.4 330.5l1.60 3.40h-3.20zM372.3 330.5l1.60 3.40h-3.20zM374.2 330.5l1.60 3.40h-3.20zM376.0 330.5l1.60 3.40h-3.20zM377.9 330.5l1.60 3.40h-3.20zM379.8 330.5l1.60 3.40h-3.20zM381.7 330.5l1.60 3.40h-3.20zM383.6 330.5l1.60 3.40h-3.20zM385.4 330.5l1.60 3.40h-3.20zM387.3 330.5l1.60 3.40h-3.20zM389.2 330.5l1.60 3.40h-3.20zM391.1 330.5l1.60 3.40h-3.20zM393.0 330.5l1.60 3.40h-3.20zM394.8 330.5l1.60 3.40h-3.20zM396.7 330.5l1.60 3.40h-3.20zM398.6 330.5l1.60 3.40h-3.20zM400.5 330.5l1.60 3.40h-3.20zM402.4 330.5l1.60 3.40h-3.20zM404.2 330.5l1.60 3.40h-3.20zM406.1 330.5l1.60 3.40h-3.20zM408.0 330.5l1.60 3.40h-3.20zM409.9 330.5l1.60 3.40h-3.20zM411.8 330.5l1.60 3.40h-3.20zM413.6 330.5l1.60 3.40h-3.20zM415.5 330.5l1.60 3.40h-3.20zM417.4 330.5l1.60 3.40h-3.20zM370.4 335.6l1.60 3.40h-3.20zM374.0 335.6l1.60 3.40h-3.20zM377.6 335.6l1.60 3.40h-3.20zM381.2 335.6l1.60 3.40h-3.20zM384.9 335.6l1.60 3.40h-3.20zM388.5 335.6l1.60 3.40h-3.20zM392.1 335.6l1.60 3.40h-3.20zM395.7 335.6l1.60 3.40h-3.20zM399.3 335.6l1.60 3.40h-3.20zM402.9 335.6l1.60 3.40h-3.20zM406.6 335.6l1.60 3.40h-3.20zM410.2 335.6l1.60 3.40h-3.20zM413.8 335.6l1.60 3.40h-3.20zM417.4 335.6l1.60 3.40h-3.20zM370.4 340.7l1.60 3.40h-3.20zM373.5 340.7l1.60 3.40h-3.20zM376.7 340.7l1.60 3.40h-3.20zM379.8 340.7l1.60 3.40h-3.20zM382.9 340.7l1.60 3.40h-3.20zM386.1 340.7l1.60 3.40h-3.20zM389.2 340.7l1.60 3.40h-3.20zM392.3 340.7l1.60 3.40h-3.20zM395.5 340.7l1.60 3.40h-3.20zM398.6 340.7l1.60 3.40h-3.20zM401.7 340.7l1.60 3.40h-3.20zM404.9 340.7l1.60 3.40h-3.20zM408.0 340.7l1.60 3.40h-3.20zM411.1 340.7l1.60 3.40h-3.20zM414.3 340.7l1.60 3.40h-3.20zM417.4 340.7l1.60 3.40h-3.20zM387.0 345.8l1.60 3.40h-3.20zM391.6 345.8l1.60 3.40h-3.20zM396.2 345.8l1.60 3.40h-3.20zM400.8 345.8l1.60 3.40h-3.20zM387.0 351.0l1.60 3.40h-3.20zM391.6 351.0l1.60 3.40h-3.20zM396.2 351.0l1.60 3.40h-3.20zM400.8 351.0l1.60 3.40h-3.20zM387.0 356.1l1.60 3.40h-3.20zM391.6 356.1l1.60 3.40h-3.20zM396.2 356.1l1.60 3.40h-3.20zM400.8 356.1l1.60 3.40h-3.20zM375.5 361.2l1.60 3.40h-3.20zM380.1 361.2l1.60 3.40h-3.20zM384.7 361.2l1.60 3.40h-3.20zM389.3 361.2l1.60 3.40h-3.20zM393.9 361.2l1.60 3.40h-3.20zM398.5 361.2l1.60 3.40h-3.20zM403.1 361.2l1.60 3.40h-3.20zM407.7 361.2l1.60 3.40h-3.20zM412.3 361.2l1.60 3.40h-3.20zM393.9 366.4l1.60 3.40h-3.20zM393.9 371.5l1.60 3.40h-3.20zM393.9 381.8l1.60 3.40h-3.20z" fill="none" stroke="#9f3044" stroke-width="1.00" stroke-linejoin="miter"/><path d="M463.9 279.2l1.60 3.40h-3.20zM468.5 279.2l1.60 3.40h-3.20zM473.1 279.2l1.60 3.40h-3.20zM477.7 279.2l1.60 3.40h-3.20zM468.5 284.3l1.60 3.40h-3.20zM473.1 284.3l1.60 3.40h-3.20zM454.7 289.4l1.60 3.40h-3.20zM459.3 289.4l1.60 3.40h-3.20zM463.9 289.4l1.60 3.40h-3.20zM468.5 289.4l1.60 3.40h-3.20zM473.1 289.4l1.60 3.40h-3.20zM477.7 289.4l1.60 3.40h-3.20zM482.3 289.4l1.60 3.40h-3.20zM486.9 289.4l1.60 3.40h-3.20zM447.3 294.5l1.60 3.40h-3.20zM450.2 294.5l1.60 3.40h-3.20zM453.2 294.5l1.60 3.40h-3.20zM456.1 294.5l1.60 3.40h-3.20zM459.1 294.5l1.60 3.40h-3.20zM462.0 294.5l1.60 3.40h-3.20zM464.9 294.5l1.60 3.40h-3.20zM467.9 294.5l1.60 3.40h-3.20zM470.8 294.5l1.60 3.40h-3.20zM473.7 294.5l1.60 3.40h-3.20zM476.7 294.5l1.60 3.40h-3.20zM479.6 294.5l1.60 3.40h-3.20zM482.6 294.5l1.60 3.40h-3.20zM485.5 294.5l1.60 3.40h-3.20zM488.4 294.5l1.60 3.40h-3.20zM491.4 294.5l1.60 3.40h-3.20zM494.3 294.5l1.60 3.40h-3.20zM447.3 299.7l1.60 3.40h-3.20zM448.9 299.7l1.60 3.40h-3.20zM450.5 299.7l1.60 3.40h-3.20zM452.2 299.7l1.60 3.40h-3.20zM453.8 299.7l1.60 3.40h-3.20zM455.4 299.7l1.60 3.40h-3.20zM457.0 299.7l1.60 3.40h-3.20zM458.6 299.7l1.60 3.40h-3.20zM460.3 299.7l1.60 3.40h-3.20zM461.9 299.7l1.60 3.40h-3.20zM463.5 299.7l1.60 3.40h-3.20zM465.1 299.7l1.60 3.40h-3.20zM466.7 299.7l1.60 3.40h-3.20zM468.4 299.7l1.60 3.40h-3.20zM470.0 299.7l1.60 3.40h-3.20zM471.6 299.7l1.60 3.40h-3.20zM473.2 299.7l1.60 3.40h-3.20zM474.9 299.7l1.60 3.40h-3.20zM476.5 299.7l1.60 3.40h-3.20zM478.1 299.7l1.60 3.40h-3.20zM479.7 299.7l1.60 3.40h-3.20zM481.3 299.7l1.60 3.40h-3.20zM483.0 299.7l1.60 3.40h-3.20zM484.6 299.7l1.60 3.40h-3.20zM486.2 299.7l1.60 3.40h-3.20zM487.8 299.7l1.60 3.40h-3.20zM489.4 299.7l1.60 3.40h-3.20zM491.1 299.7l1.60 3.40h-3.20zM492.7 299.7l1.60 3.40h-3.20zM494.3 299.7l1.60 3.40h-3.20zM447.3 304.8l1.60 3.40h-3.20zM449.5 304.8l1.60 3.40h-3.20zM451.8 304.8l1.60 3.40h-3.20zM454.0 304.8l1.60 3.40h-3.20zM456.3 304.8l1.60 3.40h-3.20zM458.5 304.8l1.60 3.40h-3.20zM460.7 304.8l1.60 3.40h-3.20zM463.0 304.8l1.60 3.40h-3.20zM465.2 304.8l1.60 3.40h-3.20zM467.4 304.8l1.60 3.40h-3.20zM469.7 304.8l1.60 3.40h-3.20zM471.9 304.8l1.60 3.40h-3.20zM474.2 304.8l1.60 3.40h-3.20zM476.4 304.8l1.60 3.40h-3.20zM478.6 304.8l1.60 3.40h-3.20zM480.9 304.8l1.60 3.40h-3.20zM483.1 304.8l1.60 3.40h-3.20zM485.3 304.8l1.60 3.40h-3.20zM487.6 304.8l1.60 3.40h-3.20zM489.8 304.8l1.60 3.40h-3.20zM492.1 304.8l1.60 3.40h-3.20zM494.3 304.8l1.60 3.40h-3.20zM447.3 309.9l1.60 3.40h-3.20zM449.5 309.9l1.60 3.40h-3.20zM451.8 309.9l1.60 3.40h-3.20zM454.0 309.9l1.60 3.40h-3.20zM456.3 309.9l1.60 3.40h-3.20zM458.5 309.9l1.60 3.40h-3.20zM460.7 309.9l1.60 3.40h-3.20zM463.0 309.9l1.60 3.40h-3.20zM465.2 309.9l1.60 3.40h-3.20zM467.4 309.9l1.60 3.40h-3.20zM469.7 309.9l1.60 3.40h-3.20zM471.9 309.9l1.60 3.40h-3.20zM474.2 309.9l1.60 3.40h-3.20zM476.4 309.9l1.60 3.40h-3.20zM478.6 309.9l1.60 3.40h-3.20zM480.9 309.9l1.60 3.40h-3.20zM483.1 309.9l1.60 3.40h-3.20zM485.3 309.9l1.60 3.40h-3.20zM487.6 309.9l1.60 3.40h-3.20zM489.8 309.9l1.60 3.40h-3.20zM492.1 309.9l1.60 3.40h-3.20zM494.3 309.9l1.60 3.40h-3.20zM447.3 315.1l1.60 3.40h-3.20zM448.8 315.1l1.60 3.40h-3.20zM450.3 315.1l1.60 3.40h-3.20zM451.8 315.1l1.60 3.40h-3.20zM453.4 315.1l1.60 3.40h-3.20zM454.9 315.1l1.60 3.40h-3.20zM456.4 315.1l1.60 3.40h-3.20zM457.9 315.1l1.60 3.40h-3.20zM459.4 315.1l1.60 3.40h-3.20zM460.9 315.1l1.60 3.40h-3.20zM462.5 315.1l1.60 3.40h-3.20zM464.0 315.1l1.60 3.40h-3.20zM465.5 315.1l1.60 3.40h-3.20zM467.0 315.1l1.60 3.40h-3.20zM468.5 315.1l1.60 3.40h-3.20zM470.0 315.1l1.60 3.40h-3.20zM471.6 315.1l1.60 3.40h-3.20zM473.1 315.1l1.60 3.40h-3.20zM474.6 315.1l1.60 3.40h-3.20zM476.1 315.1l1.60 3.40h-3.20zM477.6 315.1l1.60 3.40h-3.20zM479.1 315.1l1.60 3.40h-3.20zM480.7 315.1l1.60 3.40h-3.20zM482.2 315.1l1.60 3.40h-3.20zM483.7 315.1l1.60 3.40h-3.20zM485.2 315.1l1.60 3.40h-3.20zM486.7 315.1l1.60 3.40h-3.20zM488.2 315.1l1.60 3.40h-3.20zM489.8 315.1l1.60 3.40h-3.20zM491.3 315.1l1.60 3.40h-3.20zM492.8 315.1l1.60 3.40h-3.20zM494.3 315.1l1.60 3.40h-3.20zM447.3 320.2l1.60 3.40h-3.20zM449.3 320.2l1.60 3.40h-3.20zM451.4 320.2l1.60 3.40h-3.20zM453.4 320.2l1.60 3.40h-3.20zM455.5 320.2l1.60 3.40h-3.20zM457.5 320.2l1.60 3.40h-3.20zM459.6 320.2l1.60 3.40h-3.20zM461.6 320.2l1.60 3.40h-3.20zM463.6 320.2l1.60 3.40h-3.20zM465.7 320.2l1.60 3.40h-3.20zM467.7 320.2l1.60 3.40h-3.20zM469.8 320.2l1.60 3.40h-3.20zM471.8 320.2l1.60 3.40h-3.20zM473.9 320.2l1.60 3.40h-3.20zM475.9 320.2l1.60 3.40h-3.20zM478.0 320.2l1.60 3.40h-3.20zM480.0 320.2l1.60 3.40h-3.20zM482.0 320.2l1.60 3.40h-3.20zM484.1 320.2l1.60 3.40h-3.20zM486.1 320.2l1.60 3.40h-3.20zM488.2 320.2l1.60 3.40h-3.20zM490.2 320.2l1.60 3.40h-3.20zM492.3 320.2l1.60 3.40h-3.20zM494.3 320.2l1.60 3.40h-3.20zM447.3 325.3l1.60 3.40h-3.20zM450.1 325.3l1.60 3.40h-3.20zM452.8 325.3l1.60 3.40h-3.20zM455.6 325.3l1.60 3.40h-3.20zM458.4 325.3l1.60 3.40h-3.20zM461.1 325.3l1.60 3.40h-3.20zM463.9 325.3l1.60 3.40h-3.20zM466.7 325.3l1.60 3.40h-3.20zM469.4 325.3l1.60 3.40h-3.20zM472.2 325.3l1.60 3.40h-3.20zM474.9 325.3l1.60 3.40h-3.20zM477.7 325.3l1.60 3.40h-3.20zM480.5 325.3l1.60 3.40h-3.20zM483.2 325.3l1.60 3.40h-3.20zM486.0 325.3l1.60 3.40h-3.20zM488.8 325.3l1.60 3.40h-3.20zM491.5 325.3l1.60 3.40h-3.20zM494.3 325.3l1.60 3.40h-3.20zM447.3 330.5l1.60 3.40h-3.20zM449.5 330.5l1.60 3.40h-3.20zM451.8 330.5l1.60 3.40h-3.20zM454.0 330.5l1.60 3.40h-3.20zM456.3 330.5l1.60 3.40h-3.20zM458.5 330.5l1.60 3.40h-3.20zM460.7 330.5l1.60 3.40h-3.20zM463.0 330.5l1.60 3.40h-3.20zM465.2 330.5l1.60 3.40h-3.20zM467.4 330.5l1.60 3.40h-3.20zM469.7 330.5l1.60 3.40h-3.20zM471.9 330.5l1.60 3.40h-3.20zM474.2 330.5l1.60 3.40h-3.20zM476.4 330.5l1.60 3.40h-3.20zM478.6 330.5l1.60 3.40h-3.20zM480.9 330.5l1.60 3.40h-3.20zM483.1 330.5l1.60 3.40h-3.20zM485.3 330.5l1.60 3.40h-3.20zM487.6 330.5l1.60 3.40h-3.20zM489.8 330.5l1.60 3.40h-3.20zM492.1 330.5l1.60 3.40h-3.20zM494.3 330.5l1.60 3.40h-3.20zM447.3 335.6l1.60 3.40h-3.20zM449.0 335.6l1.60 3.40h-3.20zM450.8 335.6l1.60 3.40h-3.20zM452.5 335.6l1.60 3.40h-3.20zM454.3 335.6l1.60 3.40h-3.20zM456.0 335.6l1.60 3.40h-3.20zM457.7 335.6l1.60 3.40h-3.20zM459.5 335.6l1.60 3.40h-3.20zM461.2 335.6l1.60 3.40h-3.20zM463.0 335.6l1.60 3.40h-3.20zM464.7 335.6l1.60 3.40h-3.20zM466.4 335.6l1.60 3.40h-3.20zM468.2 335.6l1.60 3.40h-3.20zM469.9 335.6l1.60 3.40h-3.20zM471.7 335.6l1.60 3.40h-3.20zM473.4 335.6l1.60 3.40h-3.20zM475.2 335.6l1.60 3.40h-3.20zM476.9 335.6l1.60 3.40h-3.20zM478.6 335.6l1.60 3.40h-3.20zM480.4 335.6l1.60 3.40h-3.20zM482.1 335.6l1.60 3.40h-3.20zM483.9 335.6l1.60 3.40h-3.20zM485.6 335.6l1.60 3.40h-3.20zM487.3 335.6l1.60 3.40h-3.20zM489.1 335.6l1.60 3.40h-3.20zM490.8 335.6l1.60 3.40h-3.20zM492.6 335.6l1.60 3.40h-3.20zM494.3 335.6l1.60 3.40h-3.20zM447.3 340.7l1.60 3.40h-3.20zM450.7 340.7l1.60 3.40h-3.20zM454.0 340.7l1.60 3.40h-3.20zM457.4 340.7l1.60 3.40h-3.20zM460.7 340.7l1.60 3.40h-3.20zM464.1 340.7l1.60 3.40h-3.20zM467.4 340.7l1.60 3.40h-3.20zM470.8 340.7l1.60 3.40h-3.20zM474.2 340.7l1.60 3.40h-3.20zM477.5 340.7l1.60 3.40h-3.20zM480.9 340.7l1.60 3.40h-3.20zM484.2 340.7l1.60 3.40h-3.20zM487.6 340.7l1.60 3.40h-3.20zM490.9 340.7l1.60 3.40h-3.20zM494.3 340.7l1.60 3.40h-3.20zM447.3 345.8l1.60 3.40h-3.20zM449.5 345.8l1.60 3.40h-3.20zM451.8 345.8l1.60 3.40h-3.20zM454.0 345.8l1.60 3.40h-3.20zM456.3 345.8l1.60 3.40h-3.20zM458.5 345.8l1.60 3.40h-3.20zM460.7 345.8l1.60 3.40h-3.20zM463.0 345.8l1.60 3.40h-3.20zM465.2 345.8l1.60 3.40h-3.20zM467.4 345.8l1.60 3.40h-3.20zM469.7 345.8l1.60 3.40h-3.20zM471.9 345.8l1.60 3.40h-3.20zM474.2 345.8l1.60 3.40h-3.20zM476.4 345.8l1.60 3.40h-3.20zM478.6 345.8l1.60 3.40h-3.20zM480.9 345.8l1.60 3.40h-3.20zM483.1 345.8l1.60 3.40h-3.20zM485.3 345.8l1.60 3.40h-3.20zM487.6 345.8l1.60 3.40h-3.20zM489.8 345.8l1.60 3.40h-3.20zM492.1 345.8l1.60 3.40h-3.20zM494.3 345.8l1.60 3.40h-3.20zM454.7 351.0l1.60 3.40h-3.20zM459.3 351.0l1.60 3.40h-3.20zM463.9 351.0l1.60 3.40h-3.20zM468.5 351.0l1.60 3.40h-3.20zM473.1 351.0l1.60 3.40h-3.20zM477.7 351.0l1.60 3.40h-3.20zM482.3 351.0l1.60 3.40h-3.20zM486.9 351.0l1.60 3.40h-3.20zM463.9 356.1l1.60 3.40h-3.20zM468.5 356.1l1.60 3.40h-3.20zM473.1 356.1l1.60 3.40h-3.20zM477.7 356.1l1.60 3.40h-3.20zM461.6 361.2l1.60 3.40h-3.20zM466.2 361.2l1.60 3.40h-3.20zM470.8 361.2l1.60 3.40h-3.20zM475.4 361.2l1.60 3.40h-3.20zM480.0 361.2l1.60 3.40h-3.20zM466.2 366.4l1.60 3.40h-3.20zM470.8 366.4l1.60 3.40h-3.20zM475.4 366.4l1.60 3.40h-3.20zM468.5 371.5l1.60 3.40h-3.20zM473.1 371.5l1.60 3.40h-3.20zM461.6 376.6l1.60 3.40h-3.20zM466.2 376.6l1.60 3.40h-3.20zM470.8 376.6l1.60 3.40h-3.20zM475.4 376.6l1.60 3.40h-3.20zM480.0 376.6l1.60 3.40h-3.20zM470.8 381.8l1.60 3.40h-3.20zM466.2 386.9l1.60 3.40h-3.20zM470.8 386.9l1.60 3.40h-3.20zM475.4 386.9l1.60 3.40h-3.20zM470.8 402.3l1.60 3.40h-3.20z" fill="none" stroke="#9f3044" stroke-width="1.00" stroke-linejoin="miter"/>
<g stroke="#000" fill="none"><path d="M347 35.3V63.9M347 188.3V75.8" stroke-width="1.7"/><path d="M344 63.1H349.1M342 76.5H349" stroke-width="1.6"/><path d="M342 43.3H347M342 59.5H347M342 113.2H347M342 150.7H347M342 187.7H347" stroke-width="1"/><path d="M346.2 187.7H499.7" stroke-width="1.5"/><path d="M384.7 187.7V192.8M461.2 187.7V192.8" stroke-width="1.3"/><path d="M55.05 251V410" stroke-width="1.7"/><path d="M50.3 255.5H55M50.3 306.8H55M50.3 358.1H55M50.3 409.3H55" stroke-width="1"/><path d="M54.2 409.3H285" stroke-width="1.5"/><path d="M112.6 409.3V414M227.4 409.3V414" stroke-width="1.3"/><path d="M355.05 251V410" stroke-width="1.7"/><path d="M350.5 255.5H355M350.5 306.8H355M350.5 358.1H355M350.5 409.3H355" stroke-width="1"/><path d="M354.2 409.3H509.6" stroke-width="1.5"/><path d="M393.9 409.3V414M470.8 409.3V414" stroke-width="1.3"/></g>
<g stroke="#000" fill="none"><path d="M359.1 158.9H410.6" stroke-width="1.7"/><path d="M384.8 145.6V172.9" stroke-width="1.3"/><path d="M372.3 145.6H397.3M372.3 172.9H397.3" stroke-width="1.15"/><path d="M435.9 157.0H486.4" stroke-width="1.7"/><path d="M461.1 133.4V180.2" stroke-width="1.3"/><path d="M448.3 133.4H473.9M448.3 180.2H473.9" stroke-width="1.15"/><path d="M74.6 358.0H150.8" stroke-width="1.7"/><path d="M112.7 333.5V382.4" stroke-width="1.3"/><path d="M93.7 333.5H131.7M93.7 382.4H131.7" stroke-width="1.15"/><path d="M189.1 368.2H266.1" stroke-width="1.7"/><path d="M227.6 352.4V383.2" stroke-width="1.3"/><path d="M208.6 352.4H246.6M208.6 383.2H246.6" stroke-width="1.15"/><path d="M368.2 315.5H419.8" stroke-width="1.7"/><path d="M394.0 295.2V334.9" stroke-width="1.3"/><path d="M381.3 295.2H406.7M381.3 334.9H406.7" stroke-width="1.15"/><path d="M445.2 324.6H496.4" stroke-width="1.7"/><path d="M470.8 301.9V346.5" stroke-width="1.3"/><path d="M458.5 301.9H483.1M458.5 346.5H483.1" stroke-width="1.15"/></g>
<g opacity="0.999"><g font-size="11.5" text-anchor="end"><text x="337.6" y="47.2">8</text><text x="337.6" y="63.4">4</text><text x="337.6" y="80.4">3</text><text x="337.6" y="117.2">2</text><text x="337.6" y="154.7">1</text><text x="337.6" y="191.8">0</text><text x="46.4" y="259.6">30</text><text x="46.4" y="310.9">20</text><text x="46.4" y="362.2">10</text><text x="46.4" y="413.4">0</text><text x="346.3" y="259.6">1.0</text><text x="346.3" y="310.9">0.9</text><text x="346.3" y="362.2">0.8</text><text x="346.3" y="413.4">0.7</text></g>
<g font-size="11.8" text-anchor="middle"><text x="385.2" y="208.0">pre</text><text x="461.5" y="208.0">post</text><text x="112.8" y="428.7">pre</text><text x="227.6" y="428.7">post</text><text x="394.2" y="428.7">pre</text><text x="470.6" y="428.7">post</text></g>
<text font-size="13.5" text-anchor="middle" transform="translate(321 111.6) rotate(-90)" textLength="98" lengthAdjust="spacingAndGlyphs">Speed (µm/min)</text><text font-size="13.5" text-anchor="middle" transform="translate(23 329.2) rotate(-90)" textLength="114" lengthAdjust="spacingAndGlyphs">Displacement (uM)</text><text font-size="13.5" text-anchor="middle" transform="translate(321 330.2) rotate(-90)" textLength="60.3" lengthAdjust="spacingAndGlyphs">Sphericity</text>
<text x="251.1" y="287.6" font-size="11" text-anchor="middle" fill="#3a3a3a">*</text><text x="502.4" y="272.6" font-size="11" text-anchor="middle" fill="#3a3a3a">*</text>
</g></svg></body></html>
